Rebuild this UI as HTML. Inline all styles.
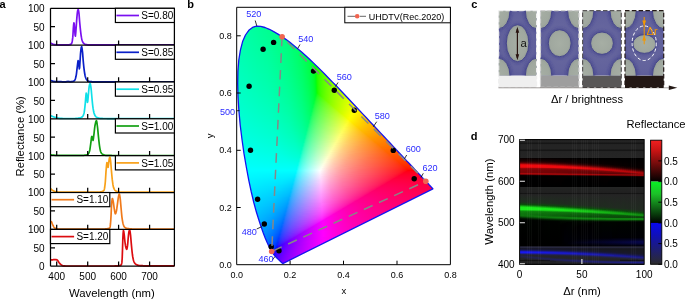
<!DOCTYPE html>
<html><head><meta charset="utf-8"><title>figure</title>
<style>
html,body{margin:0;padding:0;background:#fff}
body{width:685px;height:300px;overflow:hidden;position:relative;font-family:"Liberation Sans",Arial,sans-serif}
#cie{position:absolute;left:236px;top:0;width:210px;height:270px;clip-path:polygon(47.2px 263.3px,47.2px 263.3px,47.2px 263.3px,47.2px 263.3px,47.1px 263.3px,47.1px 263.3px,47.1px 263.3px,47.1px 263.3px,47.0px 263.3px,47.0px 263.3px,47.0px 263.3px,47.0px 263.3px,46.9px 263.3px,46.9px 263.3px,46.8px 263.3px,46.8px 263.3px,46.7px 263.3px,46.7px 263.3px,46.6px 263.3px,46.6px 263.3px,46.5px 263.2px,46.4px 263.2px,46.3px 263.1px,46.1px 263.0px,46.0px 262.9px,45.8px 262.7px,45.6px 262.6px,45.4px 262.4px,45.2px 262.1px,44.9px 261.9px,44.6px 261.6px,44.3px 261.3px,43.9px 260.9px,43.5px 260.6px,43.1px 260.1px,42.5px 259.6px,42.0px 259.1px,41.4px 258.5px,40.7px 257.8px,39.9px 257.1px,39.2px 256.2px,38.3px 255.2px,37.4px 254.0px,36.4px 252.5px,35.2px 250.6px,33.9px 248.2px,32.4px 245.3px,30.8px 241.8px,29.1px 237.7px,27.2px 232.7px,25.1px 226.7px,22.8px 219.8px,20.3px 211.8px,17.8px 202.5px,15.3px 192.0px,12.8px 180.3px,10.4px 167.5px,8.0px 153.7px,6.0px 139.5px,4.2px 125.0px,2.9px 110.7px,2.0px 96.7px,1.7px 83.6px,1.9px 71.3px,2.8px 60.0px,4.4px 50.1px,6.6px 41.6px,9.5px 35.0px,12.8px 30.3px,16.5px 27.4px,20.5px 26.1px,24.7px 26.3px,29.0px 27.5px,33.4px 29.3px,37.7px 31.6px,42.0px 34.1px,46.2px 36.8px,50.2px 39.6px,54.2px 42.6px,58.1px 45.7px,62.0px 48.9px,65.9px 52.2px,69.8px 55.7px,73.6px 59.3px,77.4px 62.9px,81.3px 66.6px,85.1px 70.4px,88.9px 74.3px,92.7px 78.2px,96.5px 82.1px,100.4px 86.0px,104.2px 90.0px,108.0px 94.0px,111.8px 98.0px,115.5px 102.0px,119.3px 106.0px,123.0px 110.0px,126.7px 113.9px,130.4px 117.8px,134.0px 121.7px,137.6px 125.5px,141.1px 129.2px,144.5px 132.9px,147.9px 136.5px,151.1px 139.9px,154.3px 143.3px,157.4px 146.6px,160.3px 149.8px,163.1px 152.7px,165.7px 155.5px,168.2px 158.1px,170.5px 160.7px,172.8px 163.0px,174.9px 165.2px,176.8px 167.3px,178.5px 169.1px,180.2px 170.9px,181.6px 172.5px,183.0px 173.9px,184.3px 175.3px,185.4px 176.5px,186.4px 177.6px,187.4px 178.6px,188.3px 179.5px,189.0px 180.4px,189.8px 181.2px,190.5px 181.9px,191.1px 182.6px,191.7px 183.2px,192.3px 183.8px,192.8px 184.3px,193.2px 184.8px,193.6px 185.3px,194.0px 185.7px,194.3px 186.0px,194.6px 186.3px,194.9px 186.6px,195.1px 186.8px,195.3px 187.1px,195.5px 187.3px,195.7px 187.4px,195.8px 187.6px,195.9px 187.7px,196.0px 187.8px,196.1px 187.9px,196.2px 188.0px,196.3px 188.1px,196.4px 188.2px,196.4px 188.3px,196.5px 188.4px,196.6px 188.4px,196.7px 188.5px,196.7px 188.6px,196.8px 188.6px,196.8px 188.7px,196.9px 188.7px,196.9px 188.7px,196.9px 188.8px,196.9px 188.8px,196.9px 188.8px,196.9px 188.8px)}
#cie i{position:absolute;left:0;width:210px;height:1px;display:block}
#heat{position:absolute;left:519px;top:139px;width:126px;height:126px;overflow:hidden}
#heat i{position:absolute;top:0;height:126px;display:block}
#heat b{position:absolute;top:0;height:126px;display:block;background:repeating-linear-gradient(90deg,rgba(255,255,255,.035) 0,rgba(255,255,255,.035) .7px,transparent .7px,transparent 2.2px)}
svg{position:absolute;left:0;top:0}
svg text{font-family:"Liberation Sans",Arial,sans-serif}
</style></head><body>
<div id="cie">
<i style="top:26px;background:linear-gradient(90deg,#00ffa0 16px,#00ff93 30px)"></i>
<i style="top:27px;background:linear-gradient(90deg,#00ffa2 14px,#00ff92 32px)"></i>
<i style="top:28px;background:linear-gradient(90deg,#00ffa4 12px,#00ff8f 35px)"></i>
<i style="top:29px;background:linear-gradient(90deg,#00ffa5 11px,#00ff8d 37px)"></i>
<i style="top:30px;background:linear-gradient(90deg,#00ffa6 10px,#00ff8b 39px)"></i>
<i style="top:31px;background:linear-gradient(90deg,#00ffa7 9px,#00ff8a 40px)"></i>
<i style="top:32px;background:linear-gradient(90deg,#00ffa8 9px,#00ff8d 38px,#00ff87 42px)"></i>
<i style="top:33px;background:linear-gradient(90deg,#00ffa9 8px,#00ff8b 40px,#00ff85 44px)"></i>
<i style="top:34px;background:linear-gradient(90deg,#00ffaa 7px,#00ff8f 37px,#00ff84 45px)"></i>
<i style="top:35px;background:linear-gradient(90deg,#00ffaa 7px,#00ff8f 37px,#00ff81 47px)"></i>
<i style="top:36px;background:linear-gradient(90deg,#00ffab 7px,#00ff8c 40px,#00ff80 48px)"></i>
<i style="top:37px;background:linear-gradient(90deg,#00ffac 6px,#00ff8e 39px,#00ff7d 50px)"></i>
<i style="top:38px;background:linear-gradient(90deg,#00ffac 6px,#00ff92 36px,#00ff7c 51px)"></i>
<i style="top:39px;background:linear-gradient(90deg,#00ffad 5px,#00ff91 37px,#00ff79 53px)"></i>
<i style="top:40px;background:linear-gradient(90deg,#00ffad 5px,#00ff94 35px,#00ff77 54px)"></i>
<i style="top:41px;background:linear-gradient(90deg,#00ffae 5px,#00ff91 38px,#00ff76 55px)"></i>
<i style="top:42px;background:linear-gradient(90deg,#00ffaf 4px,#00ff95 35px,#00ff76 55px,#00ff72 57px)"></i>
<i style="top:43px;background:linear-gradient(90deg,#00ffaf 4px,#00ff94 36px,#00ff75 56px,#00ff70 58px)"></i>
<i style="top:44px;background:linear-gradient(90deg,#00ffb0 4px,#00ff94 36px,#00ff77 55px,#00ff6e 59px)"></i>
<i style="top:45px;background:linear-gradient(90deg,#00ffb1 3px,#00ff94 37px,#00ff76 56px,#00ff6a 61px)"></i>
<i style="top:46px;background:linear-gradient(90deg,#00ffb1 3px,#00ff99 33px,#00ff78 55px,#00ff68 62px)"></i>
<i style="top:47px;background:linear-gradient(90deg,#00ffb1 3px,#00ff99 33px,#00ff7b 54px,#00ff66 63px)"></i>
<i style="top:48px;background:linear-gradient(90deg,#00ffb2 3px,#00ff97 35px,#00ff79 55px,#00ff63 64px)"></i>
<i style="top:49px;background:linear-gradient(90deg,#00ffb3 2px,#00ff97 36px,#00ff7a 55px,#00ff61 65px)"></i>
<i style="top:50px;background:linear-gradient(90deg,#00ffb3 2px,#00ff9b 32px,#00ff80 52px,#00ff61 65px,#00ff5e 66px)"></i>
<i style="top:51px;background:linear-gradient(90deg,#00ffb4 2px,#00ff99 35px,#00ff7b 55px,#00ff5b 67px,#00ff58 68px)"></i>
<i style="top:52px;background:linear-gradient(90deg,#00ffb4 2px,#00ff9c 32px,#00ff81 52px,#00ff62 65px,#00ff54 69px)"></i>
<i style="top:53px;background:linear-gradient(90deg,#00ffb5 2px,#00ff9a 35px,#00ff7c 55px,#00ff5c 67px,#00ff51 70px)"></i>
<i style="top:54px;background:linear-gradient(90deg,#00ffb5 2px,#00ff9b 34px,#00ff7e 54px,#00ff5d 67px,#00ff4d 71px)"></i>
<i style="top:55px;background:linear-gradient(90deg,#00ffb6 1px,#00ff9b 35px,#00ff7d 55px,#00ff5d 67px,#00ff49 72px)"></i>
<i style="top:56px;background:linear-gradient(90deg,#00ffb6 1px,#00ff9e 32px,#00ff83 52px,#00ff64 65px,#00ff44 73px)"></i>
<i style="top:57px;background:linear-gradient(90deg,#00ffb7 1px,#00ff9c 35px,#00ff7c 56px,#00ff5b 68px,#00ff3f 74px)"></i>
<i style="top:58px;background:linear-gradient(90deg,#00ffb7 1px,#00ff9e 33px,#00ff82 53px,#00ff65 65px,#00ff4b 72px,#00ff3a 75px)"></i>
<i style="top:59px;background:linear-gradient(90deg,#00ffb8 1px,#00ff9e 34px,#00ff7d 56px,#00ff5c 68px,#00ff40 74px,#00ff33 76px)"></i>
<i style="top:60px;background:linear-gradient(90deg,#00ffb8 1px,#00ff9f 33px,#00ff83 53px,#00ff66 65px,#00ff47 73px,#00ff2b 77px)"></i>
<i style="top:61px;background:linear-gradient(90deg,#00ffb8 1px,#00ff9f 34px,#00ff7e 56px,#00ff5d 68px,#00ff42 74px,#00ff22 78px)"></i>
<i style="top:62px;background:linear-gradient(90deg,#00ffb9 1px,#00ffa0 33px,#00ff84 53px,#00ff67 65px,#00ff48 73px,#00ff2d 77px,#00ff13 79px,#14ff00 80px)"></i>
<i style="top:63px;background:linear-gradient(90deg,#00ffba 0px,#00ff9f 35px,#00ff7f 56px,#00ff5e 68px,#00ff43 74px,#00ff23 78px,#00ff14 79px,#13ff00 80px,#23ff00 81px)"></i>
<i style="top:64px;background:linear-gradient(90deg,#00ffba 0px,#00ffa2 32px,#00ff87 52px,#00ff69 65px,#00ff49 73px,#00ff2e 77px,#00ff15 79px,#12ff00 80px,#2dff00 82px)"></i>
<i style="top:65px;background:linear-gradient(90deg,#00ffbb 0px,#00ffa0 35px,#00ff80 56px,#00ff5f 68px,#00ff3e 75px,#00ff24 78px,#00ff16 79px,#11ff00 80px,#22ff00 81px,#36ff00 83px)"></i>
<i style="top:66px;background:linear-gradient(90deg,#00ffbb 0px,#00ffa3 32px,#00ff88 52px,#00ff67 66px,#00ff4a 73px,#00ff2f 77px,#00ff17 79px,#10ff00 80px,#2dff00 82px,#3eff00 84px)"></i>
<i style="top:67px;background:linear-gradient(90deg,#00ffbc 0px,#00ffa1 35px,#00ff83 55px,#00ff64 67px,#00ff45 74px,#00ff26 78px,#00ff18 79px,#0fff00 80px,#21ff00 81px,#3eff00 84px,#45ff00 85px)"></i>
<i style="top:68px;background:linear-gradient(90deg,#00ffbc 0px,#00ffa4 32px,#00ff8b 51px,#00ff6e 64px,#00ff50 72px,#00ff38 76px,#00ff26 78px,#00ff19 79px,#0eff00 80px,#21ff00 81px,#3eff00 84px,#4cff00 86px)"></i>
<i style="top:69px;background:linear-gradient(90deg,#00ffbd 0px,#00ffa2 35px,#00ff84 55px,#00ff65 67px,#00ff46 74px,#00ff27 78px,#00ff1a 79px,#0dff00 80px,#20ff00 81px,#3eff00 84px,#52ff00 87px)"></i>
<i style="top:70px;background:linear-gradient(90deg,#00ffbd 0px,#00ffa5 32px,#00ff8c 51px,#00ff6f 64px,#00ff51 72px,#00ff3a 76px,#00ff28 78px,#00ff1b 79px,#0bff00 80px,#20ff00 81px,#3eff00 84px,#58ff00 88px)"></i>
<i style="top:71px;background:linear-gradient(90deg,#00ffbd 0px,#00ffa6 32px,#00ff8b 52px,#00ff6d 65px,#00ff4d 73px,#00ff32 77px,#00ff1b 79px,#09ff00 80px,#1fff00 81px,#36ff00 83px,#59ff00 88px,#5eff00 89px)"></i>
<i style="top:72px;background:linear-gradient(90deg,#00ffbe 0px,#00ffa6 32px,#00ff8c 52px,#00ff6d 65px,#00ff4d 73px,#00ff33 77px,#00ff1c 79px,#07ff00 80px,#1fff00 81px,#46ff00 85px,#64ff00 90px)"></i>
<i style="top:73px;background:linear-gradient(90deg,#00ffbe 0px,#00ffa7 32px,#00ff8c 52px,#00ff6b 66px,#00ff4e 73px,#00ff33 77px,#00ff1d 79px,#04ff00 80px,#1eff00 81px,#3eff00 84px,#64ff00 90px,#69ff00 91px)"></i>
<i style="top:74px;background:linear-gradient(90deg,#00ffbf 0px,#00ffa8 32px,#00ff89 54px,#00ff6b 66px,#00ff4f 73px,#00ff34 77px,#00ff1e 79px,#00ff04 80px,#1eff00 81px,#3eff00 84px,#6aff00 91px,#6fff00 92px)"></i>
<i style="top:75px;background:linear-gradient(90deg,#00ffbf 0px,#00ffa8 32px,#00ff8f 51px,#00ff72 64px,#00ff54 72px,#00ff3d 76px,#00ff1f 79px,#00ff07 80px,#1dff00 81px,#35ff00 83px,#5aff00 88px,#74ff00 93px)"></i>
<i style="top:76px;background:linear-gradient(90deg,#00ffc0 0px,#00ffa6 35px,#00ff88 55px,#00ff6d 66px,#00ff50 73px,#00ff35 77px,#00ff20 79px,#00ff09 80px,#1dff00 81px,#3eff00 84px,#65ff00 90px,#79ff00 94px)"></i>
<i style="top:77px;background:linear-gradient(90deg,#00ffc0 0px,#00ffa9 32px,#00ff8d 53px,#00ff6a 67px,#00ff4b 74px,#00ff2d 78px,#00ff20 79px,#00ff0b 80px,#1cff00 81px,#35ff00 83px,#5aff00 88px,#7eff00 95px)"></i>
<i style="top:78px;background:linear-gradient(90deg,#00ffc1 0px,#00ffa6 36px,#00ff88 56px,#00ff67 68px,#00ff46 75px,#00ff2d 78px,#00ff21 79px,#00ff0d 80px,#1bff00 81px,#35ff00 83px,#5aff00 88px,#83ff00 96px)"></i>
<i style="top:79px;background:linear-gradient(90deg,#00ffc1 0px,#00ffaa 32px,#00ff90 52px,#00ff72 65px,#00ff52 73px,#00ff37 77px,#00ff22 79px,#00ff0e 80px,#1bff00 81px,#35ff00 83px,#61ff00 89px,#88ff00 97px)"></i>
<i style="top:80px;background:linear-gradient(90deg,#00ffc2 0px,#00ffa7 36px,#00ff89 56px,#00ff68 68px,#00ff47 75px,#00ff2f 78px,#00ff23 79px,#00ff10 80px,#1aff00 81px,#34ff00 83px,#54ff00 87px,#80ff00 95px,#88ff00 97px)"></i>
<i style="top:81px;background:linear-gradient(90deg,#00ffc2 0px,#00ffac 31px,#00ff93 51px,#00ff76 64px,#00ff58 72px,#00ff39 77px,#00ff24 79px,#00ff11 80px,#19ff00 81px,#34ff00 83px,#55ff00 87px,#85ff00 96px,#8dff00 98px)"></i>
<i style="top:82px;background:linear-gradient(90deg,#00ffc3 0px,#00ffaa 34px,#00ff8e 54px,#00ff70 66px,#00ff54 73px,#00ff39 77px,#00ff24 79px,#00ff12 80px,#19ff00 81px,#34ff00 83px,#55ff00 87px,#81ff00 95px,#92ff00 99px)"></i>
<i style="top:83px;background:linear-gradient(90deg,#00ffc3 0px,#00ffab 34px,#00ff8f 54px,#00ff6e 67px,#00ff49 75px,#00ff31 78px,#00ff14 80px,#18ff00 81px,#34ff00 83px,#5cff00 88px,#8fff00 98px,#97ff00 100px)"></i>
<i style="top:84px;background:linear-gradient(90deg,#00ffc4 0px,#00ffab 34px,#00ff91 53px,#00ff75 65px,#00ff55 73px,#00ff3b 77px,#00ff26 79px,#00ff15 80px,#17ff00 81px,#34ff00 83px,#5cff00 88px,#8bff00 97px,#9cff00 101px)"></i>
<i style="top:85px;background:linear-gradient(90deg,#00ffc4 0px,#00ffac 34px,#00ff90 54px,#00ff72 66px,#00ff56 73px,#00ff3c 77px,#00ff27 79px,#00ff16 80px,#16ff00 81px,#28ff00 82px,#46ff00 85px,#6eff00 91px,#9dff00 101px,#a0ff00 102px)"></i>
<i style="top:86px;background:linear-gradient(90deg,#00ffc5 0px,#00ffae 32px,#00ff96 51px,#00ff7c 63px,#00ff5c 72px,#00ff3c 77px,#00ff28 79px,#00ff17 80px,#15ff00 81px,#34ff00 83px,#56ff00 87px,#88ff00 96px,#a5ff00 103px)"></i>
<i style="top:87px;background:linear-gradient(90deg,#00ffc5 0px,#00ffaf 32px,#00ff95 52px,#00ff77 65px,#00ff57 73px,#00ff3d 77px,#00ff29 79px,#00ff18 80px,#14ff00 81px,#27ff00 82px,#47ff00 85px,#6fff00 91px,#a2ff00 102px,#aaff00 104px)"></i>
<i style="top:88px;background:linear-gradient(90deg,#00ffc6 0px,#00ffac 36px,#00ff8e 56px,#00ff71 67px,#00ff58 73px,#00ff3e 77px,#00ff29 79px,#00ff19 80px,#13ff00 81px,#26ff00 82px,#47ff00 85px,#6fff00 91px,#9fff00 101px,#afff00 105px)"></i>
<i style="top:89px;background:linear-gradient(90deg,#00ffc6 0px,#00ffb0 32px,#00ff98 51px,#00ff7e 63px,#00ff5e 72px,#00ff3f 77px,#00ff2a 79px,#00ff1a 80px,#12ff00 81px,#26ff00 82px,#47ff00 85px,#70ff00 91px,#a4ff00 102px,#b3ff00 106px)"></i>
<i style="top:90px;background:linear-gradient(90deg,#00ffc7 0px,#00ffaf 34px,#00ff94 54px,#00ff73 67px,#00ff4e 75px,#00ff2b 79px,#00ff1b 80px,#11ff00 81px,#26ff00 82px,#47ff00 85px,#70ff00 91px,#a1ff00 101px,#b8ff00 107px)"></i>
<i style="top:91px;background:linear-gradient(90deg,#00ffc7 0px,#00ffaf 35px,#00ff92 55px,#00ff77 66px,#00ff55 74px,#00ff37 78px,#00ff1d 80px,#10ff00 81px,#25ff00 82px,#3eff00 84px,#6bff00 90px,#a2ff00 101px,#bdff00 108px)"></i>
<i style="top:92px;background:linear-gradient(90deg,#00ffc8 0px,#00ffb1 33px,#00ff97 53px,#00ff78 66px,#00ff5b 73px,#00ff41 77px,#00ff2d 79px,#00ff1e 80px,#0eff00 81px,#25ff00 82px,#47ff00 85px,#71ff00 91px,#9eff00 100px,#c2ff00 109px)"></i>
<i style="top:93px;background:linear-gradient(90deg,#00ffc8 0px,#00ffb2 33px,#00ff96 54px,#00ff78 66px,#00ff5c 73px,#00ff39 78px,#00ff1f 80px,#0fff09 81px,#24ff00 82px,#47ff00 85px,#72ff00 91px,#a8ff00 102px,#c6ff00 110px)"></i>
<i style="top:94px;background:linear-gradient(90deg,#00ffc9 0px,#00ffb3 32px,#00ff9a 52px,#00ff7c 65px,#00ff5c 73px,#00ff42 77px,#00ff2e 79px,#00ff20 80px,#16ff13 81px,#32ff00 83px,#58ff00 87px,#88ff00 95px,#bdff00 107px,#cbff00 111px)"></i>
<i style="top:95px;background:linear-gradient(90deg,#00ffc9 0px,#00ffb3 33px,#00ff99 53px,#00ff7d 65px,#00ff5d 73px,#00ff43 77px,#00ff2f 79px,#00ff21 80px,#1bff19 81px,#34ff0d 83px,#3dff00 84px,#5fff00 88px,#8eff00 96px,#c2ff00 108px,#d0ff00 112px)"></i>
<i style="top:96px;background:linear-gradient(90deg,#00ffca 0px,#00ffb2 35px,#00ff96 55px,#00ff7b 66px,#00ff5e 73px,#00ff44 77px,#00ff30 79px,#07ff23 80px,#1fff1f 81px,#3fff0e 84px,#47ff00 85px,#6dff00 90px,#99ff00 98px,#d5ff00 113px)"></i>
<i style="top:97px;background:linear-gradient(90deg,#00ffca 0px,#00ffb5 32px,#00ff9c 52px,#00ff7f 65px,#00ff5f 73px,#00ff3c 78px,#00ff31 79px,#11ff27 80px,#23ff23 81px,#42ff16 84px,#49ff10 85px,#51ff04 86px,#60ff00 88px,#90ff00 96px,#c8ff00 109px,#daff00 114px)"></i>
<i style="top:98px;background:linear-gradient(90deg,#00ffcb 0px,#00ffb5 33px,#00ff9d 52px,#00ff82 64px,#00ff65 72px,#00ff46 77px,#00ff32 79px,#17ff2b 80px,#32ff24 82px,#53ff11 86px,#60ff00 88px,#86ff00 94px,#bdff00 106px,#dfff00 115px)"></i>
<i style="top:99px;background:linear-gradient(90deg,#00ffcb 0px,#00ffb6 33px,#00ff9c 53px,#00ff80 65px,#00ff60 73px,#00ff46 77px,#00ff33 79px,#1cff2f 80px,#35ff29 82px,#5bff13 87px,#68ff00 89px,#96ff00 97px,#ceff00 110px,#e4ff00 116px)"></i>
<i style="top:100px;background:linear-gradient(90deg,#00ffcc 0px,#00ffb7 32px,#00ff9f 52px,#00ff81 65px,#00ff61 73px,#00ff47 77px,#00ff3e 78px,#09ff35 79px,#20ff32 80px,#38ff2c 82px,#5dff1a 87px,#69ff0c 89px,#6fff00 90px,#9cff00 98px,#d0ff00 110px,#e9ff00 117px)"></i>
<i style="top:101px;background:linear-gradient(90deg,#00ffcd 0px,#00ffb5 35px,#00ff9c 54px,#00ff7f 66px,#00ff5d 74px,#00ff3f 78px,#24ff35 80px,#4bff2a 84px,#6bff15 89px,#71ff0e 90px,#76ff00 91px,#a7ff00 100px,#e7ff00 116px,#eeff00 118px)"></i>
<i style="top:102px;background:linear-gradient(90deg,#00ffcd 0px,#00ffb7 34px,#00ff9d 54px,#00ff80 66px,#00ff63 73px,#00ff49 77px,#00ff40 78px,#18ff3b 79px,#33ff36 81px,#5bff28 86px,#73ff16 90px,#78ff0f 91px,#7dff00 92px,#b6ff00 103px,#efff00 118px)"></i>
<i style="top:103px;background:linear-gradient(90deg,#00ffce 0px,#00ffb6 36px,#00ff9a 56px,#00ff7a 68px,#00ff5e 74px,#00ff41 78px,#1dff3e 79px,#36ff39 81px,#5dff2c 86px,#7aff18 91px,#84ff05 93px,#90ff00 95px,#ccff00 108px,#f5ff00 119px)"></i>
<i style="top:104px;background:linear-gradient(90deg,#00ffce 0px,#00ffba 32px,#00ffa2 52px,#00ff85 65px,#00ff65 73px,#00ff4b 77px,#0bff43 78px,#21ff41 79px,#42ff3a 82px,#71ff26 89px,#86ff12 93px,#90ff00 95px,#c5ff00 106px,#faff00 120px)"></i>
<i style="top:105px;background:linear-gradient(90deg,#00ffcf 0px,#00ffb9 34px,#00ffa1 53px,#00ff85 65px,#00ff66 73px,#00ff4c 77px,#25ff44 79px,#4cff3b 83px,#7eff23 91px,#8dff14 94px,#97ff00 96px,#d3ff00 109px,#ffff00 121px)"></i>
<i style="top:106px;background:linear-gradient(90deg,#00ffcf 1px,#00ffb9 35px,#00ffa0 54px,#00ff83 66px,#00ff67 73px,#00ff4d 77px,#19ff48 78px,#34ff45 80px,#56ff3c 84px,#85ff24 92px,#98ff0d 96px,#9dff00 97px,#d4ff00 109px,#feff00 120px,#fffa00 122px)"></i>
<i style="top:107px;background:linear-gradient(90deg,#00ffcf 1px,#00ffbc 32px,#00ffa3 53px,#00ff84 66px,#00ff68 73px,#00ff4d 77px,#1eff4b 78px,#41ff46 81px,#6bff38 87px,#95ff1c 95px,#9fff0f 97px,#a4ff00 98px,#e2ff00 112px,#fffe00 120px,#fff500 123px)"></i>
<i style="top:108px;background:linear-gradient(90deg,#00ffd0 1px,#00ffbb 34px,#00ffa5 52px,#00ff8b 64px,#00ff6e 72px,#00ff56 76px,#0dff50 77px,#22ff4e 78px,#43ff48 81px,#6dff3b 87px,#97ff22 95px,#a5ff11 98px,#aaff01 99px,#e8ff00 113px,#feff00 119px,#fff000 124px)"></i>
<i style="top:109px;background:linear-gradient(90deg,#00ffd1 1px,#00ffbb 35px,#00ffa1 55px,#00ff83 67px,#00ff5e 75px,#00ff57 76px,#26ff50 78px,#46ff4b 81px,#75ff3c 88px,#a3ff1f 97px,#acff12 99px,#b5ff00 101px,#f9ff00 117px,#fffa00 120px,#ffeb00 125px)"></i>
<i style="top:110px;background:linear-gradient(90deg,#00ffd1 1px,#00ffbc 35px,#00ffa2 55px,#00ff84 67px,#00ff5f 75px,#00ff58 76px,#1aff55 77px,#35ff51 79px,#57ff4a 83px,#87ff38 91px,#a9ff20 98px,#b2ff14 100px,#bcff00 102px,#feff00 118px,#ffe600 126px)"></i>
<i style="top:111px;background:linear-gradient(90deg,#00ffd2 1px,#00ffbb 37px,#00ff9f 57px,#00ff81 68px,#00ff60 75px,#00ff59 76px,#1fff57 77px,#42ff52 80px,#73ff45 87px,#a6ff29 97px,#b9ff15 101px,#c2ff00 103px,#fdff00 117px,#ffe200 127px)"></i>
<i style="top:112px;background:linear-gradient(90deg,#00ffd2 1px,#00ffbf 33px,#00ffa7 53px,#00ff8c 65px,#00ff6c 73px,#00ff61 75px,#0eff5b 76px,#23ff5a 77px,#3bff57 79px,#62ff4e 84px,#95ff3a 93px,#bbff1d 101px,#c4ff0e 103px,#c8ff00 104px,#ffff00 117px,#ffdd00 128px)"></i>
<i style="top:113px;background:linear-gradient(90deg,#00ffd3 1px,#00ffbe 35px,#00ffa6 54px,#00ff8a 66px,#00ff68 74px,#00ff62 75px,#27ff5c 77px,#47ff58 80px,#71ff4d 86px,#afff2f 98px,#c6ff18 103px,#caff10 104px,#ceff00 105px,#fdff00 116px,#ffd900 129px)"></i>
<i style="top:114px;background:linear-gradient(90deg,#00ffd4 1px,#00ffbe 36px,#00ffa7 54px,#00ff8b 66px,#00ff69 74px,#00ff63 75px,#1bff60 76px,#37ff5d 78px,#59ff57 82px,#8fff46 91px,#bfff29 101px,#d1ff12 105px,#d5ff04 106px,#deff00 108px,#ffff00 116px,#ffd900 128px,#ffd400 130px)"></i>
<i style="top:115px;background:linear-gradient(90deg,#00ffd4 1px,#00ffc0 35px,#00ffa8 54px,#00ff8c 66px,#00ff70 73px,#00ff64 75px,#20ff63 76px,#3aff60 78px,#69ff56 84px,#aaff3d 96px,#ceff21 104px,#d7ff14 106px,#e0ff00 108px,#feff00 115px,#ffd500 129px,#ffd000 131px)"></i>
<i style="top:116px;background:linear-gradient(90deg,#00ffd5 1px,#00ffc2 33px,#00ffab 53px,#00ff8d 66px,#00ff71 73px,#00ff6b 74px,#24ff65 76px,#3dff62 78px,#6bff59 84px,#acff41 96px,#d0ff26 104px,#deff15 107px,#e6ff00 109px,#fffe00 115px,#ffd500 128px,#ffcc00 132px)"></i>
<i style="top:117px;background:linear-gradient(90deg,#00ffd5 1px,#00ffc3 33px,#00ffac 53px,#00ff8e 66px,#00ff72 73px,#00ff6c 74px,#17ff69 75px,#35ff66 77px,#58ff60 81px,#8aff53 89px,#c5ff36 101px,#e0ff1e 107px,#e9ff0e 109px,#edff00 110px,#feff00 114px,#ffd800 126px,#ffc800 133px)"></i>
<i style="top:118px;background:linear-gradient(90deg,#00ffd6 2px,#00ffc1 36px,#00ffab 54px,#00ff8f 66px,#00ff73 73px,#00ff6d 74px,#1cff6b 75px,#38ff68 77px,#62ff61 82px,#9cff50 92px,#d5ff31 104px,#ebff18 109px,#efff10 110px,#f4ff00 111px,#fffd00 114px,#ffd600 126px,#ffc400 134px)"></i>
<i style="top:119px;background:linear-gradient(90deg,#00ffd6 2px,#00ffc3 35px,#00ffac 54px,#00ff90 66px,#00ff74 73px,#05ff6f 74px,#21ff6d 75px,#3bff6b 77px,#5dff65 81px,#99ff55 91px,#d2ff39 103px,#edff20 109px,#f6ff12 111px,#faff00 112px,#fffb00 114px,#ffd400 126px,#ffc200 134px)"></i>
<i style="top:120px;background:linear-gradient(90deg,#00ffd7 2px,#00ffc3 36px,#00ffad 54px,#00ff94 65px,#00ff7a 72px,#00ff75 73px,#26ff70 75px,#47ff6c 78px,#73ff64 84px,#b4ff4e 96px,#e2ff33 106px,#f8ff1b 111px,#fdff14 112px,#fffd06 113px,#fff900 114px,#ffd700 124px,#ffbe00 135px)"></i>
<i style="top:121px;background:linear-gradient(90deg,#00ffd8 2px,#00ffc3 37px,#00ffac 55px,#00ff93 66px,#00ff76 73px,#18ff73 74px,#2aff72 75px,#4aff6e 78px,#75ff66 84px,#b6ff51 96px,#e5ff38 106px,#ffff1d 112px,#fff200 115px,#ffcb00 128px,#ffbb00 136px)"></i>
<i style="top:122px;background:linear-gradient(90deg,#00ffd8 2px,#00ffc5 36px,#00ffac 56px,#00ff91 67px,#00ff78 73px,#1eff76 74px,#44ff72 77px,#71ff6a 83px,#b3ff57 95px,#ebff39 107px,#fffc24 112px,#fff00c 115px,#ffec00 116px,#ffc900 128px,#ffb700 137px)"></i>
<i style="top:123px;background:linear-gradient(90deg,#00ffd9 2px,#00ffc7 34px,#00ffb2 53px,#00ff98 65px,#00ff7e 72px,#08ff79 73px,#22ff78 74px,#3cff76 76px,#66ff70 81px,#a1ff61 91px,#e5ff43 105px,#fffe2f 111px,#ffed17 115px,#ffe600 117px,#ffc500 129px,#ffb300 138px)"></i>
<i style="top:124px;background:linear-gradient(90deg,#00ffda 2px,#00ffc7 35px,#00ffb3 53px,#00ff99 65px,#00ff7f 72px,#27ff7a 74px,#52ff76 78px,#88ff6b 86px,#d0ff53 100px,#feff38 110px,#ffe718 116px,#ffe410 117px,#ffe000 118px,#ffb800 134px,#ffb000 139px)"></i>
<i style="top:125px;background:linear-gradient(90deg,#00ffda 2px,#00ffc8 35px,#00ffb4 53px,#00ff9a 65px,#00ff80 72px,#19ff7e 73px,#38ff7c 75px,#64ff76 80px,#a0ff68 90px,#eeff48 106px,#fffe3c 110px,#ffe119 117px,#ffde11 118px,#ffdb00 119px,#ffb800 133px,#ffac00 140px)"></i>
<i style="top:126px;background:linear-gradient(90deg,#00ffdb 2px,#00ffc8 36px,#00ffb2 55px,#00ff99 66px,#00ff82 72px,#1fff80 73px,#3bff7e 75px,#66ff78 80px,#a8ff69 91px,#f1ff4c 106px,#feff44 109px,#ffdc1a 118px,#ffd506 120px,#ffd200 121px,#ffb300 135px,#ffa900 141px)"></i>
<i style="top:127px;background:linear-gradient(90deg,#00ffdc 2px,#00ffc9 36px,#00ffb3 55px,#00ff97 67px,#00ff88 71px,#0aff83 72px,#24ff82 73px,#48ff7f 76px,#76ff78 82px,#b9ff68 94px,#fcff4b 108px,#ffe833 114px,#ffd313 120px,#ffcd00 122px,#ffab00 138px,#ffa500 142px)"></i>
<i style="top:128px;background:linear-gradient(90deg,#00ffdc 3px,#00ffc9 37px,#00ffb4 55px,#00ff9b 66px,#00ff89 71px,#28ff85 73px,#4bff82 76px,#78ff7b 82px,#c1ff69 95px,#ffff4f 108px,#ffd420 119px,#ffcb0b 122px,#ffc800 123px,#ffa600 140px,#ffa200 143px)"></i>
<i style="top:129px;background:linear-gradient(90deg,#00ffdd 3px,#00ffca 37px,#00ffb5 55px,#00ff9d 66px,#00ff8a 71px,#1bff88 72px,#39ff86 74px,#66ff81 79px,#9eff76 88px,#f8ff57 106px,#fffc52 108px,#ffcf21 120px,#ffc60d 123px,#ffc300 124px,#ffa100 142px,#ff9e00 144px)"></i>
<i style="top:130px;background:linear-gradient(90deg,#00ffdd 3px,#00ffcc 36px,#00ffb8 54px,#00ff9e 66px,#00ff8c 71px,#20ff8b 72px,#3cff89 74px,#61ff85 78px,#9bff7a 87px,#fbff5b 106px,#fffa54 108px,#ffd02a 119px,#ffc10f 124px,#ffbe00 125px,#ff9f00 142px,#ff9b00 145px)"></i>
<i style="top:131px;background:linear-gradient(90deg,#00ffde 3px,#00ffcc 37px,#00ffb8 55px,#00ff9c 67px,#00ff91 70px,#0cff8e 71px,#25ff8d 72px,#3fff8b 74px,#63ff87 78px,#9dff7d 87px,#feff5e 106px,#ffd132 118px,#ffbf17 124px,#ffbc10 125px,#ffb903 126px,#ffad00 132px,#ff9800 146px)"></i>
<i style="top:132px;background:linear-gradient(90deg,#00ffdf 3px,#00ffcb 40px,#00ffb2 59px,#00ff97 69px,#00ff93 70px,#29ff8f 72px,#43ff8d 74px,#74ff87 80px,#b5ff7a 91px,#fffe61 106px,#ffd239 117px,#ffba18 125px,#ffb300 128px,#ff9600 146px,#ff9500 147px)"></i>
<i style="top:133px;background:linear-gradient(90deg,#00ffdf 3px,#00ffce 37px,#00ffba 55px,#00ffa2 66px,#00ff94 70px,#1cff93 71px,#3bff91 73px,#68ff8c 78px,#a7ff81 88px,#feff67 105px,#ffd340 116px,#ffb618 126px,#ffae00 129px,#ff9100 148px)"></i>
<i style="top:134px;background:linear-gradient(90deg,#00ffe0 3px,#00ffcf 37px,#00ffba 56px,#00ffa1 67px,#00ff96 70px,#22ff95 71px,#3eff93 73px,#63ff90 77px,#a4ff85 87px,#fcff6d 104px,#ffe758 110px,#ffbe2e 122px,#ffaf13 128px,#ffaa00 130px,#ff8e00 149px)"></i>
<i style="top:135px;background:linear-gradient(90deg,#00ffe1 3px,#00ffce 40px,#00ffb8 58px,#00ff9f 68px,#00ff9b 69px,#0eff98 70px,#26ff97 71px,#41ff96 73px,#6dff91 78px,#b7ff84 90px,#ffff70 104px,#ffd54d 114px,#ffad1a 128px,#ffa80d 130px,#ffa600 131px,#ff8c00 149px)"></i>
<i style="top:136px;background:linear-gradient(90deg,#00ffe1 4px,#00ffd0 39px,#00ffbb 57px,#00ffa4 67px,#00ff9d 69px,#2bff9a 71px,#4eff97 74px,#7dff92 80px,#c4ff85 92px,#fdff75 103px,#ffc945 117px,#ffab1f 128px,#ffa40e 131px,#ffa100 132px,#ff8900 150px)"></i>
<i style="top:137px;background:linear-gradient(90deg,#00ffe2 4px,#00ffd0 40px,#00ffba 58px,#00ffa2 68px,#00ff9f 69px,#1dff9d 70px,#3cff9b 72px,#62ff98 76px,#99ff90 84px,#f0ff7d 100px,#ffff78 103px,#ffd455 113px,#ffa61f 129px,#ffa00f 132px,#ff9d04 133px,#ff9a00 135px,#ff8600 151px)"></i>
<i style="top:138px;background:linear-gradient(90deg,#00ffe3 4px,#00ffd1 40px,#00ffbc 58px,#00ffa4 68px,#00ffa0 69px,#23ff9f 70px,#40ff9e 72px,#6dff9a 77px,#adff90 87px,#fdff7d 102px,#ffcb51 115px,#ffa21f 130px,#ff9c10 133px,#ff9800 135px,#ff8300 152px)"></i>
<i style="top:139px;background:linear-gradient(90deg,#00ffe3 4px,#00ffd5 36px,#00ffc2 55px,#00ffae 65px,#00ffa5 68px,#10ffa3 69px,#28ffa2 70px,#43ffa0 72px,#6fff9c 77px,#b0ff93 87px,#fffe80 102px,#ffd35c 112px,#ffa52b 128px,#ff9811 134px,#ff9400 136px,#ff8000 153px)"></i>
<i style="top:140px;background:linear-gradient(90deg,#00ffe4 4px,#00ffd4 39px,#00ffbf 58px,#00ffa7 68px,#2cffa4 70px,#50ffa2 73px,#80ff9d 79px,#d4ff8f 93px,#feff85 101px,#ffcd5b 113px,#ff9c24 131px,#ff920b 136px,#ff9000 137px,#ff7c00 154px)"></i>
<i style="top:141px;background:linear-gradient(90deg,#00ffe5 4px,#00ffd5 39px,#00ffc0 58px,#00ffa9 68px,#1fffa8 69px,#3effa6 71px,#6dffa2 76px,#b5ff99 87px,#fffd88 101px,#ffd264 111px,#ffa83a 125px,#ff9218 135px,#ff8e0c 137px,#ff8c00 138px,#ff7900 155px)"></i>
<i style="top:142px;background:linear-gradient(90deg,#00ffe6 4px,#00ffd5 41px,#00ffc0 59px,#00ffab 68px,#24ffaa 69px,#41ffa9 71px,#67ffa6 75px,#9fff9f 83px,#ffff8d 100px,#ffd369 110px,#ffa63d 125px,#ff8e19 136px,#ff8a0d 138px,#ff8800 139px,#ff7600 156px)"></i>
<i style="top:143px;background:linear-gradient(90deg,#00ffe7 4px,#00ffd6 41px,#00ffc2 59px,#00ffb0 67px,#29ffad 69px,#45ffab 71px,#7affa7 77px,#c5ff9d 89px,#fcff92 99px,#ffe57c 105px,#ffba56 117px,#ff8e21 135px,#ff860f 139px,#ff8300 141px,#ff7300 157px)"></i>
<i style="top:144px;background:linear-gradient(90deg,#00ffe7 5px,#00ffd8 40px,#00ffc3 59px,#00ffb2 67px,#1affb0 68px,#2effaf 69px,#52ffad 72px,#7cffaa 77px,#bcffa1 87px,#ffff95 99px,#ffd270 109px,#ffa242 125px,#ff861a 138px,#ff8310 140px,#ff7f00 142px,#ff7000 158px)"></i>
<i style="top:145px;background:linear-gradient(90deg,#00ffe8 5px,#00ffd8 42px,#00ffc5 59px,#00ffb3 67px,#20ffb2 68px,#40ffb1 70px,#67ffae 74px,#a1ffa9 82px,#fdff9a 98px,#ffcc6e 110px,#ff9e41 126px,#ff831a 139px,#ff7d09 142px,#ff7c00 143px,#ff6d00 159px)"></i>
<i style="top:146px;background:linear-gradient(90deg,#00ffe9 5px,#00ffd9 42px,#00ffc5 60px,#00ffb8 66px,#06ffb6 67px,#26ffb5 68px,#43ffb4 70px,#72ffb0 75px,#b6ffa9 85px,#fffe9c 98px,#ffd176 108px,#ffa851 121px,#ff811e 139px,#ff7a0b 143px,#ff7800 144px,#ff6a00 160px)"></i>
<i style="top:147px;background:linear-gradient(90deg,#00ffea 5px,#00ffdb 41px,#00ffca 58px,#00ffba 66px,#2bffb8 68px,#51ffb6 71px,#84ffb2 77px,#d6ffa8 90px,#feffa1 97px,#ffce78 108px,#ffa14d 123px,#ff7d1f 140px,#ff760c 144px,#ff7400 145px,#ff6700 161px)"></i>
<i style="top:148px;background:linear-gradient(90deg,#00ffea 5px,#00ffdd 40px,#00ffca 59px,#00ffbc 66px,#1bffbb 67px,#3effba 69px,#67ffb7 73px,#a2ffb2 81px,#fbffa6 96px,#fff89f 98px,#ffcc7a 108px,#ff9f4f 123px,#ff7a1f 141px,#ff730d 145px,#ff7102 146px,#ff6400 162px)"></i>
<i style="top:149px;background:linear-gradient(90deg,#00ffeb 5px,#00ffdd 42px,#00ffcc 59px,#00ffbe 66px,#22ffbd 67px,#41ffbc 69px,#6affba 73px,#abffb4 82px,#feffa9 96px,#ffd182 106px,#ffa256 121px,#ff761f 142px,#ff6f0e 146px,#ff6c00 148px,#ff6100 163px)"></i>
<i style="top:150px;background:linear-gradient(90deg,#00ffec 5px,#00ffde 43px,#00ffc9 62px,#00ffc3 65px,#09ffc1 66px,#27ffc0 67px,#45ffbf 69px,#6dffbd 73px,#aeffb7 82px,#fcffad 95px,#ffed9d 99px,#ffc77d 108px,#ff9b53 123px,#ff721f 143px,#ff6c0f 147px,#ff6900 149px,#ff5e00 163px)"></i>
<i style="top:151px;background:linear-gradient(90deg,#00ffed 6px,#00ffde 45px,#00ffcb 62px,#00ffc5 65px,#2cffc3 67px,#48ffc2 69px,#70ffc0 73px,#b1ffba 82px,#ffffb1 95px,#ffd48c 104px,#ffab67 116px,#ff7b33 137px,#ff6a15 147px,#ff6500 150px,#ff5b00 164px)"></i>
<i style="top:152px;background:linear-gradient(90deg,#00ffee 6px,#00ffdf 45px,#00ffcf 61px,#00ffc7 65px,#1dffc6 66px,#40ffc5 68px,#6affc3 72px,#adffbe 81px,#fcffb5 94px,#ffe29c 100px,#ffb574 112px,#ff8c4b 128px,#ff6a1d 146px,#ff630a 150px,#ff6200 151px,#ff5800 165px)"></i>
<i style="top:153px;background:linear-gradient(90deg,#00ffee 6px,#00ffe2 43px,#00ffcf 62px,#00ffc9 65px,#23ffc9 66px,#43ffc8 68px,#6dffc6 72px,#b0ffc1 81px,#fffeb8 94px,#ffce8e 104px,#ff9c60 120px,#ff702e 141px,#ff6316 149px,#ff5f0c 151px,#ff5e00 152px,#ff5500 166px)"></i>
<i style="top:154px;background:linear-gradient(90deg,#00ffef 6px,#00ffe3 44px,#00ffd0 63px,#00ffce 64px,#0cffcc 65px,#29ffcc 66px,#47ffcb 68px,#70ffc9 72px,#acffc5 80px,#fdffbd 93px,#ffd093 103px,#ffa76e 115px,#ff793e 135px,#ff611a 149px,#ff5c0d 152px,#ff5a03 153px,#ff5600 159px,#ff5200 167px)"></i>
<i style="top:155px;background:linear-gradient(90deg,#00fff0 6px,#00ffe4 45px,#00ffd2 63px,#00ffd0 64px,#2effce 66px,#4bffce 68px,#7bffcb 73px,#bcffc7 82px,#fffdbf 93px,#ffcd94 103px,#ffa26d 116px,#ff723a 138px,#ff5c17 151px,#ff5600 155px,#ff4f00 168px)"></i>
<i style="top:156px;background:linear-gradient(90deg,#00fff1 6px,#00ffe5 46px,#00ffd3 64px,#1fffd2 65px,#42ffd1 67px,#6dffcf 71px,#b2ffcb 80px,#feffc5 92px,#ffce99 102px,#ffa06f 116px,#ff723e 137px,#ff5a1b 151px,#ff5308 155px,#ff5200 156px,#ff4b00 169px)"></i>
<i style="top:157px;background:linear-gradient(90deg,#00fff2 7px,#00ffe6 47px,#00ffd5 64px,#25ffd5 65px,#45ffd4 67px,#70ffd2 71px,#aeffcf 79px,#fbffc9 91px,#fff7c1 93px,#ffd09e 101px,#ffa678 113px,#ff7749 133px,#ff5418 153px,#ff5009 156px,#ff4f00 157px,#ff4800 170px)"></i>
<i style="top:158px;background:linear-gradient(90deg,#00fff3 7px,#00ffe7 48px,#00ffd9 63px,#0effd8 64px,#2bffd7 65px,#49ffd7 67px,#73ffd5 71px,#b1ffd2 79px,#ffffcd 91px,#ffd5a7 99px,#ffa479 113px,#ff7348 134px,#ff541e 152px,#ff4c0a 157px,#ff4b00 158px,#ff4500 171px)"></i>
<i style="top:159px;background:linear-gradient(90deg,#00fff4 7px,#00ffe8 49px,#00ffdc 63px,#30ffda 65px,#4dffda 67px,#76ffd9 71px,#c1ffd5 81px,#fcffd1 90px,#ffe0b5 96px,#ffb48c 107px,#ff8660 124px,#ff501f 153px,#ff480b 158px,#ff4700 159px,#ff4100 172px)"></i>
<i style="top:160px;background:linear-gradient(90deg,#00fff5 7px,#00ffea 49px,#00ffde 63px,#20ffde 64px,#35ffdd 65px,#5cffdd 68px,#92ffdb 74px,#f3ffd5 88px,#fffed4 90px,#ffd4ad 98px,#ffa884 110px,#ff7754 130px,#ff4d1f 154px,#ff450c 159px,#ff4200 161px,#ff3d00 173px)"></i>
<i style="top:161px;background:linear-gradient(90deg,#00fff6 7px,#00ffeb 51px,#00ffe1 63px,#27ffe1 64px,#48ffe0 66px,#7cffdf 71px,#c8ffdc 81px,#fdffd9 89px,#ffcdaa 99px,#ffa383 111px,#ff7758 129px,#ff491f 155px,#ff410d 160px,#ff3e00 162px,#ff3a00 174px)"></i>
<i style="top:162px;background:linear-gradient(90deg,#00fff7 7px,#00ffec 53px,#00ffe5 62px,#11ffe4 63px,#2cffe4 64px,#4cffe3 66px,#7fffe2 71px,#c4ffe0 80px,#fffedb 89px,#ffd3b3 97px,#ffa68a 109px,#ff7559 129px,#ff431d 157px,#ff3d0e 161px,#ff3a00 163px,#ff3600 175px)"></i>
<i style="top:163px;background:linear-gradient(90deg,#00fff7 8px,#00ffef 51px,#00ffe8 62px,#32ffe7 64px,#5bffe6 67px,#93ffe5 73px,#feffe1 88px,#ffcbb0 98px,#ff9e85 111px,#ff7158 130px,#ff3f1d 158px,#ff3709 163px,#ff3600 164px,#ff3200 176px)"></i>
<i style="top:164px;background:linear-gradient(90deg,#00fff8 8px,#00fff1 51px,#00ffeb 62px,#22ffea 63px,#37ffea 64px,#5fffea 67px,#9effe8 74px,#fbffe5 87px,#fff6dd 89px,#ffc8b1 98px,#ff9e89 110px,#ff6f5a 130px,#ff3b1d 159px,#ff330a 164px,#ff3100 165px,#ff2d00 177px)"></i>
<i style="top:165px;background:linear-gradient(90deg,#00fff9 8px,#00fff2 55px,#00ffee 62px,#29ffee 63px,#4affed 65px,#76ffed 69px,#b8ffeb 77px,#feffe9 87px,#ffd3bf 95px,#ffa896 106px,#ff7968 124px,#ff351b 161px,#ff2e0b 165px,#ff2c01 166px,#ff2900 178px)"></i>
<i style="top:166px;background:linear-gradient(90deg,#00fffa 8px,#00fff4 56px,#00fff1 61px,#13fff1 62px,#2efff1 63px,#4efff1 65px,#7afff0 69px,#caffef 79px,#fbffee 86px,#fff5e4 88px,#ffcbbb 96px,#ff9c8e 109px,#ff6d5f 129px,#ff331e 161px,#ff290c 166px,#ff2700 168px,#ff2400 179px)"></i>
<i style="top:167px;background:linear-gradient(90deg,#00fffc 8px,#00fff5 61px,#34fff4 63px,#5efff4 66px,#97fff3 72px,#f1fff2 84px,#fffff1 86px,#ffd6ca 93px,#ffada2 103px,#ff8076 119px,#ff4e43 144px,#ff2c1b 163px,#ff240d 167px,#ff2100 169px,#ff1f00 179px)"></i>
<i style="top:168px;background:linear-gradient(90deg,#00fffd 8px,#00fff8 61px,#24fff8 62px,#39fff8 63px,#62fff7 66px,#a3fff7 73px,#fcfff6 85px,#ffddd5 91px,#ffb5ad 100px,#ff8a83 114px,#ff5c56 135px,#ff291e 163px,#ff1e0e 168px,#ff1a00 170px,#ff1800 180px)"></i>
<i style="top:169px;background:linear-gradient(90deg,#00fffe 9px,#00fffb 61px,#2bfffb 62px,#4dfffb 64px,#84fffb 69px,#dcfffb 80px,#fffef9 85px,#ffcfcb 93px,#ffa19d 105px,#ff726f 123px,#ff211c 165px,#ff1309 170px,#ff1100 171px,#ff0f00 181px)"></i>
<i style="top:170px;background:linear-gradient(90deg,#00ffff 9px,#00ffff 60px,#15ffff 61px,#30ffff 62px,#51ffff 64px,#87ffff 69px,#d1ffff 78px,#fdffff 84px,#ffcccc 93px,#ff9e9e 105px,#ff6c6c 125px,#ff1d1f 165px,#ff0c0f 170px,#ff0008 172px,#ff0008 182px)"></i>
<i style="top:171px;background:linear-gradient(90deg,#00feff 9px,#00fcff 60px,#1efcff 61px,#35fcff 62px,#54fcff 64px,#92fcff 70px,#effbff 82px,#fdfbff 84px,#ffc9cd 93px,#ff9c9f 105px,#ff7074 122px,#ff1c23 164px,#ff0817 169px,#ff0015 170px,#ff0014 183px)"></i>
<i style="top:172px;background:linear-gradient(90deg,#00fdff 9px,#00f9ff 60px,#25f9ff 61px,#3af8ff 62px,#6df8ff 66px,#acf8ff 73px,#fdf7ff 84px,#ffc6ce 93px,#ffa0a7 103px,#ff7980 117px,#ff444c 143px,#ff1a28 163px,#ff0a1f 167px,#ff001d 168px,#ff001b 184px)"></i>
<i style="top:173px;background:linear-gradient(90deg,#00fcff 9px,#00f6ff 59px,#07f5ff 60px,#2bf5ff 61px,#4cf5ff 63px,#79f5ff 67px,#cbf3ff 77px,#fdf2ff 84px,#ffbeca 94px,#ff949e 106px,#ff6974 123px,#ff1e30 160px,#ff0c26 165px,#ff0023 167px,#ff0020 185px)"></i>
<i style="top:174px;background:linear-gradient(90deg,#00fbff 10px,#00f3ff 58px,#00f2ff 59px,#30f2ff 61px,#4ff1ff 63px,#7bf1ff 67px,#cbefff 77px,#fceeff 84px,#ffcede 90px,#ffa8b6 99px,#ff7b89 114px,#ff3d4d 144px,#ff1931 160px,#ff082a 164px,#ff0029 165px,#ff0025 186px)"></i>
<i style="top:175px;background:linear-gradient(90deg,#00faff 10px,#00f1ff 56px,#00efff 59px,#1eefff 60px,#35eeff 61px,#5eeeff 64px,#96edff 70px,#f5eaff 83px,#ffe6fb 85px,#ffbcd0 93px,#ff91a3 105px,#ff6476 123px,#ff1d38 157px,#ff0a30 162px,#ff002e 163px,#ff0029 187px)"></i>
<i style="top:176px;background:linear-gradient(90deg,#00f9ff 10px,#00f0ff 52px,#00ecff 59px,#25ebff 60px,#48ebff 62px,#74eaff 66px,#b6e8ff 74px,#fce6ff 84px,#ffc7df 90px,#ff9eb4 100px,#ff7489 115px,#ff3b53 142px,#ff183a 157px,#ff0c35 160px,#ff0033 162px,#ff002c 188px)"></i>
<i style="top:177px;background:linear-gradient(90deg,#00f8ff 10px,#00eeff 51px,#00e9ff 58px,#0ae8ff 59px,#2be8ff 60px,#4be8ff 62px,#7fe6ff 67px,#cce4ff 77px,#fbe2ff 84px,#ffd9f6 86px,#ffb6d1 93px,#ff8fa8 104px,#ff647c 121px,#ff1f42 153px,#ff0e3a 158px,#ff0037 160px,#ff002f 189px)"></i>
<i style="top:178px;background:linear-gradient(90deg,#00f6ff 10px,#00edff 48px,#00e6ff 58px,#2fe5ff 60px,#4ee4ff 62px,#81e3ff 67px,#cce0ff 77px,#fbddff 84px,#ffd5f6 86px,#ffabc9 95px,#ff83a0 107px,#ff5673 126px,#ff2047 151px,#ff0f3f 156px,#ff003c 158px,#ff0032 190px)"></i>
<i style="top:179px;background:linear-gradient(90deg,#00f5ff 11px,#00eaff 49px,#00e2ff 58px,#1fe2ff 59px,#34e1ff 60px,#5ce1ff 63px,#92dfff 69px,#e1dbff 80px,#ffd7fd 85px,#ffb0d2 93px,#ff86a7 105px,#ff5a7a 123px,#ff1c48 151px,#ff0c42 155px,#ff0240 156px,#ff0035 191px)"></i>
<i style="top:180px;background:linear-gradient(90deg,#00f4ff 11px,#00e9ff 47px,#00dfff 58px,#25dfff 59px,#46deff 61px,#72ddff 65px,#b1daff 73px,#ffd3fd 85px,#ffacd3 93px,#ff84a7 105px,#ff5579 124px,#ff1d4d 149px,#ff0e46 153px,#ff0044 155px,#ff0037 192px)"></i>
<i style="top:181px;background:linear-gradient(90deg,#00f3ff 11px,#00e7ff 46px,#00ddff 57px,#0ddcff 58px,#2adbff 59px,#49dbff 61px,#73d9ff 65px,#b2d6ff 73px,#ffcffd 85px,#ffa9d3 93px,#ff7ba2 107px,#ff4a72 128px,#ff1e51 147px,#ff0f4b 151px,#ff0048 153px,#ff003a 193px)"></i>
<i style="top:182px;background:linear-gradient(90deg,#00f2ff 11px,#00e5ff 46px,#00daff 57px,#2fd8ff 59px,#58d7ff 62px,#8ed5ff 68px,#eeceff 82px,#ffccfd 85px,#ffa2d0 94px,#ff78a3 107px,#ff4773 128px,#ff1c54 146px,#ff0c4e 150px,#ff004c 151px,#ff003c 194px)"></i>
<i style="top:183px;background:linear-gradient(90deg,#00f1ff 11px,#00e3ff 46px,#00d6ff 57px,#1fd5ff 58px,#42d5ff 60px,#6ed3ff 64px,#acd0ff 72px,#ffc8fe 85px,#ffa3d5 93px,#ff7baa 105px,#ff4f7e 123px,#ff205a 143px,#ff0d52 148px,#ff0050 150px,#ff003e 194px)"></i>
<i style="top:184px;background:linear-gradient(90deg,#00efff 12px,#00e2ff 44px,#00d3ff 57px,#25d2ff 58px,#45d2ff 60px,#6fd0ff 64px,#b4ccff 73px,#ffc4fe 85px,#ff9cd1 94px,#ff76a8 106px,#ff4a7d 124px,#ff1f5d 142px,#ff0955 147px,#ff0054 148px,#ff0041 193px,#ff0040 195px)"></i>
<i style="top:185px;background:linear-gradient(90deg,#00eeff 12px,#00e1ff 42px,#00d1ff 56px,#0ed0ff 57px,#2acfff 58px,#48ceff 60px,#71cdff 64px,#b4c8ff 73px,#ffc0fe 85px,#ff9cd6 93px,#ff76ab 105px,#ff457c 125px,#ff1d5f 141px,#ff0b59 145px,#ff0058 146px,#ff0044 190px,#ff0042 196px)"></i>
<i style="top:186px;background:linear-gradient(90deg,#00edff 12px,#00ddff 44px,#00ceff 56px,#2fccff 58px,#56cbff 61px,#8bc8ff 67px,#e1c0ff 80px,#ffbcff 85px,#ff96d2 94px,#ff6da6 107px,#ff3875 129px,#ff1760 141px,#ff005b 145px,#ff0047 188px,#ff0044 197px)"></i>
<i style="top:187px;background:linear-gradient(90deg,#00ecff 12px,#00dcff 43px,#00cbff 56px,#1fcaff 57px,#33c9ff 58px,#62c7ff 62px,#9ac3ff 69px,#f3baff 83px,#ffb9ff 85px,#ff96d7 93px,#ff70ad 105px,#ff4382 123px,#ff1c66 138px,#ff0860 142px,#ff005f 143px,#ff004a 185px,#ff0046 198px)"></i>
<i style="top:188px;background:linear-gradient(90deg,#00eaff 12px,#00dbff 42px,#00c7ff 56px,#25c7ff 57px,#44c6ff 59px,#6dc4ff 63px,#a9bfff 71px,#ffb5ff 85px,#ff8ccf 95px,#ff5fa0 110px,#ff206c 135px,#ff1166 139px,#ff0063 141px,#ff004d 182px,#ff0047 199px)"></i>
<i style="top:189px;background:linear-gradient(90deg,#00e9ff 13px,#00d9ff 42px,#00c6ff 55px,#10c4ff 56px,#2ac4ff 57px,#47c2ff 59px,#77c0ff 64px,#bdbaff 74px,#ffb1ff 85px,#ff88d0 95px,#ff5fa3 109px,#ff2874 131px,#ff0d68 138px,#ff0066 140px,#ff0050 179px,#ff0049 199px)"></i>
<i style="top:190px;background:linear-gradient(90deg,#00e8ff 13px,#00d7ff 42px,#00c3ff 55px,#2ec1ff 57px,#4abfff 59px,#78bdff 64px,#b7b7ff 73px,#feadff 85px,#ff85d0 95px,#ff5ca4 109px,#ff2375 131px,#ff0f6d 136px,#ff006a 138px,#ff0053 176px,#ff004c 197px)"></i>
<i style="top:191px;background:linear-gradient(90deg,#00e6ff 13px,#00d8ff 38px,#00c4ff 53px,#00bfff 55px,#1fbeff 56px,#40bdff 58px,#69bbff 62px,#a4b5ff 70px,#fea9ff 85px,#ff7ecd 96px,#ff519d 112px,#ff1e76 131px,#ff0b6f 135px,#ff006e 136px,#ff0057 172px,#ff004e 195px)"></i>
<i style="top:192px;background:linear-gradient(90deg,#00e5ff 13px,#00d6ff 38px,#00c3ff 52px,#00bcff 55px,#25bbff 56px,#43baff 58px,#6bb8ff 62px,#a5b2ff 70px,#fea5ff 85px,#ff78ca 97px,#ff4e9e 112px,#ff1f7b 129px,#ff0d74 133px,#ff0172 134px,#ff005b 167px,#ff0051 192px)"></i>
<i style="top:193px;background:linear-gradient(90deg,#00e4ff 14px,#00d2ff 40px,#00c0ff 52px,#00bbff 54px,#11b9ff 55px,#2ab8ff 56px,#51b6ff 59px,#84b2ff 65px,#d6a8ff 78px,#fea1ff 85px,#ff78ce 96px,#ff4da1 111px,#ff1d7d 128px,#ff0f78 131px,#ff0075 133px,#ff005e 165px,#ff0053 190px)"></i>
<i style="top:194px;background:linear-gradient(90deg,#00e2ff 14px,#00d2ff 38px,#00bdff 52px,#00b8ff 54px,#2eb5ff 56px,#5db3ff 60px,#93aeff 67px,#eda1ff 82px,#fd9dff 85px,#ff71cb 97px,#ff449d 113px,#ff1a80 127px,#ff0a7b 130px,#ff0079 131px,#ff005f 166px,#ff0056 188px)"></i>
<i style="top:195px;background:linear-gradient(90deg,#00e1ff 14px,#00d0ff 38px,#00bcff 51px,#00b4ff 54px,#20b3ff 55px,#3fb2ff 57px,#67afff 61px,#a1a9ff 69px,#fd9aff 85px,#ff6ecc 97px,#ff43a0 112px,#ff1c85 125px,#ff0d7f 128px,#ff007d 129px,#ff0063 162px,#ff0058 186px)"></i>
<i style="top:196px;background:linear-gradient(90deg,#00e0ff 14px,#00cdff 39px,#00b9ff 51px,#01b1ff 54px,#25b0ff 55px,#42afff 57px,#71abff 62px,#b4a3ff 72px,#fd96ff 85px,#ff6acc 97px,#ff3fa1 112px,#ff1987 124px,#ff0f84 126px,#ff0080 128px,#ff0066 160px,#ff005a 184px)"></i>
<i style="top:197px;background:linear-gradient(90deg,#00dfff 14px,#00caff 40px,#00b0ff 53px,#29adff 55px,#45acff 57px,#7aa7ff 63px,#c69dff 75px,#fd92ff 85px,#ff67cd 97px,#ff399f 113px,#ff168a 123px,#ff0a86 125px,#ff0085 126px,#ff006c 153px,#ff005d 182px)"></i>
<i style="top:198px;background:linear-gradient(90deg,#00ddff 15px,#00c9ff 39px,#00b2ff 51px,#00adff 53px,#1aabff 54px,#2eaaff 55px,#52a8ff 58px,#82a3ff 64px,#cc98ff 76px,#fd8eff 85px,#ff60ca 98px,#ff319e 114px,#ff188f 121px,#ff0d8b 123px,#ff0089 124px,#ff006d 154px,#ff005f 180px)"></i>
<i style="top:199px;background:linear-gradient(90deg,#00dbff 15px,#00cbff 36px,#00b2ff 50px,#00a9ff 53px,#20a8ff 54px,#3fa7ff 56px,#65a3ff 60px,#a49cff 69px,#fc8aff 85px,#ff74e5 91px,#ff4bb8 104px,#ff1a94 119px,#ff0f90 121px,#ff008c 123px,#ff0070 152px,#ff0062 178px)"></i>
<i style="top:200px;background:linear-gradient(90deg,#00daff 15px,#00c7ff 37px,#00afff 50px,#00a9ff 52px,#06a6ff 53px,#25a5ff 54px,#41a4ff 56px,#67a0ff 60px,#a498ff 69px,#fc86ff 85px,#ff70e5 91px,#ff44b6 105px,#ff1c99 117px,#ff0992 120px,#ff0091 121px,#ff0076 146px,#ff0064 176px)"></i>
<i style="top:201px;background:linear-gradient(90deg,#00d9ff 15px,#00c4ff 38px,#00acff 50px,#00a6ff 52px,#29a2ff 54px,#44a1ff 56px,#709dff 61px,#b193ff 71px,#fc82ff 85px,#ff6ce6 91px,#ff42b9 104px,#ff199c 116px,#ff0c97 118px,#ff0095 119px,#ff0077 147px,#ff0067 174px)"></i>
<i style="top:202px;background:linear-gradient(90deg,#00d7ff 16px,#00c2ff 38px,#00a9ff 50px,#00a2ff 52px,#1aa0ff 53px,#3b9fff 55px,#629bff 59px,#a093ff 68px,#fc7dff 85px,#ff68e6 91px,#ff3bb7 105px,#ff1aa1 114px,#ff0f9c 116px,#ff039a 117px,#ff0091 123px,#ff0077 149px,#ff0069 172px)"></i>
<i style="top:203px;background:linear-gradient(90deg,#00d6ff 16px,#00c0ff 38px,#00a8ff 49px,#009fff 52px,#209dff 53px,#3e9cff 55px,#6b97ff 60px,#ac8dff 70px,#ff77fd 86px,#ff4ac9 99px,#ff1ca6 112px,#ff099f 115px,#ff009d 116px,#ff007e 142px,#ff006b 170px)"></i>
<i style="top:204px;background:linear-gradient(90deg,#00d4ff 16px,#00bfff 37px,#00a5ff 49px,#009fff 51px,#099bff 52px,#259aff 53px,#4b98ff 56px,#7b92ff 62px,#bd86ff 73px,#ff73fe 86px,#ff4fd4 96px,#ff1eab 110px,#ff0ca4 113px,#ff00a2 114px,#ff0087 135px,#ff006e 168px)"></i>
<i style="top:205px;background:linear-gradient(90deg,#00d3ff 16px,#00c0ff 35px,#00a8ff 47px,#009bff 51px,#2998ff 53px,#4d95ff 56px,#7c8fff 62px,#b884ff 72px,#ff6ffe 86px,#ff4bd4 96px,#ff20b1 108px,#ff0faa 111px,#ff00a7 112px,#ff0089 134px,#ff0070 166px)"></i>
<i style="top:206px;background:linear-gradient(90deg,#00d1ff 17px,#00bbff 37px,#009fff 49px,#0098ff 51px,#1b96ff 52px,#3a94ff 54px,#6090ff 58px,#9788ff 66px,#fb6dff 85px,#ff66f9 87px,#ff3ccb 99px,#ff18b2 108px,#ff00ab 111px,#ff008f 130px,#ff0075 160px,#ff0073 164px)"></i>
<i style="top:207px;background:linear-gradient(90deg,#00cfff 17px,#00b9ff 37px,#009cff 49px,#0094ff 51px,#2093ff 52px,#3d91ff 54px,#6a8cff 59px,#b47eff 71px,#ff66fe 86px,#ff3ed2 97px,#ff1ab7 106px,#ff0cb2 108px,#ff00b0 109px,#ff008f 131px,#ff0075 162px)"></i>
<i style="top:208px;background:linear-gradient(90deg,#00ceff 17px,#00b8ff 36px,#009fff 47px,#0094ff 50px,#0b91ff 51px,#2590ff 52px,#408eff 54px,#6b89ff 59px,#af7cff 70px,#ff61fe 86px,#ff35cf 98px,#ff16bb 105px,#ff0fb8 106px,#ff00b5 107px,#ff0095 127px,#ff0079 158px,#ff0078 160px)"></i>
<i style="top:209px;background:linear-gradient(90deg,#00ccff 18px,#00b6ff 36px,#009cff 47px,#0091ff 50px,#298dff 52px,#4c8aff 55px,#8182ff 62px,#ce70ff 76px,#ff5dff 86px,#ff33d3 97px,#ff18c1 103px,#ff00b9 106px,#ff009a 124px,#ff007b 157px,#ff007b 158px)"></i>
<i style="top:210px;background:linear-gradient(90deg,#00caff 18px,#00b4ff 36px,#0099ff 47px,#008dff 50px,#1b8bff 51px,#3a89ff 53px,#6784ff 58px,#a578ff 68px,#ff58ff 86px,#ff2dd3 97px,#ff14c4 102px,#ff00bf 104px,#ff00a1 120px,#ff0082 149px,#ff007d 156px)"></i>
<i style="top:211px;background:linear-gradient(90deg,#00c9ff 18px,#00b2ff 36px,#0099ff 46px,#0089ff 50px,#2088ff 51px,#3c86ff 53px,#6082ff 57px,#9578ff 65px,#f15aff 83px,#ff53ff 86px,#ff27d4 97px,#ff0fc7 101px,#ff00c5 102px,#ff00a5 118px,#ff0088 144px,#ff0080 154px)"></i>
<i style="top:212px;background:linear-gradient(90deg,#00c7ff 18px,#00b3ff 34px,#0096ff 46px,#008aff 49px,#0d86ff 50px,#2585ff 51px,#4982ff 54px,#777bff 60px,#bb6aff 72px,#ff4eff 86px,#ff1fd4 97px,#ff12ce 99px,#ff05cb 100px,#ff00c6 102px,#ff00a8 117px,#ff008a 143px,#ff0083 152px)"></i>
<i style="top:213px;background:linear-gradient(90deg,#00c5ff 19px,#00afff 35px,#0093ff 46px,#0086ff 49px,#2982ff 51px,#547eff 55px,#8b74ff 63px,#e755ff 81px,#fe49ff 86px,#ff1bd8 96px,#ff00cf 99px,#ff00b0 113px,#ff0093 135px,#ff0085 150px)"></i>
<i style="top:214px;background:linear-gradient(90deg,#00c3ff 19px,#00adff 35px,#0093ff 45px,#0083ff 49px,#1b80ff 50px,#397eff 52px,#5d7aff 56px,#916fff 64px,#de55ff 79px,#fe43ff 86px,#ff1ddf 94px,#ff0ed8 96px,#ff00d5 97px,#ff00b1 113px,#ff0092 137px,#ff0088 148px)"></i>
<i style="top:215px;background:linear-gradient(90deg,#00c2ff 19px,#00a7ff 37px,#008cff 46px,#007fff 49px,#207eff 50px,#3c7bff 52px,#6675ff 57px,#a866ff 68px,#f046ff 83px,#fe3dff 86px,#ff20e7 92px,#ff12e0 94px,#ff03dc 95px,#ff00cb 101px,#ff00aa 118px,#ff008d 143px,#ff008b 146px)"></i>
<i style="top:216px;background:linear-gradient(90deg,#00bfff 20px,#00a9ff 35px,#008dff 45px,#0080ff 48px,#0e7cff 49px,#257bff 50px,#4877ff 53px,#756fff 59px,#b75cff 71px,#f040ff 83px,#fe36ff 86px,#ff15e7 92px,#ff00e0 94px,#ff00bc 108px,#ff009d 129px,#ff008e 144px)"></i>
<i style="top:217px;background:linear-gradient(90deg,#00beff 20px,#00a6ff 35px,#008dff 44px,#007cff 48px,#2978ff 50px,#4a74ff 53px,#766cff 59px,#b858ff 71px,#f03aff 83px,#fe2fff 86px,#ff17ef 90px,#ff00e8 92px,#ff00c6 104px,#ff00a5 123px,#ff0091 142px)"></i>
<i style="top:218px;background:linear-gradient(90deg,#00bcff 20px,#00a4ff 35px,#0086ff 45px,#0078ff 48px,#1c76ff 49px,#3873ff 51px,#5c6eff 55px,#9a5fff 65px,#de41ff 79px,#fe27ff 86px,#ff12f4 89px,#ff00f0 90px,#ff00d0 100px,#ff00ad 118px,#ff0093 140px)"></i>
<i style="top:219px;background:linear-gradient(90deg,#00b9ff 21px,#00a2ff 35px,#0087ff 44px,#0074ff 48px,#2073ff 49px,#3b70ff 51px,#656aff 56px,#a558ff 67px,#e238ff 80px,#fd1dff 86px,#ff00f4 89px,#ff00d1 100px,#ff00ae 118px,#ff0096 138px)"></i>
<i style="top:220px;background:linear-gradient(90deg,#00b8ff 21px,#009dff 36px,#0084ff 44px,#0076ff 47px,#0f71ff 48px,#2570ff 49px,#506bff 53px,#855fff 61px,#cc41ff 75px,#f024ff 83px,#f918ff 85px,#ff00fc 87px,#ff00d7 98px,#ff00b7 113px,#ff0099 136px)"></i>
<i style="top:221px;background:linear-gradient(90deg,#00b6ff 21px,#009dff 35px,#0080ff 44px,#0072ff 47px,#286dff 49px,#4969ff 52px,#7460ff 58px,#b04bff 69px,#de2eff 79px,#f01aff 83px,#f411ff 84px,#f900ff 85px,#ff00f9 88px,#ff00d5 99px,#ff00b3 116px,#ff009d 134px)"></i>
<i style="top:222px;background:linear-gradient(90deg,#00b4ff 21px,#009bff 35px,#007dff 44px,#006dff 47px,#1c6bff 48px,#3868ff 50px,#6261ff 55px,#9c4fff 65px,#d133ff 76px,#e71bff 81px,#eb14ff 82px,#f007ff 83px,#f400ff 84px,#ff00fd 87px,#ff00db 97px,#ff00b9 113px,#ff00a0 132px)"></i>
<i style="top:223px;background:linear-gradient(90deg,#00b1ff 22px,#009bff 34px,#007eff 43px,#0169ff 47px,#2168ff 48px,#4464ff 51px,#705aff 57px,#b142ff 69px,#d527ff 77px,#e316ff 80px,#eb00ff 82px,#ff00fd 87px,#ff00d4 100px,#ff00b2 118px,#ff00a3 130px)"></i>
<i style="top:224px;background:linear-gradient(90deg,#00b0ff 22px,#0096ff 35px,#0076ff 44px,#006bff 46px,#2565ff 48px,#4660ff 51px,#7157ff 57px,#a742ff 67px,#cd28ff 75px,#da18ff 78px,#de10ff 79px,#e300ff 80px,#ff00fd 87px,#ff00d7 99px,#ff00b3 118px,#ff00a6 128px)"></i>
<i style="top:225px;background:linear-gradient(90deg,#00aeff 22px,#0096ff 34px,#0077ff 43px,#0067ff 46px,#1763ff 47px,#3560ff 49px,#5f58ff 54px,#9447ff 63px,#c429ff 73px,#d613ff 77px,#da05ff 78px,#e300ff 80px,#ff00fe 87px,#ff00d8 99px,#ff00b4 118px,#ff00aa 126px)"></i>
<i style="top:226px;background:linear-gradient(90deg,#00abff 23px,#008eff 36px,#006eff 44px,#0062ff 46px,#1c60ff 47px,#375dff 49px,#6155ff 54px,#9f3dff 65px,#c421ff 73px,#cd15ff 75px,#d600ff 77px,#ff00fe 87px,#ff00db 98px,#ff00bb 114px,#ff00ad 124px)"></i>
<i style="top:227px;background:linear-gradient(90deg,#00a9ff 23px,#008eff 35px,#0070ff 43px,#0064ff 45px,#065eff 46px,#215dff 47px,#3a59ff 49px,#6251ff 54px,#953eff 63px,#bb22ff 71px,#c90fff 74px,#cd00ff 75px,#ff00fe 87px,#ff00d7 100px,#ff00b6 118px,#ff00b0 122px)"></i>
<i style="top:228px;background:linear-gradient(90deg,#00a5ff 24px,#0089ff 36px,#006cff 43px,#0060ff 45px,#2559ff 47px,#4554ff 50px,#7049ff 56px,#a92cff 67px,#bc19ff 71px,#c011ff 72px,#c502ff 73px,#ff00fe 87px,#ff00da 99px,#ff00b8 117px,#ff00b4 120px)"></i>
<i style="top:229px;background:linear-gradient(90deg,#00a4ff 24px,#0086ff 36px,#0068ff 43px,#005bff 45px,#1757ff 46px,#3454ff 48px,#5e4bff 53px,#9c30ff 64px,#b31bff 69px,#c100ff 72px,#ff00fe 87px,#ff00d6 101px,#ff00b8 118px)"></i>
<i style="top:230px;background:linear-gradient(90deg,#00a2ff 24px,#0087ff 35px,#0064ff 43px,#0057ff 45px,#1c54ff 46px,#3751ff 48px,#6645ff 54px,#9c2aff 64px,#af16ff 68px,#b800ff 70px,#fc00ff 86px,#ff00ee 92px,#ff00ca 107px,#ff00bb 116px)"></i>
<i style="top:231px;background:linear-gradient(90deg,#009eff 25px,#0081ff 36px,#0060ff 43px,#0059ff 44px,#0852ff 45px,#2151ff 46px,#394dff 48px,#6143ff 53px,#9827ff 63px,#ab10ff 67px,#af00ff 68px,#ed00ff 82px,#ff00ff 87px,#ff00dc 99px,#ff00bf 114px)"></i>
<i style="top:232px;background:linear-gradient(90deg,#009cff 25px,#007eff 36px,#0062ff 42px,#0054ff 44px,#254dff 46px,#4547ff 49px,#7a34ff 57px,#991fff 63px,#a213ff 65px,#ac00ff 67px,#f100ff 83px,#ff00ff 87px,#ff00da 100px,#ff00c3 112px)"></i>
<i style="top:233px;background:linear-gradient(90deg,#009aff 25px,#007bff 36px,#005eff 42px,#0050ff 44px,#184bff 45px,#3447ff 47px,#563fff 51px,#8a24ff 60px,#9915ff 63px,#a300ff 65px,#e200ff 79px,#ff00ff 87px,#ff00dd 99px,#ff00c7 110px)"></i>
<i style="top:234px;background:linear-gradient(90deg,#0096ff 26px,#0078ff 36px,#0059ff 42px,#004aff 44px,#1d47ff 45px,#4041ff 48px,#6b33ff 54px,#9017ff 61px,#950fff 62px,#9a00ff 63px,#d600ff 76px,#ff00ff 87px,#ff00d9 101px,#ff00cb 108px)"></i>
<i style="top:235px;background:linear-gradient(90deg,#0094ff 26px,#0071ff 37px,#0055ff 42px,#004dff 43px,#0a46ff 44px,#2144ff 45px,#423dff 48px,#6c2dff 54px,#8718ff 59px,#8c12ff 60px,#9106ff 61px,#9600ff 62px,#ca00ff 73px,#ff00ff 87px,#ff00da 101px,#ff00d0 106px)"></i>
<i style="top:236px;background:linear-gradient(90deg,#0091ff 26px,#0076ff 35px,#0057ff 41px,#0048ff 43px,#2540ff 45px,#4c36ff 49px,#781fff 56px,#880bff 59px,#8d00ff 60px,#c700ff 72px,#ff00ff 87px,#ff00d8 102px,#ff00d4 104px)"></i>
<i style="top:237px;background:linear-gradient(90deg,#008dff 27px,#006fff 36px,#004bff 42px,#0043ff 43px,#183eff 44px,#3439ff 46px,#5c2bff 51px,#7916ff 56px,#7e0eff 57px,#8400ff 58px,#bb00ff 69px,#fb00ff 86px,#ff00f3 91px,#ff00d9 102px)"></i>
<i style="top:238px;background:linear-gradient(90deg,#008bff 27px,#006bff 36px,#004eff 41px,#003cff 43px,#1d39ff 44px,#3634ff 46px,#5d25ff 51px,#7410ff 55px,#7a04ff 56px,#8600ff 58px,#c000ff 70px,#fb00ff 86px,#ff00f4 91px,#ff00dd 100px)"></i>
<i style="top:239px;background:linear-gradient(90deg,#0086ff 28px,#0068ff 36px,#0049ff 41px,#0040ff 42px,#0b37ff 43px,#2135ff 44px,#412cff 47px,#6419ff 52px,#7600ff 55px,#a700ff 64px,#e700ff 80px,#ff00fd 88px,#ff00e2 98px)"></i>
<i style="top:240px;background:linear-gradient(90deg,#0083ff 28px,#0065ff 36px,#0044ff 41px,#003aff 42px,#2530ff 44px,#4327ff 47px,#5f15ff 51px,#6c00ff 53px,#9f00ff 62px,#d900ff 76px,#ff00fd 88px,#ff00e7 96px)"></i>
<i style="top:241px;background:linear-gradient(90deg,#0081ff 28px,#0061ff 36px,#0047ff 40px,#0034ff 42px,#192eff 43px,#3327ff 45px,#5416ff 49px,#5a0fff 50px,#6100ff 51px,#9100ff 59px,#c700ff 71px,#fe00ff 87px,#ff00ec 94px)"></i>
<i style="top:242px;background:linear-gradient(90deg,#007bff 29px,#005dff 36px,#0042ff 40px,#002cff 42px,#1d28ff 43px,#3621ff 45px,#4e12ff 48px,#5d00ff 50px,#8900ff 57px,#c000ff 69px,#fe00ff 87px,#ff00f2 92px)"></i>
<i style="top:243px;background:linear-gradient(90deg,#0079ff 29px,#0054ff 37px,#0031ff 41px,#0d26ff 42px,#2122ff 43px,#4114ff 46px,#5100ff 48px,#8000ff 55px,#b400ff 66px,#ee00ff 82px,#ff00fd 88px,#ff00f8 90px)"></i>
<i style="top:244px;background:linear-gradient(90deg,#0072ff 30px,#0056ff 36px,#0036ff 40px,#002aff 41px,#141fff 42px,#251bff 43px,#3a0eff 45px,#4300ff 46px,#6a00ff 51px,#9700ff 59px,#d700ff 75px,#ff00fd 88px)"></i>
<i style="top:245px;background:linear-gradient(90deg,#006fff 30px,#0052ff 36px,#002fff 40px,#0020ff 41px,#1917ff 42px,#3307ff 44px,#3e00ff 45px,#6700ff 50px,#9800ff 59px,#d400ff 74px,#fb00ff 86px)"></i>
<i style="top:246px;background:linear-gradient(90deg,#0068ff 31px,#004dff 36px,#0034ff 39px,#0027ff 40px,#0013ff 41px,#1d0bff 42px,#2c00ff 43px,#4c00ff 46px,#7600ff 52px,#ab00ff 63px,#e500ff 79px,#f400ff 84px)"></i>
<i style="top:247px;background:linear-gradient(90deg,#0065ff 31px,#0049ff 36px,#002dff 39px,#001dff 40px,#0f00ff 41px,#2500ff 42px,#4800ff 45px,#7300ff 51px,#a800ff 62px,#e200ff 78px,#ee00ff 82px)"></i>
<i style="top:248px;background:linear-gradient(90deg,#005dff 32px,#0044ff 36px,#0032ff 38px,#0025ff 39px,#000fff 40px,#1d00ff 41px,#3900ff 43px,#6300ff 48px,#9400ff 57px,#d200ff 73px,#e900ff 80px)"></i>
<i style="top:249px;background:linear-gradient(90deg,#005aff 32px,#003fff 36px,#002bff 38px,#001aff 39px,#1300ff 40px,#2700ff 41px,#4800ff 44px,#7200ff 50px,#a200ff 60px,#d900ff 75px,#e300ff 78px)"></i>
<i style="top:250px;background:linear-gradient(90deg,#0050ff 33px,#0030ff 37px,#0022ff 38px,#0009ff 39px,#1f00ff 40px,#3a00ff 42px,#6200ff 47px,#8e00ff 55px,#c200ff 68px,#dd00ff 76px)"></i>
<i style="top:251px;background:linear-gradient(90deg,#004cff 33px,#0034ff 36px,#0017ff 38px,#1600ff 39px,#3500ff 41px,#5f00ff 46px,#8b00ff 54px,#c300ff 68px,#d700ff 74px)"></i>
<i style="top:252px;background:linear-gradient(90deg,#0041ff 34px,#002eff 36px,#0020ff 37px,#0600ff 38px,#2100ff 39px,#3b00ff 41px,#6800ff 47px,#9a00ff 57px,#d100ff 72px)"></i>
<i style="top:253px;background:linear-gradient(90deg,#0032ff 35px,#0026ff 36px,#0014ff 37px,#1900ff 38px,#3600ff 40px,#5e00ff 45px,#8a00ff 53px,#c400ff 68px,#cb00ff 70px)"></i>
<i style="top:254px;background:linear-gradient(90deg,#002bff 35px,#001dff 36px,#0d00ff 37px,#2300ff 38px,#4400ff 41px,#6d00ff 47px,#9c00ff 57px,#c500ff 68px)"></i>
<i style="top:255px;background:linear-gradient(90deg,#0010ff 36px,#1b00ff 37px,#3600ff 39px,#5700ff 43px,#8400ff 51px,#b800ff 64px,#bf00ff 66px)"></i>
<i style="top:256px;background:linear-gradient(90deg,#2400ff 37px,#4500ff 40px,#6d00ff 46px,#a300ff 58px,#b900ff 64px)"></i>
<i style="top:257px;background:linear-gradient(90deg,#3700ff 38px,#5e00ff 43px,#9000ff 53px,#b300ff 62px)"></i>
<i style="top:258px;background:linear-gradient(90deg,#4500ff 39px,#7100ff 46px,#9e00ff 56px,#ac00ff 60px)"></i>
<i style="top:259px;background:linear-gradient(90deg,#5000ff 40px,#7d00ff 48px,#a600ff 58px)"></i>
<i style="top:260px;background:linear-gradient(90deg,#5a00ff 41px,#8400ff 49px,#a000ff 56px)"></i>
<i style="top:261px;background:linear-gradient(90deg,#6300ff 42px,#9600ff 53px,#9a00ff 54px)"></i>
<i style="top:262px;background:linear-gradient(90deg,#6b00ff 43px,#9300ff 52px)"></i>
<i style="top:263px;background:linear-gradient(90deg,#7200ff 44px,#8d00ff 50px)"></i>
</div>
<div id="heat">
<i style="left:0.6px;width:2.3px;background:linear-gradient(180deg,#252525 0.6px,#242424 3.1px,#111111 4.1px,#242424 5.6px,#242424 10.1px,#111111 11.1px,#242424 12.6px,#252525 18.6px,#070000 19.1px,#230102 22.1px,#3d0203 23.1px,#6e0406 24.1px,#e0090d 25.6px,#f00a0e 26.1px,#f00a0e 28.1px,#d6080c 28.6px,#a20609 29.1px,#870507 30.1px,#7c0507 33.1px,#7f0507 33.6px,#9e0609 34.1px,#af070a 34.6px,#a20609 35.1px,#200101 36.1px,#060000 36.6px,#000000 40.1px,#000000 47.6px,#242524 48.1px,#202020 53.6px,#131313 54.1px,#151515 54.6px,#242524 55.6px,#1d301d 63.1px,#0d470d 65.1px,#0a570a 65.6px,#1cec1c 68.1px,#1cec1c 70.6px,#108910 72.1px,#0e770e 74.6px,#0d740d 76.6px,#0a570a 77.6px,#031d03 79.1px,#000400 80.6px,#000000 106.6px,#181820 107.1px,#1d1d2b 107.6px,#282842 108.1px,#26263f 108.6px,#1b1b2c 109.1px,#181829 109.6px,#181841 110.6px,#18185c 111.1px,#1818df 112.6px,#1818f2 113.1px,#1818f2 113.6px,#1a1acf 114.1px,#202068 115.1px,#222245 115.6px,#242434 116.1px,#222249 117.1px,#23233e 118.1px,#242426 119.6px,#232323 120.6px,#111111 121.6px,#242424 122.6px,#252525 125.1px)"></i>
<i style="left:2.6px;width:2.3px;background:linear-gradient(180deg,#252525 0.6px,#242424 3.1px,#111111 4.1px,#242424 5.6px,#242424 10.1px,#111111 11.1px,#242424 12.6px,#252525 18.6px,#070000 19.1px,#220101 22.1px,#3c0203 23.1px,#6c0406 24.1px,#dd090c 25.6px,#f00a0e 26.1px,#f00a0e 28.1px,#d6080c 28.6px,#a20609 29.1px,#860507 30.1px,#7b0507 32.6px,#7d0507 33.6px,#9c0609 34.1px,#ae070a 34.6px,#a40609 35.1px,#220102 36.1px,#070000 36.6px,#000000 39.1px,#000000 47.6px,#242524 48.1px,#202020 53.6px,#131313 54.1px,#151515 54.6px,#242524 55.6px,#1d2f1d 63.1px,#0e460e 65.1px,#095309 65.6px,#14ac14 67.1px,#1bea1b 68.1px,#1cec1c 70.6px,#108810 72.1px,#0e760e 74.6px,#0e760e 76.6px,#0b5d0b 77.6px,#021402 79.6px,#000200 81.1px,#000000 106.6px,#181820 107.1px,#1d1d2b 107.6px,#282842 108.1px,#26263f 108.6px,#1b1b2c 109.1px,#181829 109.6px,#181840 110.6px,#18185a 111.1px,#1818dc 112.6px,#1818f2 113.1px,#1818f2 113.6px,#1a1ad0 114.1px,#202069 115.1px,#222246 115.6px,#242432 116.1px,#22224b 117.6px,#242427 119.6px,#232323 120.6px,#111111 121.6px,#242424 122.6px,#242425 125.1px)"></i>
<i style="left:4.6px;width:2.3px;background:linear-gradient(180deg,#252525 0.6px,#242424 3.1px,#111111 4.1px,#242424 5.6px,#242424 10.1px,#111111 11.1px,#242424 12.6px,#252525 18.6px,#060000 19.1px,#210101 22.1px,#3a0203 23.1px,#690406 24.1px,#d9090c 25.6px,#f00a0e 26.1px,#f00a0e 28.1px,#d6080c 28.6px,#a20609 29.1px,#860507 30.1px,#7a0507 32.6px,#7a0507 33.6px,#9a0609 34.1px,#ae070a 34.6px,#a60609 35.1px,#240102 36.1px,#070000 36.6px,#000000 38.6px,#000000 47.6px,#242524 48.1px,#202020 53.6px,#131313 54.1px,#151515 54.6px,#242424 55.6px,#1e2f1e 63.1px,#104410 65.1px,#094f09 65.6px,#13a513 67.1px,#1be51b 68.1px,#1cec1c 69.6px,#1cec1c 70.6px,#14ae14 71.6px,#108a10 72.1px,#0e760e 74.1px,#0d710d 77.1px,#021702 79.6px,#000300 81.1px,#000000 106.6px,#181820 107.1px,#1d1d2b 107.6px,#282842 108.1px,#26263f 108.6px,#1b1b2c 109.1px,#181829 109.6px,#18183f 110.6px,#181858 111.1px,#1818d8 112.6px,#1818f2 113.1px,#1818f2 113.6px,#1a1ad0 114.1px,#20206a 115.1px,#222247 115.6px,#242433 116.1px,#22224b 117.6px,#23233e 118.6px,#242426 120.1px,#181818 121.1px,#111111 121.6px,#242424 122.6px,#242425 125.1px)"></i>
<i style="left:6.6px;width:2.3px;background:linear-gradient(180deg,#252525 0.6px,#242424 3.1px,#111111 4.1px,#242424 5.6px,#242424 10.1px,#111111 11.1px,#242424 12.6px,#252525 18.6px,#060000 19.1px,#200101 22.1px,#4d0304 23.6px,#880507 24.6px,#d6080c 25.6px,#f00a0e 26.1px,#f00a0e 28.1px,#d6080c 28.6px,#a20609 29.1px,#8f0508 29.6px,#7c0507 31.1px,#7a0507 33.6px,#990608 34.1px,#ad070a 34.6px,#a70609 35.1px,#260102 36.1px,#080000 36.6px,#000000 38.1px,#000000 47.6px,#242524 48.1px,#202020 53.6px,#131313 54.1px,#151515 54.6px,#242424 55.6px,#1e2e1e 63.1px,#114211 65.1px,#0a4c0a 65.6px,#0f7f0f 66.6px,#1adf1a 68.1px,#1cec1c 68.6px,#1cec1c 70.6px,#14b014 71.6px,#108d10 72.1px,#0e780e 73.6px,#0d720d 76.1px,#0d740d 77.1px,#0a540a 78.1px,#031a03 79.6px,#000300 81.1px,#000000 106.6px,#181820 107.1px,#1d1d2b 107.6px,#282841 108.1px,#26263f 108.6px,#1b1b2c 109.1px,#181830 110.1px,#18183e 110.6px,#181857 111.1px,#1818a9 112.1px,#1818d5 112.6px,#1818f1 113.1px,#1818f1 113.6px,#1a1ad0 114.1px,#20206c 115.1px,#222248 115.6px,#242433 116.1px,#242431 116.6px,#22224a 117.6px,#22224d 118.1px,#242427 120.1px,#181818 121.1px,#111111 121.6px,#242424 122.6px,#242425 125.1px)"></i>
<i style="left:8.6px;width:2.3px;background:linear-gradient(180deg,#252525 0.6px,#242424 3.1px,#111111 4.1px,#242424 5.6px,#242424 10.1px,#111111 11.1px,#242424 12.6px,#252525 18.6px,#060000 19.1px,#1f0101 22.1px,#4a0304 23.6px,#840507 24.6px,#d2080c 25.6px,#f00a0e 26.1px,#f00a0e 28.1px,#d6080c 28.6px,#a30609 29.1px,#8e0508 29.6px,#7c0507 31.1px,#790507 33.6px,#ac070a 34.6px,#a90709 35.1px,#280102 36.1px,#090000 36.6px,#000000 38.1px,#000000 47.6px,#242524 48.1px,#202020 53.6px,#131313 54.1px,#151515 54.6px,#242424 55.6px,#1d301d 63.6px,#0b4a0b 65.6px,#0e790e 66.6px,#19d919 68.1px,#1cec1c 68.6px,#1cec1c 70.6px,#19d519 71.1px,#118f11 72.1px,#0e7b0e 73.1px,#0d710d 76.1px,#0e760e 77.1px,#0a5a0a 78.1px,#031e03 79.6px,#000400 81.1px,#000000 106.6px,#181820 107.1px,#1d1d2b 107.6px,#282841 108.1px,#26263f 108.6px,#1b1b2c 109.1px,#18182f 110.1px,#18183d 110.6px,#181855 111.1px,#1818a5 112.1px,#1818d1 112.6px,#1818ee 113.1px,#1818f0 113.6px,#1a1ad1 114.1px,#20206d 115.1px,#222249 115.6px,#242434 116.1px,#24242e 116.6px,#22224e 118.1px,#23233d 119.1px,#232324 120.6px,#111111 121.6px,#242424 122.6px,#242425 125.1px)"></i>
<i style="left:10.6px;width:2.3px;background:linear-gradient(180deg,#252525 0.6px,#242424 3.1px,#111111 4.1px,#242424 5.6px,#242424 10.1px,#111111 11.1px,#242424 12.6px,#252525 18.6px,#050000 19.1px,#1e0101 22.1px,#480304 23.6px,#810507 24.6px,#f00a0e 26.1px,#f00a0e 28.1px,#d7080c 28.6px,#a40609 29.1px,#8e0508 29.6px,#7b0507 31.1px,#780507 33.6px,#ab070a 34.6px,#aa0709 35.1px,#2a0102 36.1px,#090000 36.6px,#000000 37.6px,#000000 47.6px,#242524 48.1px,#202020 53.6px,#131313 54.1px,#151515 54.6px,#242424 55.6px,#1d301d 63.6px,#0d480d 65.6px,#0a590a 66.1px,#1cec1c 68.6px,#1cec1c 70.6px,#19d719 71.1px,#119211 72.1px,#0f810f 72.6px,#0d700d 75.6px,#0e780e 77.1px,#0b5f0b 78.1px,#042204 79.6px,#000500 81.1px,#000000 106.6px,#181820 107.1px,#1d1d2b 107.6px,#282841 108.1px,#26263f 108.6px,#1b1b2b 109.1px,#18182e 110.1px,#181853 111.1px,#1818a2 112.1px,#1818cd 112.6px,#1818eb 113.1px,#1818ef 113.6px,#1a1ad2 114.1px,#20206f 115.1px,#22224a 115.6px,#232334 116.1px,#24242b 116.6px,#22224d 118.1px,#22224e 118.6px,#232325 120.6px,#111111 121.6px,#242424 122.6px,#242425 125.1px)"></i>
<i style="left:12.6px;width:2.3px;background:linear-gradient(180deg,#252525 0.6px,#242424 3.1px,#111111 4.1px,#242424 5.6px,#242424 10.1px,#111111 11.1px,#242424 12.6px,#252525 18.6px,#050000 19.1px,#1d0101 22.1px,#460204 23.6px,#7d0507 24.6px,#ee090d 26.1px,#f00a0e 28.1px,#d8090c 28.6px,#a60609 29.1px,#8e0508 29.6px,#7a0507 31.1px,#770406 33.6px,#aa0709 34.6px,#ab0709 35.1px,#710406 35.6px,#2d0102 36.1px,#0a0000 36.6px,#000000 37.6px,#000000 47.6px,#242524 48.1px,#202020 53.6px,#131313 54.1px,#151515 54.6px,#242424 55.6px,#1e2f1e 63.6px,#0e460e 65.6px,#0a540a 66.1px,#1be71b 68.6px,#1cec1c 70.6px,#19d919 71.1px,#119511 72.1px,#0f800f 72.6px,#0d6f0d 75.6px,#0e790e 77.1px,#0b640b 78.1px,#021602 80.1px,#000200 81.6px,#000000 106.6px,#181820 107.1px,#1d1d2b 107.6px,#282841 108.1px,#26263f 108.6px,#1b1b2b 109.1px,#18182e 110.1px,#181850 111.1px,#18189e 112.1px,#1818c9 112.6px,#1818e8 113.1px,#1818ed 113.6px,#1919d2 114.1px,#202071 115.1px,#22224b 115.6px,#232335 116.1px,#24242a 116.6px,#23233d 117.6px,#222250 118.6px,#232326 120.6px,#111111 121.6px,#242424 122.6px,#242425 125.1px)"></i>
<i style="left:14.6px;width:2.3px;background:linear-gradient(180deg,#252525 0.6px,#242424 3.1px,#111111 4.1px,#242424 5.6px,#242424 10.1px,#111111 11.1px,#242424 12.6px,#252525 18.6px,#050000 19.1px,#1c0101 22.1px,#430203 23.6px,#790507 24.6px,#ea090d 26.1px,#f00a0e 28.1px,#da090c 28.6px,#a70609 29.1px,#8e0508 29.6px,#7a0507 31.1px,#770406 33.6px,#a90709 34.6px,#ac070a 35.1px,#740406 35.6px,#2f0102 36.1px,#0b0000 36.6px,#000000 37.6px,#000000 47.6px,#242524 48.1px,#202020 53.6px,#131313 54.1px,#151515 54.6px,#242424 55.6px,#1e2e1e 63.6px,#0f440f 65.6px,#095009 66.1px,#1ae21a 68.6px,#1cec1c 69.6px,#1cec1c 70.6px,#1adb1a 71.1px,#129812 72.1px,#0f800f 72.6px,#0d6e0d 75.6px,#0e760e 77.6px,#0a550a 78.6px,#031a03 80.1px,#000300 81.6px,#000000 106.6px,#181820 107.1px,#1d1d2b 107.6px,#282841 108.1px,#26263f 108.6px,#1b1b2b 109.1px,#18182d 110.1px,#18184e 111.1px,#18189a 112.1px,#1818c5 112.6px,#1818e5 113.1px,#1818ec 113.6px,#1919d3 114.1px,#202073 115.1px,#22224d 115.6px,#232336 116.1px,#24242b 116.6px,#232338 117.6px,#222250 118.6px,#22224e 119.1px,#232329 120.6px,#111111 121.6px,#242424 122.6px,#242425 125.1px)"></i>
<i style="left:16.6px;width:2.3px;background:linear-gradient(180deg,#252525 0.6px,#242424 3.1px,#111111 4.1px,#242424 5.6px,#242424 10.1px,#111111 11.1px,#242424 12.6px,#252525 18.6px,#040000 19.1px,#1a0101 22.1px,#410203 23.6px,#750406 24.6px,#e5090d 26.1px,#f00a0e 26.6px,#f00a0e 28.1px,#db090c 28.6px,#a90709 29.1px,#8e0508 29.6px,#790507 31.1px,#760406 33.6px,#a80709 34.6px,#ac070a 35.1px,#770406 35.6px,#310202 36.1px,#0c0000 36.6px,#000000 37.6px,#000000 47.6px,#242524 48.1px,#202020 53.6px,#131313 54.1px,#151515 54.6px,#242424 55.6px,#1e2e1e 63.6px,#114211 65.6px,#0a4d0a 66.1px,#129f12 67.6px,#1adc1a 68.6px,#1cec1c 69.1px,#1cec1c 70.6px,#1add1a 71.1px,#0f800f 72.6px,#0c6d0c 75.6px,#0e780e 77.6px,#0a5b0a 78.6px,#031d03 80.1px,#000300 81.6px,#000000 106.6px,#181820 107.1px,#1d1d2b 107.6px,#282841 108.1px,#26263f 108.6px,#1b1b2b 109.1px,#18182d 110.1px,#18184c 111.1px,#181895 112.1px,#1818c1 112.6px,#1818e1 113.1px,#1818ea 113.6px,#1919d4 114.1px,#1f1f75 115.1px,#22224e 115.6px,#232337 116.1px,#24242b 116.6px,#24242a 117.1px,#22224f 118.6px,#222252 119.1px,#22222c 120.6px,#111111 121.6px,#242424 122.6px,#242425 125.1px)"></i>
<i style="left:18.6px;width:2.3px;background:linear-gradient(180deg,#252525 0.6px,#242424 3.1px,#111111 4.1px,#242424 5.6px,#242424 10.1px,#111111 11.1px,#242424 12.6px,#252525 18.6px,#040000 19.1px,#190101 22.1px,#3e0203 23.6px,#710406 24.6px,#e0090d 26.1px,#f00a0e 26.6px,#f00a0e 28.1px,#dd090c 28.6px,#ac070a 29.1px,#8e0508 29.6px,#790507 31.1px,#750406 33.6px,#a70609 34.6px,#ad070a 35.1px,#7a0507 35.6px,#340203 36.1px,#0d0000 36.6px,#000000 37.6px,#000000 47.6px,#242524 48.1px,#202020 53.6px,#131313 54.1px,#151515 54.6px,#242424 55.6px,#1f2d1f 63.6px,#124112 65.6px,#0b5e0b 66.6px,#19d519 68.6px,#1cec1c 69.1px,#1cec1c 70.6px,#1adf1a 71.1px,#0f800f 72.6px,#0c6c0c 75.6px,#0c6c0c 76.6px,#0e7a0e 77.6px,#0b600b 78.6px,#032003 80.1px,#000400 81.6px,#000000 106.6px,#181820 107.1px,#1d1d2a 107.6px,#282841 108.1px,#26263e 108.6px,#1b1b2b 109.1px,#18182c 110.1px,#18184a 111.1px,#181869 111.6px,#1818bc 112.6px,#1818de 113.1px,#1818e9 113.6px,#1919d5 114.1px,#222250 115.6px,#232338 116.1px,#242428 117.1px,#222253 119.1px,#23233f 120.1px,#242431 120.6px,#111112 121.6px,#242424 122.6px,#242425 125.1px)"></i>
<i style="left:20.6px;width:2.3px;background:linear-gradient(180deg,#252525 0.6px,#242424 3.1px,#111111 4.1px,#242424 5.6px,#242424 10.1px,#111111 11.1px,#242424 12.6px,#252525 18.6px,#040000 19.1px,#180101 22.1px,#3b0203 23.6px,#6d0406 24.6px,#db090c 26.1px,#f00a0e 26.6px,#f00a0e 28.1px,#df090d 28.6px,#af070a 29.1px,#8e0508 29.6px,#780507 31.1px,#740406 33.6px,#a50609 34.6px,#ad070a 35.1px,#7e0507 35.6px,#360203 36.1px,#0e0000 36.6px,#020000 37.1px,#000000 47.6px,#242524 48.1px,#202020 53.6px,#131313 54.1px,#151515 54.6px,#242424 55.6px,#1d2f1d 64.1px,#0d480d 66.1px,#0a590a 66.6px,#1be81b 69.1px,#1cec1c 70.6px,#1ae11a 71.1px,#0f7f0f 72.6px,#0c6c0c 75.1px,#0c6a0c 76.6px,#0e7a0e 77.6px,#0d750d 78.1px,#021502 80.6px,#000200 82.1px,#000000 106.6px,#181820 107.1px,#1d1d2a 107.6px,#282841 108.1px,#26263e 108.6px,#1b1b2b 109.1px,#18182b 110.1px,#181848 111.1px,#181865 111.6px,#1818da 113.1px,#1818e7 113.6px,#1919d6 114.1px,#222252 115.6px,#232339 116.1px,#242427 117.1px,#232337 118.1px,#222253 119.1px,#222252 119.6px,#232336 120.6px,#18181f 121.1px,#111113 121.6px,#242424 122.6px,#242425 125.1px)"></i>
<i style="left:22.6px;width:2.3px;background:linear-gradient(180deg,#252525 0.6px,#242424 3.1px,#111111 4.1px,#242424 5.6px,#242424 10.1px,#111111 11.1px,#242424 12.6px,#252525 18.6px,#040000 19.1px,#170001 22.1px,#390203 23.6px,#680406 24.6px,#d5080c 26.1px,#f00a0e 26.6px,#f00a0e 28.1px,#e2090d 28.6px,#b2070a 29.1px,#8e0508 29.6px,#780507 31.1px,#730406 33.6px,#a40609 34.6px,#ad070a 35.1px,#810507 35.6px,#390203 36.1px,#0f0000 36.6px,#020000 37.1px,#000000 47.6px,#242524 48.1px,#202020 53.6px,#131313 54.1px,#151515 54.6px,#242424 55.6px,#1e2f1e 64.1px,#0e460e 66.1px,#095409 66.6px,#1ae21a 69.1px,#1cec1c 70.1px,#1ae31a 71.1px,#0f820f 72.6px,#0c6c0c 74.6px,#0c690c 76.6px,#0e7b0e 77.6px,#0e770e 78.1px,#0a540a 79.1px,#021702 80.6px,#000200 82.1px,#000000 106.6px,#181820 107.1px,#1d1d2a 107.6px,#282841 108.1px,#26263e 108.6px,#1b1b2a 109.1px,#18182b 110.1px,#181846 111.1px,#181862 111.6px,#1818d6 113.1px,#1818e5 113.6px,#1919d6 114.1px,#212154 115.6px,#23233a 116.1px,#242427 117.1px,#242433 118.1px,#222251 119.1px,#212155 119.6px,#23233c 120.6px,#171723 121.1px,#111114 121.6px,#242424 122.6px,#242425 125.1px)"></i>
<i style="left:24.6px;width:2.3px;background:linear-gradient(180deg,#252525 0.6px,#242424 3.1px,#111111 4.1px,#242424 5.6px,#242424 10.1px,#111111 11.1px,#242424 12.6px,#252525 18.6px,#030000 19.1px,#160001 22.1px,#360203 23.6px,#640405 24.6px,#f00a0e 26.6px,#f00a0e 28.1px,#e4090d 28.6px,#8f0508 29.6px,#770406 31.1px,#730406 33.6px,#850507 34.1px,#a30609 34.6px,#ad070a 35.1px,#830507 35.6px,#3c0203 36.1px,#100000 36.6px,#020000 37.1px,#000000 47.6px,#242524 48.1px,#202020 53.6px,#131313 54.1px,#151515 54.6px,#242424 55.6px,#1e2e1e 64.1px,#104410 66.1px,#094f09 66.6px,#1adc1a 69.1px,#1cec1c 69.6px,#1be41b 71.1px,#14a914 72.1px,#0f850f 72.6px,#0d730d 73.6px,#0c680c 76.6px,#0e7a0e 77.6px,#0e790e 78.1px,#0a590a 79.1px,#031a03 80.6px,#000300 82.1px,#000000 106.6px,#181820 107.1px,#1d1d2a 107.6px,#282841 108.1px,#26263e 108.6px,#1b1b2a 109.1px,#18182a 110.1px,#181843 111.1px,#18185e 111.6px,#1818d2 113.1px,#1818e2 113.6px,#1919d7 114.1px,#212157 115.6px,#23233c 116.1px,#242427 117.1px,#24242f 118.1px,#212156 119.6px,#222252 120.1px,#242433 121.1px,#101016 121.6px,#242424 122.6px,#242425 125.1px)"></i>
<i style="left:26.6px;width:2.3px;background:linear-gradient(180deg,#252525 0.6px,#242424 3.1px,#111111 4.1px,#242424 5.6px,#242424 10.1px,#111111 11.1px,#242424 12.6px,#252525 18.6px,#030000 19.1px,#150001 22.1px,#330203 23.6px,#5f0305 24.6px,#eb090d 26.6px,#f00a0e 28.1px,#e7090d 28.6px,#8f0508 29.6px,#770406 31.1px,#720406 33.6px,#830507 34.1px,#a10609 34.6px,#ad070a 35.1px,#860507 35.6px,#3e0203 36.1px,#110001 36.6px,#020000 37.1px,#000000 47.6px,#242524 48.1px,#202020 53.6px,#131313 54.1px,#151515 54.6px,#242424 55.6px,#1f2d1f 64.1px,#114211 66.1px,#0a4c0a 66.6px,#0e7e0e 67.6px,#19d619 69.1px,#1bea1b 69.6px,#1be61b 71.1px,#14ac14 72.1px,#108910 72.6px,#0e780e 73.1px,#0c670c 76.1px,#0d6f0d 77.1px,#0e7b0e 78.1px,#0b5e0b 79.1px,#031d03 80.6px,#000300 82.1px,#000000 106.6px,#181820 107.1px,#1d1d2a 107.6px,#282841 108.1px,#26263e 108.6px,#1b1b2a 109.1px,#181829 110.1px,#181841 111.1px,#18185b 111.6px,#1818cd 113.1px,#1818e0 113.6px,#1919d8 114.1px,#1b1bb3 114.6px,#21215a 115.6px,#23233d 116.1px,#242428 117.1px,#24242c 118.1px,#212156 119.6px,#212156 120.1px,#232338 121.1px,#101019 121.6px,#242425 122.6px,#242425 125.1px)"></i>
<i style="left:28.6px;width:2.3px;background:linear-gradient(180deg,#252525 0.6px,#242424 3.1px,#111111 4.1px,#242424 5.6px,#242424 10.1px,#111111 11.1px,#242424 12.6px,#252525 18.6px,#030000 19.1px,#140001 22.1px,#310202 23.6px,#5b0305 24.6px,#e6090d 26.6px,#f00a0e 27.6px,#e9090d 28.6px,#900608 29.6px,#770406 31.1px,#710406 33.6px,#800507 34.1px,#a00609 34.6px,#ad070a 35.1px,#890508 35.6px,#410203 36.1px,#120001 36.6px,#030000 37.1px,#000000 47.6px,#242524 48.1px,#202020 53.6px,#131313 54.1px,#151515 54.6px,#242424 55.6px,#1f2d1f 64.1px,#124012 66.1px,#0a5c0a 67.1px,#18d018 69.1px,#1be51b 69.6px,#1cec1c 70.6px,#1be71b 71.1px,#14b014 72.1px,#108d10 72.6px,#0e780e 73.1px,#0c660c 76.1px,#0c6b0c 77.1px,#0e7c0e 78.1px,#0d740d 78.6px,#032003 80.6px,#000400 82.1px,#000000 106.6px,#181820 107.1px,#1d1d2a 107.6px,#282841 108.1px,#26263e 108.6px,#1b1b2a 109.1px,#181829 110.1px,#18183f 111.1px,#181857 111.6px,#1818c9 113.1px,#1818dd 113.6px,#1919d8 114.1px,#1b1bb6 114.6px,#21215c 115.6px,#23233f 116.1px,#242428 117.1px,#24242a 118.1px,#222253 119.6px,#212158 120.1px,#23233e 121.1px,#10101c 121.6px,#242425 122.6px,#242425 125.1px)"></i>
<i style="left:30.6px;width:2.3px;background:linear-gradient(180deg,#252525 0.6px,#242424 3.1px,#111111 4.1px,#242424 5.6px,#242424 10.1px,#111111 11.1px,#242424 12.6px,#252525 18.6px,#030000 19.1px,#190101 22.6px,#3f0203 24.1px,#740406 25.1px,#e0090d 26.6px,#f00a0e 27.1px,#ec090d 28.6px,#910608 29.6px,#760406 31.1px,#700406 33.6px,#7e0507 34.1px,#9e0609 34.6px,#ac070a 35.1px,#8c0508 35.6px,#440204 36.1px,#140001 36.6px,#030000 37.1px,#000000 47.6px,#242524 48.1px,#202020 53.6px,#131313 54.1px,#151515 54.6px,#242424 55.6px,#1e2f1e 64.6px,#0e470e 66.6px,#0a560a 67.1px,#1ae01a 69.6px,#1cec1c 70.1px,#1be71b 71.1px,#15b315 72.1px,#119011 72.6px,#0e780e 73.1px,#0c650c 76.1px,#0c680c 77.1px,#0e7d0e 78.1px,#0e770e 78.6px,#021402 81.1px,#000200 82.6px,#000000 106.6px,#181820 107.1px,#1d1d2a 107.6px,#282841 108.1px,#26263e 108.6px,#1b1b2a 109.1px,#181828 110.1px,#18183d 111.1px,#181854 111.6px,#1818c4 113.1px,#1818da 113.6px,#1919d8 114.1px,#1b1bb9 114.6px,#21215f 115.6px,#232341 116.1px,#242429 117.1px,#242428 118.1px,#23233e 119.1px,#212159 120.1px,#212154 120.6px,#1e1e23 122.1px,#242425 124.1px,#242425 125.1px)"></i>
<i style="left:32.6px;width:2.3px;background:linear-gradient(180deg,#252525 0.6px,#242424 3.1px,#111111 4.1px,#242424 5.6px,#242424 10.1px,#111111 11.1px,#242424 12.6px,#252525 18.6px,#020000 19.1px,#170001 22.6px,#3b0203 24.1px,#6e0406 25.1px,#d9090c 26.6px,#f00a0e 27.1px,#ee090d 28.6px,#930608 29.6px,#760406 31.1px,#700406 33.6px,#7b0507 34.1px,#9c0609 34.6px,#ac070a 35.1px,#8e0508 35.6px,#470204 36.1px,#150001 36.6px,#030000 37.1px,#000000 47.6px,#242524 48.1px,#202020 53.6px,#131313 54.1px,#151515 54.6px,#242424 55.6px,#1e2e1e 64.6px,#0f450f 66.6px,#095109 67.1px,#19da19 69.6px,#1bea1b 70.1px,#1be81b 71.1px,#15b715 72.1px,#0e780e 73.1px,#0b640b 76.1px,#0b640b 77.1px,#0e7d0e 78.1px,#0e7a0e 78.6px,#0a540a 79.6px,#021602 81.1px,#000200 82.6px,#000000 106.6px,#181820 107.1px,#1d1d2a 107.6px,#282841 108.1px,#26263e 108.6px,#1b1b2a 109.1px,#181828 110.1px,#18183b 111.1px,#181851 111.6px,#1818be 113.1px,#1818d7 113.6px,#1919d8 114.1px,#1b1bbb 114.6px,#212163 115.6px,#232343 116.1px,#242429 117.1px,#24242d 118.6px,#212159 120.1px,#212159 120.6px,#1d1d26 122.1px,#242425 124.1px,#242425 125.1px)"></i>
<i style="left:34.6px;width:2.3px;background:linear-gradient(180deg,#252525 0.6px,#242424 3.1px,#111111 4.1px,#242424 5.6px,#242424 10.1px,#111111 11.1px,#242424 12.6px,#252525 18.6px,#020000 19.1px,#160001 22.6px,#380203 24.1px,#680406 25.1px,#d3080c 26.6px,#f00a0e 27.1px,#f00a0e 28.6px,#c9080b 29.1px,#980608 29.6px,#7c0507 30.6px,#6f0406 33.1px,#790507 34.1px,#9b0609 34.6px,#ab070a 35.1px,#910608 35.6px,#4a0304 36.1px,#160001 36.6px,#040000 37.1px,#000000 47.6px,#242524 48.1px,#202020 53.6px,#131313 54.1px,#151515 54.6px,#242424 55.6px,#1f2d1f 64.6px,#114211 66.6px,#0a4d0a 67.1px,#19d419 69.6px,#1be61b 70.1px,#1be81b 71.1px,#19d619 71.6px,#0e780e 73.1px,#0b630b 76.1px,#0b620b 77.1px,#0e7c0e 78.1px,#0e7c0e 78.6px,#0a590a 79.6px,#021802 81.1px,#000200 82.6px,#000000 106.6px,#181820 107.1px,#1d1d2a 107.6px,#282841 108.1px,#26263e 108.6px,#1b1b29 109.1px,#181827 110.1px,#181839 111.1px,#18184d 111.6px,#181893 112.6px,#1818b9 113.1px,#1818d3 113.6px,#1919d7 114.1px,#1b1bbe 114.6px,#202066 115.6px,#222246 116.1px,#242433 116.6px,#242426 118.1px,#232335 119.1px,#212157 120.1px,#21215b 120.6px,#23233f 121.6px,#1d1d29 122.1px,#242425 124.1px,#242425 125.1px)"></i>
<i style="left:36.6px;width:2.3px;background:linear-gradient(180deg,#252525 0.6px,#242424 3.1px,#111111 4.1px,#242424 5.6px,#242424 10.1px,#111111 11.1px,#242424 12.6px,#252525 18.6px,#020000 19.1px,#150001 22.6px,#350203 24.1px,#630405 25.1px,#eb090d 27.1px,#f00a0e 28.6px,#ce080c 29.1px,#9e0609 29.6px,#870507 30.1px,#720406 31.6px,#6e0406 33.6px,#760406 34.1px,#990608 34.6px,#ab0709 35.1px,#930608 35.6px,#4d0304 36.1px,#180101 36.6px,#040000 37.1px,#000000 47.6px,#242524 48.1px,#202020 53.6px,#131313 54.1px,#151515 54.6px,#242424 55.6px,#1f2d1f 64.6px,#124012 66.6px,#0b5e0b 67.6px,#18ce18 69.6px,#1bea1b 70.6px,#1be81b 71.1px,#19d819 71.6px,#0e7a0e 73.1px,#0b630b 75.6px,#0b610b 77.1px,#0e7c0e 78.1px,#0e7d0e 78.6px,#0b5d0b 79.6px,#031a03 81.1px,#000200 82.6px,#000000 106.6px,#181820 107.1px,#1d1d2a 107.6px,#282840 108.1px,#26263d 108.6px,#1b1b29 109.1px,#181827 110.1px,#181837 111.1px,#18184a 111.6px,#18188d 112.6px,#1818b3 113.1px,#1818cf 113.6px,#1919d6 114.1px,#1b1bc0 114.6px,#20206a 115.6px,#222248 116.1px,#242434 116.6px,#242426 118.1px,#242431 119.1px,#21215d 120.6px,#212156 121.1px,#242429 122.6px,#242425 125.1px)"></i>
<i style="left:38.6px;width:2.3px;background:linear-gradient(180deg,#252525 0.6px,#242424 3.1px,#111111 4.1px,#242424 5.6px,#242424 10.1px,#111111 11.1px,#242424 12.6px,#252525 18.6px,#020000 19.1px,#130001 22.6px,#310202 24.1px,#5d0305 25.1px,#e5090d 27.1px,#f00a0e 27.6px,#f00a0e 28.6px,#d2080c 29.1px,#a30609 29.6px,#870507 30.1px,#710406 31.6px,#6d0406 33.6px,#730406 34.1px,#970608 34.6px,#aa0709 35.1px,#960608 35.6px,#500304 36.1px,#190101 36.6px,#040000 37.1px,#000000 47.6px,#242524 48.1px,#202020 53.6px,#131313 54.1px,#151515 54.6px,#242424 55.6px,#1f2c1f 64.6px,#133e13 66.6px,#0a580a 67.6px,#17c717 69.6px,#1be71b 70.6px,#1be71b 71.1px,#19da19 71.6px,#13a113 72.6px,#0f7e0f 73.1px,#0c6c0c 74.1px,#0b600b 77.1px,#0e7b0e 78.1px,#0f7e0f 78.6px,#0d750d 79.1px,#031d03 81.1px,#000300 82.6px,#000000 106.6px,#181820 107.1px,#1d1d2a 107.6px,#282840 108.1px,#26263d 108.6px,#1b1b29 109.1px,#181826 110.1px,#181835 111.1px,#181863 112.1px,#1818ae 113.1px,#1818cb 113.6px,#1919d5 114.1px,#1a1ac2 114.6px,#22224b 116.1px,#232335 116.6px,#242426 117.6px,#24242e 119.1px,#21215d 120.6px,#21215b 121.1px,#24242c 122.6px,#242425 125.1px)"></i>
<i style="left:40.6px;width:2.3px;background:linear-gradient(180deg,#252525 0.6px,#242424 3.1px,#111111 4.1px,#242424 5.6px,#242424 10.1px,#111111 11.1px,#242424 12.6px,#252525 18.6px,#010000 19.1px,#120001 22.6px,#2e0102 24.1px,#570305 25.1px,#de090c 27.1px,#f00a0e 27.6px,#f00a0e 28.6px,#d7080c 29.1px,#a90709 29.6px,#880507 30.1px,#710406 31.6px,#700406 34.1px,#950608 34.6px,#a90709 35.1px,#980608 35.6px,#530304 36.1px,#1b0101 36.6px,#050000 37.1px,#000000 47.6px,#242524 48.1px,#202020 53.6px,#131313 54.1px,#151515 54.6px,#242424 55.6px,#1e2e1e 65.1px,#0f450f 67.1px,#095209 67.6px,#19d619 70.1px,#1be41b 70.6px,#1be61b 71.1px,#1adb1a 71.6px,#13a513 72.6px,#0f820f 73.1px,#0d710d 73.6px,#0b5f0b 76.6px,#0b5f0b 77.1px,#0e790e 78.1px,#0f7f0f 78.6px,#0e780e 79.1px,#031f03 81.1px,#010801 82.1px,#000000 86.1px,#000001 106.6px,#181820 107.1px,#1d1d2a 107.6px,#282840 108.1px,#26263d 108.6px,#1b1b29 109.1px,#181826 110.1px,#181834 111.1px,#18185e 112.1px,#1818c6 113.6px,#1818d2 114.1px,#1a1ac4 114.6px,#22224e 116.1px,#232337 116.6px,#242427 117.6px,#24242c 119.1px,#21215b 120.6px,#21215e 121.1px,#23232f 122.6px,#242425 124.6px,#242425 125.1px)"></i>
<i style="left:42.6px;width:2.3px;background:linear-gradient(180deg,#252525 0.6px,#242424 3.1px,#111111 4.1px,#242424 5.6px,#242424 10.1px,#111111 11.1px,#242424 12.6px,#252525 18.6px,#010000 19.1px,#110001 22.6px,#2b0102 24.1px,#520304 25.1px,#d7080c 27.1px,#f00a0e 27.6px,#f00a0e 28.6px,#db090c 29.1px,#8a0508 30.1px,#710406 31.6px,#6d0406 34.1px,#930608 34.6px,#a90709 35.1px,#9a0609 35.6px,#560305 36.1px,#1d0101 36.6px,#050000 37.1px,#000000 44.1px,#000000 47.6px,#242524 48.1px,#202020 53.6px,#131313 54.1px,#151515 54.6px,#242424 55.6px,#1f2d1f 65.1px,#104310 67.1px,#094d09 67.6px,#18d118 70.1px,#1ae01a 70.6px,#1be41b 71.1px,#1adc1a 71.6px,#14a914 72.6px,#108710 73.1px,#0d710d 73.6px,#0b5e0b 76.6px,#0c660c 77.6px,#0f7f0f 78.6px,#0e7a0e 79.1px,#095109 80.1px,#042204 81.1px,#010901 82.1px,#000000 85.1px,#000003 105.6px,#000001 106.6px,#181820 107.1px,#1d1d2a 107.6px,#282840 108.1px,#26263d 108.6px,#1b1b29 109.1px,#181825 110.1px,#181832 111.1px,#18185a 112.1px,#1818c1 113.6px,#1818d0 114.1px,#1a1ac6 114.6px,#222251 116.1px,#232339 116.6px,#242427 117.6px,#24242a 119.1px,#222245 120.1px,#212158 120.6px,#212160 121.1px,#232344 122.1px,#242429 123.1px,#242425 125.1px)"></i>
<i style="left:44.6px;width:2.3px;background:linear-gradient(180deg,#252525 0.6px,#242424 3.1px,#111111 4.1px,#242424 5.6px,#242424 10.1px,#111111 11.1px,#242424 12.6px,#252525 18.6px,#010000 19.1px,#0f0000 22.6px,#280102 24.1px,#4c0304 25.1px,#ad070a 26.6px,#eb090d 27.6px,#f00a0e 28.6px,#df090d 29.1px,#8b0508 30.1px,#710406 31.6px,#6b0406 34.1px,#910608 34.6px,#a80709 35.1px,#9c0609 35.6px,#1e0101 36.6px,#060000 37.1px,#000000 41.6px,#000000 47.6px,#242524 48.1px,#202020 53.6px,#131313 54.1px,#151515 54.6px,#242424 55.6px,#1f2c1f 65.1px,#124012 67.1px,#0b5e0b 68.1px,#18ca18 70.1px,#1ae21a 71.1px,#1add1a 71.6px,#14ad14 72.6px,#0d710d 73.6px,#0b5d0b 76.6px,#0b620b 77.6px,#0f7f0f 78.6px,#0e7c0e 79.1px,#0a550a 80.1px,#042404 81.1px,#010a01 82.1px,#000000 84.6px,#000006 101.6px,#000002 106.6px,#181820 107.1px,#1d1d2a 107.6px,#282840 108.1px,#26263d 108.6px,#1b1b29 109.1px,#181825 110.1px,#181831 111.1px,#181855 112.1px,#1818bc 113.6px,#1818cd 114.1px,#1a1ac7 114.6px,#1c1ca7 115.1px,#212155 116.1px,#23233b 116.6px,#242428 117.6px,#242428 119.1px,#232341 120.1px,#212161 121.1px,#21215c 121.6px,#24242b 123.1px,#242425 125.1px)"></i>
<i style="left:46.6px;width:2.3px;background:linear-gradient(180deg,#252525 0.6px,#242424 3.1px,#111111 4.1px,#242424 5.6px,#242424 10.1px,#111111 11.1px,#242424 12.6px,#252525 18.6px,#010000 19.1px,#130001 23.1px,#330203 24.6px,#610405 25.6px,#e5090d 27.6px,#f00a0e 28.1px,#f00a0e 28.6px,#e3090d 29.1px,#8c0508 30.1px,#710406 31.6px,#6a0406 34.1px,#8f0508 34.6px,#a70609 35.1px,#9d0609 35.6px,#200101 36.6px,#060000 37.1px,#000000 40.1px,#000000 47.6px,#242524 48.1px,#202020 53.6px,#131313 54.1px,#151515 54.6px,#242424 55.6px,#202c20 65.1px,#133e13 67.1px,#0a580a 68.1px,#17c417 70.1px,#1adf1a 71.1px,#1add1a 71.6px,#18cc18 72.1px,#0d710d 73.6px,#0a5c0a 76.6px,#0b5f0b 77.6px,#0f7f0f 78.6px,#0f7e0f 79.1px,#0a590a 80.1px,#021602 81.6px,#000100 83.1px,#000006 101.1px,#000005 105.6px,#000002 106.6px,#181820 107.1px,#1d1d2a 107.6px,#282840 108.1px,#26263d 108.6px,#1b1b28 109.1px,#181824 110.1px,#18183c 111.6px,#181870 112.6px,#1818b7 113.6px,#1818ca 114.1px,#1a1ac8 114.6px,#1c1caa 115.1px,#212159 116.1px,#23233e 116.6px,#242428 117.6px,#242427 119.1px,#23233c 120.1px,#212160 121.1px,#212160 121.6px,#24242e 123.1px,#242425 125.1px)"></i>
<i style="left:48.6px;width:2.3px;background:linear-gradient(180deg,#252525 0.6px,#242424 3.1px,#111111 4.1px,#242424 5.6px,#242424 10.1px,#111111 11.1px,#242424 12.6px,#252525 18.6px,#010000 19.1px,#120001 23.1px,#2f0102 24.6px,#5b0305 25.6px,#de090c 27.6px,#f00a0e 28.1px,#e7090d 29.1px,#c2080b 29.6px,#930608 30.1px,#780507 31.1px,#6a0406 33.1px,#690406 34.1px,#a60609 35.1px,#9f0609 35.6px,#220102 36.6px,#070000 37.1px,#000000 39.1px,#000000 47.6px,#242524 48.1px,#202020 53.6px,#131313 54.1px,#151515 54.6px,#242424 55.6px,#1e2e1e 65.6px,#0f450f 67.6px,#095209 68.1px,#16bd16 70.1px,#1adc1a 71.1px,#1adc1a 71.6px,#18cf18 72.1px,#119511 73.1px,#0d720d 73.6px,#0b5c0b 76.1px,#0a5b0a 77.6px,#0f7e0f 78.6px,#0f800f 79.1px,#0d730d 79.6px,#021702 81.6px,#000200 83.1px,#000005 100.6px,#000009 104.6px,#000002 106.6px,#181820 107.1px,#1d1d2a 107.6px,#282840 108.1px,#26263d 108.6px,#1b1b28 109.1px,#181824 110.1px,#181839 111.6px,#18186a 112.6px,#1818b1 113.6px,#1818c7 114.1px,#1a1ac8 114.6px,#1c1cae 115.1px,#21215d 116.1px,#232340 116.6px,#242429 117.6px,#242426 119.1px,#232338 120.1px,#21215e 121.1px,#212163 121.6px,#242431 123.1px,#242425 124.6px,#242425 125.1px)"></i>
<i style="left:50.6px;width:2.3px;background:linear-gradient(180deg,#252525 0.6px,#242424 3.1px,#111111 4.1px,#242424 5.6px,#242424 10.1px,#111111 11.1px,#242424 12.6px,#252525 18.6px,#000000 19.1px,#100000 23.1px,#2c0102 24.6px,#540304 25.6px,#d7080c 27.6px,#ed090d 28.1px,#ea090d 29.1px,#c8080b 29.6px,#9a0609 30.1px,#830507 30.6px,#6d0406 32.1px,#690406 34.1px,#a50609 35.1px,#a10609 35.6px,#240102 36.6px,#080000 37.1px,#000000 39.1px,#000000 47.6px,#242524 48.1px,#202020 53.6px,#131313 54.1px,#151515 54.6px,#242424 55.6px,#1f2d1f 65.6px,#114211 67.6px,#0a4d0a 68.1px,#18cc18 70.6px,#19d919 71.1px,#1adb1a 71.6px,#18d018 72.1px,#129a12 73.1px,#0e770e 73.6px,#0b610b 75.1px,#0a590a 77.6px,#0e7d0e 78.6px,#0f810f 79.1px,#0e760e 79.6px,#031903 81.6px,#000200 83.1px,#000006 100.6px,#01010b 104.6px,#000003 106.6px,#181820 107.1px,#1d1d2a 107.6px,#282840 108.1px,#26263d 108.6px,#1b1b28 109.1px,#181824 110.1px,#181837 111.6px,#181865 112.6px,#1818ab 113.6px,#1818c3 114.1px,#1a1ac8 114.6px,#1c1cb2 115.1px,#212162 116.1px,#232343 116.6px,#242429 117.6px,#24242a 119.6px,#222247 120.6px,#21215b 121.1px,#202064 121.6px,#21215b 122.1px,#242434 123.1px,#242426 124.1px,#242425 125.1px)"></i>
<i style="left:52.6px;width:2.3px;background:linear-gradient(180deg,#252525 0.6px,#242424 3.1px,#111111 4.1px,#242424 5.6px,#242424 10.1px,#111111 11.1px,#242424 12.6px,#252525 18.6px,#000000 19.1px,#0f0000 23.1px,#280102 24.6px,#4e0304 25.6px,#cf080c 27.6px,#e8090d 28.1px,#f00a0e 28.6px,#ec090d 29.1px,#ce080c 29.6px,#a20609 30.1px,#840507 30.6px,#6d0406 32.1px,#680406 34.1px,#a40609 35.1px,#a20609 35.6px,#260102 36.6px,#080000 37.1px,#000000 38.6px,#000000 47.6px,#242524 48.1px,#202020 53.6px,#131313 54.1px,#151515 54.6px,#242424 55.6px,#1f2c1f 65.6px,#124012 67.6px,#0b5d0b 68.6px,#17c517 70.6px,#19d919 71.6px,#18d118 72.1px,#129e12 73.1px,#0e7c0e 73.6px,#0c6b0c 74.1px,#0a580a 77.1px,#0a580a 77.6px,#0e7c0e 78.6px,#0f820f 79.1px,#0e780e 79.6px,#031b03 81.6px,#000600 82.6px,#000000 91.6px,#000006 100.6px,#01010e 104.1px,#000003 106.6px,#181820 107.1px,#1d1d2a 107.6px,#282840 108.1px,#26263d 108.6px,#1b1b28 109.1px,#181823 110.1px,#181835 111.6px,#18185f 112.6px,#1818a4 113.6px,#1818be 114.1px,#1a1ac7 114.6px,#1b1bb5 115.1px,#222247 116.6px,#24242a 117.6px,#242429 119.6px,#232343 120.6px,#202065 121.6px,#21215f 122.1px,#24242c 123.6px,#242425 125.1px)"></i>
<i style="left:54.6px;width:2.3px;background:linear-gradient(180deg,#252525 0.6px,#242424 3.1px,#111111 4.1px,#242424 5.6px,#242424 10.1px,#111111 11.1px,#242424 12.6px,#252525 18.6px,#000000 19.1px,#0e0000 23.1px,#250102 24.6px,#480304 25.6px,#a50609 27.1px,#e1090d 28.1px,#f00a0e 28.6px,#ed090d 29.1px,#d4080c 29.6px,#850507 30.6px,#6d0406 32.1px,#670406 34.1px,#a30609 35.1px,#a30609 35.6px,#280102 36.6px,#090000 37.1px,#000000 38.6px,#000000 47.6px,#242524 48.1px,#202020 53.6px,#131313 54.1px,#151515 54.6px,#242424 55.6px,#202c20 65.6px,#143e14 67.6px,#0a560a 68.6px,#16bf16 70.6px,#19d719 71.6px,#18d218 72.1px,#16c016 72.6px,#0f810f 73.6px,#0c6b0c 74.1px,#0a570a 77.1px,#0a570a 77.6px,#0e7b0e 78.6px,#0f820f 79.1px,#0e7b0e 79.6px,#031d03 81.6px,#000600 82.6px,#000000 89.1px,#000005 100.1px,#010110 104.1px,#000004 106.6px,#181820 107.1px,#1d1d2a 107.6px,#282840 108.1px,#26263d 108.6px,#1b1b28 109.1px,#181823 110.1px,#181833 111.6px,#18185a 112.6px,#1818b9 114.1px,#1a1ac5 114.6px,#1b1bb7 115.1px,#22224a 116.6px,#232335 117.1px,#242427 118.1px,#242428 119.6px,#23233f 120.6px,#202064 121.6px,#212163 122.1px,#24242e 123.6px,#242425 125.1px)"></i>
<i style="left:56.6px;width:2.3px;background:linear-gradient(180deg,#252525 0.6px,#242424 3.1px,#111111 4.1px,#242424 5.6px,#242424 10.1px,#111111 11.1px,#242424 12.6px,#252525 18.6px,#000000 19.1px,#0d0000 23.1px,#210101 24.6px,#420203 25.6px,#7a0507 26.6px,#db090c 28.1px,#ec090d 28.6px,#ee090d 29.1px,#d9090c 29.6px,#870507 30.6px,#6d0406 32.1px,#670406 34.1px,#a10609 35.1px,#a40609 35.6px,#2a0102 36.6px,#0a0000 37.1px,#000000 38.1px,#000000 47.6px,#242524 48.1px,#202020 53.6px,#131313 54.1px,#151515 54.6px,#242424 55.6px,#1f2d1f 66.1px,#0f440f 68.1px,#095009 68.6px,#15b815 70.6px,#19d419 71.6px,#19d219 72.1px,#17c217 72.6px,#0c6b0c 74.1px,#0a560a 77.1px,#0a560a 77.6px,#0e790e 78.6px,#0f820f 79.1px,#0e7d0e 79.6px,#094f09 80.6px,#031e03 81.6px,#000700 82.6px,#000000 88.1px,#000005 100.1px,#010113 103.6px,#000004 106.6px,#181820 107.1px,#1d1d2a 107.6px,#282840 108.1px,#26263c 108.6px,#1b1b28 109.1px,#181823 110.1px,#181831 111.6px,#181855 112.6px,#1818b4 114.1px,#1818c2 114.6px,#1b1bb9 115.1px,#22224e 116.6px,#232338 117.1px,#242427 118.1px,#24242d 120.1px,#212163 121.6px,#202066 122.1px,#242431 123.6px,#242425 125.1px)"></i>
<i style="left:58.6px;width:2.3px;background:linear-gradient(180deg,#252525 0.6px,#242424 3.1px,#111111 4.1px,#242424 5.6px,#242424 10.1px,#111111 11.1px,#242424 12.6px,#252525 18.6px,#000000 19.1px,#100000 23.6px,#2b0102 25.1px,#530304 26.1px,#d3080c 28.1px,#e7090d 28.6px,#ed090d 29.1px,#dd090c 29.6px,#b9070a 30.1px,#8b0508 30.6px,#6d0406 32.1px,#660405 34.1px,#a00609 35.1px,#a50609 35.6px,#6f0406 36.1px,#2d0102 36.6px,#0a0000 37.1px,#000000 38.1px,#000000 47.6px,#242524 48.1px,#202020 53.6px,#131313 54.1px,#151515 54.6px,#242424 55.6px,#1f2c1f 66.1px,#114211 68.1px,#0a4c0a 68.6px,#17c517 71.1px,#18d118 71.6px,#18d218 72.1px,#17c517 72.6px,#0c6c0c 74.1px,#0a550a 77.1px,#0a550a 77.6px,#0f820f 79.1px,#0f7f0f 79.6px,#095209 80.6px,#032003 81.6px,#000700 82.6px,#000000 87.1px,#000006 100.1px,#020214 103.6px,#000005 106.6px,#181820 107.1px,#1d1d2a 107.6px,#282840 108.1px,#26263c 108.6px,#1b1b28 109.1px,#181825 110.6px,#18183c 112.1px,#18186e 113.1px,#1818ae 114.1px,#1818bf 114.6px,#1b1bbb 115.1px,#1d1d9e 115.6px,#222252 116.6px,#23233a 117.1px,#242427 118.1px,#24242b 120.1px,#22224c 121.1px,#212161 121.6px,#202068 122.1px,#21215c 122.6px,#242434 123.6px,#242426 124.6px,#242425 125.1px)"></i>
<i style="left:60.6px;width:2.3px;background:linear-gradient(180deg,#252525 0.6px,#242424 3.1px,#111111 4.1px,#242424 5.6px,#242424 10.1px,#111111 11.1px,#242424 12.6px,#252525 18.6px,#000000 19.1px,#0e0000 23.6px,#270102 25.1px,#4c0304 26.1px,#cb080b 28.1px,#e2090d 28.6px,#eb090d 29.1px,#e1090d 29.6px,#c0080b 30.1px,#930608 30.6px,#7f0507 31.1px,#690406 32.6px,#650405 34.1px,#9f0609 35.1px,#a50609 35.6px,#720406 36.1px,#2f0102 36.6px,#0b0000 37.1px,#000000 38.1px,#000000 47.6px,#242524 48.1px,#202020 53.6px,#131313 54.1px,#151515 54.6px,#242424 55.6px,#202c20 66.1px,#133f13 68.1px,#0a5b0a 69.1px,#16bf16 71.1px,#18d018 72.1px,#17c717 72.6px,#119111 73.6px,#0d6f0d 74.1px,#0a560a 76.6px,#095409 77.6px,#0b5e0b 78.1px,#0e760e 78.6px,#0f820f 79.1px,#0f800f 79.6px,#0a550a 80.6px,#042204 81.6px,#000800 82.6px,#000000 86.1px,#000004 99.6px,#020216 103.6px,#000005 106.6px,#181820 107.1px,#1d1d2a 107.6px,#282840 108.1px,#26263c 108.6px,#1b1b27 109.1px,#181824 110.6px,#181839 112.1px,#181867 113.1px,#1818a8 114.1px,#1818bc 114.6px,#1b1bbc 115.1px,#1d1da2 115.6px,#212157 116.6px,#23233d 117.1px,#242428 118.1px,#24242a 120.1px,#222248 121.1px,#21215e 121.6px,#202069 122.1px,#212161 122.6px,#232337 123.6px,#242426 124.6px,#242425 125.1px)"></i>
<i style="left:62.6px;width:2.3px;background:linear-gradient(180deg,#252525 0.6px,#242424 3.1px,#111111 4.1px,#242424 5.6px,#242424 10.1px,#111111 11.1px,#242424 12.6px,#252525 18.6px,#000000 19.1px,#0d0000 23.6px,#230102 25.1px,#460204 26.1px,#db090c 28.6px,#e8090d 29.1px,#e3090d 29.6px,#c7080b 30.1px,#9c0609 30.6px,#800507 31.1px,#690406 32.6px,#640405 34.1px,#7a0507 34.6px,#9d0609 35.1px,#a60609 35.6px,#750406 36.1px,#310202 36.6px,#0c0000 37.1px,#000000 38.1px,#000000 47.6px,#242524 48.1px,#202020 53.6px,#131313 54.1px,#151515 54.6px,#242424 55.6px,#202b20 66.1px,#143d14 68.1px,#0a540a 69.1px,#15b915 71.1px,#18ce18 72.1px,#17c817 72.6px,#119611 73.6px,#0d740d 74.1px,#0b600b 75.1px,#095309 77.6px,#0a5b0a 78.1px,#0f820f 79.1px,#0f820f 79.6px,#0d720d 80.1px,#042404 81.6px,#010801 82.6px,#000000 86.1px,#000004 99.6px,#020218 103.6px,#000005 106.6px,#181820 107.1px,#1d1d2a 107.6px,#282840 108.1px,#26263c 108.6px,#1b1b27 109.1px,#181824 110.6px,#181836 112.1px,#181861 113.1px,#1818a2 114.1px,#1818b8 114.6px,#1b1bbc 115.1px,#1c1ca6 115.6px,#21215c 116.6px,#232340 117.1px,#242429 118.1px,#242429 120.1px,#232344 121.1px,#20206a 122.1px,#202065 122.6px,#24242d 124.1px,#242425 125.1px)"></i>
<i style="left:64.6px;width:2.3px;background:linear-gradient(180deg,#252525 0.6px,#242424 3.1px,#111111 4.1px,#242424 5.6px,#242424 10.1px,#111111 11.1px,#242424 12.6px,#252525 18.6px,#000000 19.1px,#0b0000 23.6px,#200101 25.1px,#3f0203 26.1px,#760406 27.1px,#d4080c 28.6px,#e4090d 29.1px,#e4090d 29.6px,#ce080c 30.1px,#820507 31.1px,#690406 32.6px,#640405 34.1px,#770406 34.6px,#9b0609 35.1px,#a60609 35.6px,#780507 36.1px,#340203 36.6px,#0d0000 37.1px,#000000 38.1px,#000000 47.6px,#242524 48.1px,#202020 53.6px,#131313 54.1px,#151515 54.6px,#242424 55.6px,#1f2d1f 66.6px,#104310 68.6px,#094e09 69.1px,#15b215 71.1px,#18cc18 72.1px,#17c917 72.6px,#15b715 73.1px,#0e7a0e 74.1px,#0c660c 74.6px,#095209 77.6px,#0a580a 78.1px,#0f820f 79.1px,#0f830f 79.6px,#0d740d 80.1px,#042504 81.6px,#010901 82.6px,#000000 85.6px,#000005 99.6px,#02021a 103.6px,#000006 106.6px,#181820 107.1px,#1d1d29 107.6px,#282840 108.1px,#26263c 108.6px,#1b1b27 109.1px,#181823 110.6px,#181834 112.1px,#18185b 113.1px,#18189b 114.1px,#1818b3 114.6px,#1b1bbb 115.1px,#1c1caa 115.6px,#232344 117.1px,#24242a 118.1px,#242428 120.1px,#22222e 120.6px,#202069 122.1px,#202069 122.6px,#24242f 124.1px,#242425 125.1px)"></i>
<i style="left:66.6px;width:2.3px;background:linear-gradient(180deg,#252525 0.6px,#242424 3.1px,#111111 4.1px,#242424 5.6px,#242424 10.1px,#111111 11.1px,#242424 12.6px,#252525 18.6px,#000000 19.1px,#0a0000 23.6px,#1d0101 25.1px,#390203 26.1px,#6d0406 27.1px,#cc080b 28.6px,#df090d 29.1px,#e4090d 29.6px,#d3080c 30.1px,#840507 31.1px,#6a0406 32.6px,#630405 34.1px,#740406 34.6px,#9a0609 35.1px,#a60609 35.6px,#7b0507 36.1px,#360203 36.6px,#0e0000 37.1px,#020000 37.6px,#000000 47.6px,#242524 48.1px,#202020 53.6px,#131313 54.1px,#151515 54.6px,#242424 55.6px,#202c20 66.6px,#124012 68.6px,#0b5e0b 69.6px,#16be16 71.6px,#17c817 72.1px,#17c817 72.6px,#16ba16 73.1px,#0c660c 74.6px,#095109 77.6px,#0a540a 78.1px,#0f810f 79.1px,#0f840f 79.6px,#0e770e 80.1px,#042704 81.6px,#010901 82.6px,#000000 85.1px,#000005 99.6px,#02021b 103.6px,#000006 106.6px,#181820 107.1px,#1d1d29 107.6px,#282840 108.1px,#26263c 108.6px,#1b1b27 109.1px,#181823 110.6px,#181832 112.1px,#181856 113.1px,#1818ae 114.6px,#1818b8 115.1px,#1c1cad 115.6px,#222248 117.1px,#24242b 118.1px,#242427 120.1px,#22222c 120.6px,#202068 122.1px,#20206b 122.6px,#242431 124.1px,#242425 125.1px)"></i>
<i style="left:68.6px;width:2.3px;background:linear-gradient(180deg,#252525 0.6px,#242424 3.1px,#111111 4.1px,#242424 5.6px,#242424 10.1px,#111111 11.1px,#242424 12.6px,#252525 18.6px,#000000 19.1px,#0d0000 24.1px,#240102 25.6px,#490304 26.6px,#c4080b 28.6px,#da090c 29.1px,#e2090d 29.6px,#d7080c 30.1px,#b7070a 30.6px,#8a0508 31.1px,#6a0406 32.6px,#620405 34.1px,#710406 34.6px,#980608 35.1px,#a60609 35.6px,#7e0507 36.1px,#390203 36.6px,#0f0000 37.1px,#020000 37.6px,#000000 47.6px,#242524 48.1px,#202020 53.6px,#131313 54.1px,#151515 54.6px,#242424 55.6px,#202b20 66.6px,#143e14 68.6px,#0a570a 69.6px,#15b815 71.6px,#17c717 72.6px,#16bd16 73.1px,#0f850f 74.1px,#0c660c 74.6px,#095009 77.6px,#095109 78.1px,#0f800f 79.1px,#0f850f 79.6px,#0e790e 80.1px,#042804 81.6px,#010a01 82.6px,#000000 85.1px,#000005 99.6px,#03031e 103.1px,#000007 106.6px,#181820 107.1px,#1d1d29 107.6px,#28283f 108.1px,#26263c 108.6px,#1b1b27 109.1px,#181823 110.6px,#181830 112.1px,#181851 113.1px,#1818a8 114.6px,#1818b6 115.1px,#1c1caf 115.6px,#22224c 117.1px,#232337 117.6px,#242427 118.6px,#22222a 120.6px,#202066 122.1px,#20206d 122.6px,#212160 123.1px,#242434 124.1px,#242426 125.1px)"></i>
<i style="left:70.6px;width:2.3px;background:linear-gradient(180deg,#252525 0.6px,#242424 3.1px,#111111 4.1px,#242424 5.6px,#242424 10.1px,#111111 11.1px,#242424 12.6px,#252525 18.6px,#000000 19.1px,#0b0000 24.1px,#200101 25.6px,#410203 26.6px,#9b0609 28.1px,#d3080c 29.1px,#df090d 29.6px,#db090c 30.1px,#bf070b 30.6px,#940608 31.1px,#7d0507 31.6px,#660405 33.1px,#620405 34.1px,#6e0406 34.6px,#960608 35.1px,#a60609 35.6px,#800507 36.1px,#3b0203 36.6px,#100000 37.1px,#020000 37.6px,#000000 47.6px,#242524 48.1px,#202020 53.6px,#131313 54.1px,#151515 54.6px,#242424 55.6px,#202b20 66.6px,#0f440f 69.1px,#095009 69.6px,#15b115 71.6px,#17c617 72.6px,#16be16 73.1px,#108b10 74.1px,#0c690c 74.6px,#095009 77.1px,#094e09 78.1px,#0f7f0f 79.1px,#0f860f 79.6px,#0e7b0e 80.1px,#052a05 81.6px,#010a01 82.6px,#000000 85.1px,#000006 99.6px,#03031f 103.1px,#000007 106.6px,#181820 107.1px,#1d1d29 107.6px,#28283f 108.1px,#26263c 108.6px,#1b1b27 109.1px,#181822 110.6px,#18182e 112.1px,#18184c 113.1px,#1818a2 114.6px,#1818b2 115.1px,#1c1cb1 115.6px,#1d1d97 116.1px,#222251 117.1px,#23233a 117.6px,#242427 118.6px,#222229 120.6px,#22224d 121.6px,#202064 122.1px,#20206f 122.6px,#202064 123.1px,#232337 124.1px,#242426 125.1px)"></i>
<i style="left:72.6px;width:2.3px;background:linear-gradient(180deg,#252525 0.6px,#242424 3.1px,#111111 4.1px,#242424 5.6px,#242424 10.1px,#111111 11.1px,#242424 12.6px,#252525 18.6px,#000000 19.1px,#0a0000 24.1px,#1d0101 25.6px,#3b0203 26.6px,#6f0406 27.6px,#cb080b 29.1px,#db090c 29.6px,#dc090c 30.1px,#c6080b 30.6px,#7f0507 31.6px,#660405 33.1px,#610405 34.1px,#6b0406 34.6px,#940608 35.1px,#a60609 35.6px,#830507 36.1px,#3e0203 36.6px,#110001 37.1px,#030000 37.6px,#000000 47.6px,#242524 48.1px,#202020 53.6px,#131313 54.1px,#151515 54.6px,#242424 55.6px,#1f2c1f 67.1px,#114111 69.1px,#0b4c0b 69.6px,#14aa14 71.6px,#17c317 72.6px,#16bf16 73.1px,#14ad14 73.6px,#0d6f0d 74.6px,#0a5b0a 75.6px,#094e09 78.1px,#0f7e0f 79.1px,#0f860f 79.6px,#0e7d0e 80.1px,#052b05 81.6px,#010a01 82.6px,#000000 84.6px,#000004 99.1px,#030321 103.1px,#000007 106.6px,#181820 107.1px,#1d1d29 107.6px,#28283f 108.1px,#26263c 108.6px,#1b1b27 109.1px,#181822 110.6px,#18182c 112.1px,#181847 113.1px,#18189b 114.6px,#1818ae 115.1px,#1c1cb2 115.6px,#1d1d9c 116.1px,#212156 117.1px,#23233d 117.6px,#242428 118.6px,#232328 120.6px,#222249 121.6px,#212162 122.1px,#202070 122.6px,#202068 123.1px,#23233a 124.1px,#242427 125.1px)"></i>
<i style="left:74.6px;width:2.3px;background:linear-gradient(180deg,#252525 0.6px,#242424 3.1px,#111111 4.1px,#242424 5.6px,#242424 10.1px,#111111 11.1px,#242424 12.6px,#252525 18.6px,#000000 19.1px,#090000 24.1px,#250102 26.1px,#4a0304 27.1px,#c3080b 29.1px,#d6080c 29.6px,#dc090c 30.1px,#cc080b 30.6px,#810507 31.6px,#670406 33.1px,#610405 34.1px,#680406 34.6px,#920608 35.1px,#a50609 35.6px,#860507 36.1px,#410203 36.6px,#130001 37.1px,#030000 37.6px,#000000 47.6px,#242524 48.1px,#202020 53.6px,#131313 54.1px,#151515 54.6px,#242424 55.6px,#202b20 67.1px,#133f13 69.1px,#0a590a 70.1px,#15b615 72.1px,#16c016 72.6px,#16bf16 73.1px,#15b115 73.6px,#0d750d 74.6px,#0b610b 75.1px,#0a4d0a 78.1px,#0e7d0e 79.1px,#108710 79.6px,#0f7e0f 80.1px,#021802 82.1px,#000400 83.1px,#000004 99.1px,#030323 103.1px,#000008 106.6px,#181820 107.1px,#1d1d29 107.6px,#28283f 108.1px,#26263c 108.6px,#1b1b27 109.1px,#181822 110.6px,#181834 112.6px,#181859 113.6px,#181894 114.6px,#1818aa 115.1px,#1c1cb1 115.6px,#1d1da0 116.1px,#232341 117.6px,#242429 118.6px,#232327 120.6px,#222246 121.6px,#202070 122.6px,#20206c 123.1px,#24242e 124.6px,#242427 125.1px)"></i>
<i style="left:76.6px;width:2.3px;background:linear-gradient(180deg,#252525 0.6px,#242424 3.1px,#111111 4.1px,#242424 5.6px,#242424 10.1px,#111111 11.1px,#242424 12.6px,#252525 18.6px,#000000 19.1px,#0b0000 24.6px,#210101 26.1px,#420203 27.1px,#ba070a 29.1px,#d0080c 29.6px,#da090c 30.1px,#d1080c 30.6px,#b2070a 31.1px,#860507 31.6px,#670406 33.1px,#610405 34.1px,#650405 34.6px,#900608 35.1px,#a50609 35.6px,#880507 36.1px,#430203 36.6px,#140001 37.1px,#030000 37.6px,#000000 47.6px,#242524 48.1px,#202020 53.6px,#131313 54.1px,#151515 54.6px,#242424 55.6px,#202b20 67.1px,#153c15 69.1px,#095209 70.1px,#14b014 72.1px,#16bf16 73.1px,#15b315 73.6px,#0b610b 75.1px,#094d09 77.6px,#0a4d0a 78.1px,#0e7c0e 79.1px,#108710 79.6px,#0f800f 80.1px,#021902 82.1px,#000400 83.1px,#000004 99.1px,#030325 103.1px,#000008 106.6px,#181820 107.1px,#1d1d29 107.6px,#28283f 108.1px,#26263c 108.6px,#1b1b27 109.1px,#181821 110.6px,#181831 112.6px,#181853 113.6px,#1818a5 115.1px,#1c1cb0 115.6px,#1c1ca3 116.1px,#222245 117.6px,#24242a 118.6px,#232326 120.6px,#232343 121.6px,#20206f 122.6px,#20206f 123.1px,#242430 124.6px,#242428 125.1px)"></i>
<i style="left:78.6px;width:2.3px;background:linear-gradient(180deg,#252525 0.6px,#242424 3.1px,#111111 4.1px,#242424 5.6px,#242424 10.1px,#111111 11.1px,#242424 12.6px,#252525 18.6px,#000000 19.1px,#0a0000 24.6px,#1d0101 26.1px,#3b0203 27.1px,#900608 28.6px,#c9080b 29.6px,#d6080c 30.1px,#d4080c 30.6px,#ba070a 31.1px,#910608 31.6px,#7a0507 32.1px,#630405 33.6px,#620405 34.6px,#8e0508 35.1px,#a40609 35.6px,#8b0508 36.1px,#460204 36.6px,#150001 37.1px,#030000 37.6px,#000000 47.6px,#242524 48.1px,#202020 53.6px,#131313 54.1px,#151515 54.6px,#242424 55.6px,#1f2c1f 67.6px,#114211 69.6px,#0a4c0a 70.1px,#14a914 72.1px,#16bd16 73.1px,#15b615 73.6px,#0f810f 74.6px,#0b610b 75.1px,#0a4d0a 77.6px,#0a4c0a 78.1px,#0e7b0e 79.1px,#108710 79.6px,#0f810f 80.1px,#031903 82.1px,#000400 83.1px,#000004 99.1px,#030326 103.1px,#000009 106.6px,#181820 107.1px,#1d1d29 107.6px,#28283f 108.1px,#26263c 108.6px,#1b1b27 109.1px,#181821 110.6px,#18182f 112.6px,#18184e 113.6px,#18189f 115.1px,#1818ab 115.6px,#1c1ca6 116.1px,#222249 117.6px,#24242b 118.6px,#232326 120.6px,#171723 121.1px,#232340 121.6px,#20206f 122.6px,#202071 123.1px,#242432 124.6px,#242428 125.1px)"></i>
<i style="left:80.6px;width:2.3px;background:linear-gradient(180deg,#252525 0.6px,#242424 3.1px,#111111 4.1px,#242424 5.6px,#242424 10.1px,#111111 11.1px,#242424 12.6px,#252525 18.6px,#000000 19.1px,#080000 24.6px,#240102 26.6px,#4a0304 27.6px,#c0080b 29.6px,#d2080c 30.1px,#d5080c 30.6px,#c2080b 31.1px,#7c0507 32.1px,#630405 33.6px,#5f0305 34.6px,#8b0508 35.1px,#a40609 35.6px,#8d0508 36.1px,#490304 36.6px,#170001 37.1px,#040000 37.6px,#000000 47.6px,#242524 48.1px,#202020 53.6px,#131313 54.1px,#151515 54.6px,#242424 55.6px,#202b20 67.6px,#133f13 69.6px,#0a5a0a 70.6px,#13a213 72.1px,#16ba16 73.1px,#15b715 73.6px,#13a413 74.1px,#0c660c 75.1px,#094e09 77.1px,#0a4c0a 78.1px,#0e790e 79.1px,#108810 79.6px,#0f830f 80.1px,#094e09 81.1px,#031a03 82.1px,#000400 83.1px,#000004 99.1px,#040428 103.1px,#01010e 106.1px,#000009 106.6px,#181820 107.1px,#1d1d29 107.6px,#28283f 108.1px,#26263c 108.6px,#1b1b26 109.1px,#181821 110.6px,#18182d 112.6px,#181849 113.6px,#181899 115.1px,#1818a8 115.6px,#1c1ca8 116.1px,#1e1e90 116.6px,#22224e 117.6px,#24242d 118.6px,#232325 120.6px,#181821 121.1px,#23233e 121.6px,#20206e 122.6px,#202073 123.1px,#242434 124.6px,#242429 125.1px)"></i>
<i style="left:82.6px;width:2.3px;background:linear-gradient(180deg,#252525 0.6px,#242424 3.1px,#111111 4.1px,#242424 5.6px,#242424 10.1px,#111111 11.1px,#242424 12.6px,#252525 18.6px,#000000 19.1px,#0b0000 25.1px,#200101 26.6px,#420203 27.6px,#b7070a 29.6px,#cc080b 30.1px,#d4080c 30.6px,#c8080b 31.1px,#7f0507 32.1px,#600405 34.1px,#5e0305 34.6px,#890508 35.1px,#a30609 35.6px,#8f0508 36.1px,#4c0304 36.6px,#180101 37.1px,#040000 37.6px,#000000 47.6px,#242524 48.1px,#202020 53.6px,#131313 54.1px,#151515 54.6px,#242424 55.6px,#202b20 67.6px,#153d15 69.6px,#095309 70.6px,#14ad14 72.6px,#15b715 73.1px,#15b715 73.6px,#14a814 74.1px,#0c6d0c 75.1px,#0a5c0a 75.6px,#0b4b0b 78.1px,#0a5b0a 78.6px,#0e780e 79.1px,#108810 79.6px,#0f840f 80.1px,#095009 81.1px,#031a03 82.1px,#000500 83.1px,#000005 99.1px,#04042a 103.1px,#020214 105.6px,#01010a 106.6px,#181820 107.1px,#1d1d29 107.6px,#28283f 108.1px,#26263c 108.6px,#1b1b26 109.1px,#181821 110.6px,#18182c 112.6px,#181844 113.6px,#181892 115.1px,#1818a4 115.6px,#1c1ca8 116.1px,#1d1d95 116.6px,#222254 117.6px,#23233c 118.1px,#242428 119.1px,#232325 120.6px,#181820 121.1px,#23233b 121.6px,#20206d 122.6px,#1f1f75 123.1px,#202066 123.6px,#232336 124.6px,#24242a 125.1px)"></i>
<i style="left:84.6px;width:2.3px;background:linear-gradient(180deg,#252525 0.6px,#242424 3.1px,#111111 4.1px,#242424 5.6px,#242424 10.1px,#111111 11.1px,#242424 12.6px,#252525 18.6px,#000000 19.1px,#090000 25.1px,#1c0101 26.6px,#3a0203 27.6px,#8e0508 29.1px,#c4080b 30.1px,#d1080c 30.6px,#cc080b 31.1px,#b0070a 31.6px,#870507 32.1px,#6c0406 33.1px,#5e0305 34.6px,#860507 35.1px,#a20609 35.6px,#910608 36.1px,#4f0304 36.6px,#190101 37.1px,#050000 37.6px,#000000 47.6px,#242524 48.1px,#202020 53.6px,#131313 54.1px,#151515 54.6px,#242424 55.6px,#1f2c1f 68.1px,#114211 70.1px,#0a4d0a 70.6px,#13a613 72.6px,#15b615 73.6px,#14ab14 74.1px,#0a5c0a 75.6px,#0b4b0b 78.1px,#0a590a 78.6px,#0e770e 79.1px,#108810 79.6px,#0f850f 80.1px,#095109 81.1px,#031b03 82.1px,#000500 83.1px,#000005 99.1px,#04042c 103.1px,#020215 105.6px,#01010a 106.6px,#181820 107.1px,#1d1d29 107.6px,#28283f 108.1px,#26263c 108.6px,#1b1b26 109.1px,#181821 110.6px,#18182a 112.6px,#181840 113.6px,#18189f 115.6px,#1c1ca8 116.1px,#1d1d99 116.6px,#232340 118.1px,#242429 119.1px,#232325 120.6px,#18181f 121.1px,#232339 121.6px,#20206b 122.6px,#1f1f76 123.1px,#20206a 123.6px,#232338 124.6px,#24242b 125.1px)"></i>
<i style="left:86.6px;width:2.3px;background:linear-gradient(180deg,#252525 0.6px,#242424 3.1px,#111111 4.1px,#242424 5.6px,#242424 10.1px,#111111 11.1px,#242424 12.6px,#252525 18.6px,#000000 19.1px,#080000 25.1px,#230102 27.1px,#480304 28.1px,#bc070a 30.1px,#cc080b 30.6px,#ce080c 31.1px,#b9070a 31.6px,#930608 32.1px,#780507 32.6px,#5e0305 34.6px,#a20609 35.6px,#930608 36.1px,#520304 36.6px,#1b0101 37.1px,#050000 37.6px,#000000 47.6px,#242524 48.1px,#202020 53.6px,#131313 54.1px,#151515 54.6px,#242424 55.6px,#202b20 68.1px,#134013 70.1px,#0a5b0a 71.1px,#13a013 72.6px,#15b415 73.6px,#14ad14 74.1px,#0e7a0e 75.1px,#0a5c0a 75.6px,#0b4b0b 78.1px,#0a560a 78.6px,#0d750d 79.1px,#108810 79.6px,#0f860f 80.1px,#0d720d 80.6px,#031b03 82.1px,#000500 83.1px,#000005 99.1px,#04042d 103.1px,#02021d 105.1px,#01010a 106.6px,#181820 107.1px,#1d1d29 107.6px,#28283f 108.1px,#26263c 108.6px,#1b1b26 109.1px,#181820 110.6px,#181830 113.1px,#18184e 114.1px,#18189a 115.6px,#1818a4 116.1px,#1d1d9c 116.6px,#222244 118.1px,#24242a 119.1px,#232324 120.6px,#18181e 121.1px,#232338 121.6px,#20206a 122.6px,#1f1f77 123.1px,#20206d 123.6px,#23233b 124.6px,#24242c 125.1px)"></i>
<i style="left:88.6px;width:2.3px;background:linear-gradient(180deg,#252525 0.6px,#242424 3.1px,#111111 4.1px,#242424 5.6px,#242424 10.1px,#111111 11.1px,#242424 12.6px,#252525 18.6px,#000000 19.1px,#070000 25.1px,#1f0101 27.1px,#400203 28.1px,#b2070a 30.1px,#c6080b 30.6px,#cd080b 31.1px,#c0080b 31.6px,#7b0507 32.6px,#5e0305 34.6px,#a10609 35.6px,#950608 36.1px,#1d0101 37.1px,#060000 37.6px,#000000 43.6px,#000000 47.6px,#242524 48.1px,#202020 53.6px,#131313 54.1px,#151515 54.6px,#242424 55.6px,#212b21 68.1px,#143d14 70.1px,#095309 71.1px,#129812 72.6px,#15b115 73.6px,#14af14 74.1px,#129d12 74.6px,#0b5f0b 75.6px,#0b4c0b 77.6px,#0b4a0b 78.1px,#0a540a 78.6px,#0d740d 79.1px,#108810 79.6px,#108710 80.1px,#0d730d 80.6px,#031c03 82.1px,#000500 83.1px,#000005 99.1px,#04042f 103.1px,#03031e 105.1px,#01010b 106.6px,#181820 107.1px,#1d1d29 107.6px,#28283f 108.1px,#26263c 108.6px,#1b1b26 109.1px,#181820 110.6px,#18182e 113.1px,#181849 114.1px,#181894 115.6px,#1818a1 116.1px,#1d1d9f 116.6px,#222249 118.1px,#24242b 119.1px,#232324 120.6px,#18181e 121.1px,#232336 121.6px,#202068 122.6px,#1f1f78 123.1px,#202070 123.6px,#23233d 124.6px,#24242d 125.1px)"></i>
<i style="left:90.6px;width:2.3px;background:linear-gradient(180deg,#252525 0.6px,#242424 3.1px,#111111 4.1px,#242424 5.6px,#242424 10.1px,#111111 11.1px,#242424 12.6px,#252525 18.6px,#000000 19.1px,#080000 25.6px,#1a0101 27.1px,#380203 28.1px,#8a0508 29.6px,#bf070b 30.6px,#ca080b 31.1px,#c5080b 31.6px,#a90709 32.1px,#7f0507 32.6px,#620405 34.1px,#5e0305 34.6px,#a00609 35.6px,#970608 36.1px,#1e0101 37.1px,#060000 37.6px,#000000 41.6px,#000000 47.6px,#242524 48.1px,#202020 53.6px,#131313 54.1px,#151515 54.6px,#242424 55.6px,#1f2c1f 68.6px,#114311 70.6px,#0a4d0a 71.1px,#13a313 73.1px,#14af14 74.1px,#13a113 74.6px,#0c660c 75.6px,#095109 76.6px,#0c4a0c 78.1px,#095209 78.6px,#0d720d 79.1px,#108810 79.6px,#108810 80.1px,#0d740d 80.6px,#031c03 82.1px,#000500 83.1px,#000006 99.1px,#040431 103.1px,#03031f 105.1px,#01010b 106.6px,#181820 107.1px,#1d1d29 107.6px,#28283f 108.1px,#26263b 108.6px,#1b1b26 109.1px,#181820 110.6px,#17172c 113.1px,#181844 114.1px,#18188d 115.6px,#18189d 116.1px,#1d1da0 116.6px,#1e1e8c 117.1px,#22224f 118.1px,#24242d 119.1px,#232324 120.6px,#18181d 121.1px,#232335 121.6px,#1f1f78 123.1px,#202073 123.6px,#232340 124.6px,#24242f 125.1px)"></i>
<i style="left:92.6px;width:2.3px;background:linear-gradient(180deg,#252525 0.6px,#242424 3.1px,#111111 4.1px,#242424 5.6px,#242424 10.1px,#111111 11.1px,#242424 12.6px,#252525 18.6px,#000000 19.1px,#070000 25.6px,#210101 27.6px,#450204 28.6px,#b6070a 30.6px,#c6080b 31.1px,#c7080b 31.6px,#b2070a 32.1px,#8c0508 32.6px,#750406 33.1px,#5e0305 34.6px,#9f0609 35.6px,#990608 36.1px,#200101 37.1px,#070000 37.6px,#000000 40.6px,#000000 47.6px,#242524 48.1px,#202020 53.6px,#131313 54.1px,#151515 54.6px,#242424 55.6px,#202b20 68.6px,#134013 70.6px,#0a5b0a 71.6px,#129c12 73.1px,#14ad14 74.1px,#13a413 74.6px,#0a570a 76.1px,#0c4a0c 78.1px,#095009 78.6px,#0d710d 79.1px,#108810 79.6px,#108910 80.1px,#0d750d 80.6px,#031c03 82.1px,#000500 83.1px,#000003 98.6px,#02021d 101.1px,#050533 103.1px,#030320 105.1px,#01010c 106.6px,#181820 107.1px,#1d1d29 107.6px,#28283f 108.1px,#26263b 108.6px,#1b1b26 109.1px,#181820 110.6px,#18182a 113.1px,#18183f 114.1px,#181898 116.1px,#1d1d9f 116.6px,#1e1e90 117.1px,#23233d 118.6px,#242428 119.6px,#232324 120.6px,#18181d 121.1px,#242433 121.6px,#1f1f79 123.1px,#1f1f75 123.6px,#242430 125.1px)"></i>
<i style="left:94.6px;width:2.3px;background:linear-gradient(180deg,#252525 0.6px,#242424 3.1px,#111111 4.1px,#242424 5.6px,#242424 10.1px,#111111 11.1px,#242424 12.6px,#252525 18.6px,#000000 19.1px,#090000 26.1px,#1d0101 27.6px,#3c0203 28.6px,#ac070a 30.6px,#c0080b 31.1px,#c7080b 31.6px,#ba070a 32.1px,#780507 33.1px,#5f0305 34.6px,#9e0609 35.6px,#9a0609 36.1px,#220102 37.1px,#070000 37.6px,#000000 39.6px,#000000 47.6px,#242524 48.1px,#202020 53.6px,#131313 54.1px,#151515 54.6px,#242424 55.6px,#212a21 68.6px,#143d14 70.6px,#095309 71.6px,#119511 73.1px,#14ab14 74.1px,#13a613 74.6px,#0d740d 75.6px,#0a580a 76.1px,#0c490c 78.1px,#094e09 78.6px,#108810 79.6px,#108a10 80.1px,#0e770e 80.6px,#031c03 82.1px,#000500 83.1px,#000003 98.6px,#03031e 101.1px,#050535 103.1px,#030321 105.1px,#01010c 106.6px,#181820 107.1px,#1d1d29 107.6px,#28283f 108.1px,#26263b 108.6px,#1b1b26 109.1px,#181820 110.6px,#181829 113.1px,#18183b 114.1px,#181893 116.1px,#18189c 116.6px,#1d1d94 117.1px,#232341 118.6px,#242429 119.6px,#232324 120.6px,#18181c 121.1px,#242432 121.6px,#1f1f79 123.1px,#1f1f78 123.6px,#242431 125.1px)"></i>
<i style="left:96.6px;width:2.3px;background:linear-gradient(180deg,#252525 0.6px,#242424 3.1px,#111111 4.1px,#242424 5.6px,#242424 10.1px,#111111 11.1px,#242424 12.6px,#252525 18.6px,#000000 19.1px,#080000 26.1px,#180101 27.6px,#340203 28.6px,#840507 30.1px,#b8070a 31.1px,#c4080b 31.6px,#bf070b 32.1px,#a30609 32.6px,#7b0507 33.1px,#600405 34.6px,#780507 35.1px,#9d0609 35.6px,#9c0609 36.1px,#240102 37.1px,#080000 37.6px,#000000 39.1px,#000000 47.6px,#242524 48.1px,#202020 53.6px,#131313 54.1px,#151515 54.6px,#242424 55.6px,#202c20 69.1px,#114211 71.1px,#0a4d0a 71.6px,#129f12 73.6px,#13a813 74.1px,#13a713 74.6px,#119611 75.1px,#0a5a0a 76.1px,#0c490c 78.1px,#0a4d0a 78.6px,#108810 79.6px,#108b10 80.1px,#0e780e 80.6px,#031d03 82.1px,#000400 83.1px,#000003 98.6px,#03031f 101.1px,#050536 103.1px,#030322 105.1px,#01010c 106.6px,#181820 107.1px,#1d1d29 107.6px,#28283f 108.1px,#26263b 108.6px,#1b1b26 109.1px,#181820 110.6px,#18182e 113.6px,#181847 114.6px,#18188d 116.1px,#181899 116.6px,#1d1d97 117.1px,#222246 118.6px,#24242b 119.6px,#232324 120.6px,#18181c 121.1px,#242431 121.6px,#1f1f79 123.1px,#1f1f7a 123.6px,#242432 125.1px)"></i>
<i style="left:98.6px;width:2.3px;background:linear-gradient(180deg,#252525 0.6px,#242424 3.1px,#111111 4.1px,#242424 5.6px,#242424 10.1px,#111111 11.1px,#242424 12.6px,#252525 18.6px,#000000 19.1px,#060000 26.1px,#1f0101 28.1px,#410203 29.1px,#af070a 31.1px,#bf070b 31.6px,#c1080b 32.1px,#ad070a 32.6px,#870507 33.1px,#730406 33.6px,#610405 34.6px,#750406 35.1px,#9c0609 35.6px,#9d0609 36.1px,#260102 37.1px,#080000 37.6px,#000000 39.1px,#000000 47.6px,#242524 48.1px,#202020 53.6px,#131313 54.1px,#151515 54.6px,#242424 55.6px,#202b20 69.1px,#133f13 71.1px,#0a590a 72.1px,#129812 73.6px,#13a613 74.6px,#129a12 75.1px,#0b610b 76.1px,#094e09 77.1px,#0a4c0a 78.6px,#108810 79.6px,#108b10 80.1px,#0e790e 80.6px,#031d03 82.1px,#000400 83.1px,#000004 98.6px,#030320 101.1px,#050538 103.1px,#030324 105.1px,#01010d 106.6px,#181820 107.1px,#1d1d29 107.6px,#28283f 108.1px,#26263b 108.6px,#1b1b26 109.1px,#18181f 110.6px,#18182c 113.6px,#181842 114.6px,#181886 116.1px,#181895 116.6px,#1d1d98 117.1px,#1e1e85 117.6px,#22224c 118.6px,#24242c 119.6px,#232324 120.6px,#18181c 121.1px,#242430 121.6px,#1f1f79 123.1px,#1f1f7b 123.6px,#242434 125.1px)"></i>
<i style="left:100.6px;width:2.3px;background:linear-gradient(180deg,#252525 0.6px,#242424 3.1px,#111111 4.1px,#242424 5.6px,#242424 10.1px,#111111 11.1px,#242424 12.6px,#252525 18.6px,#000000 19.1px,#080000 26.6px,#1a0101 28.1px,#380203 29.1px,#a50609 31.1px,#b9070a 31.6px,#c0080b 32.1px,#b5070a 32.6px,#760406 33.6px,#630405 34.6px,#730406 35.1px,#9b0609 35.6px,#9f0609 36.1px,#280102 37.1px,#090000 37.6px,#000000 38.6px,#000000 47.6px,#242524 48.1px,#202020 53.6px,#131313 54.1px,#151515 54.6px,#242424 55.6px,#212a21 69.1px,#153c15 71.1px,#095209 72.1px,#119211 73.6px,#13a513 74.6px,#129d12 75.1px,#095309 76.6px,#0b4b0b 78.6px,#108810 79.6px,#108c10 80.1px,#0e7a0e 80.6px,#031c03 82.1px,#000400 83.1px,#000004 98.6px,#030321 101.1px,#05053a 103.1px,#04042d 104.6px,#01010d 106.6px,#181820 107.1px,#1d1d29 107.6px,#28283f 108.1px,#26263b 108.6px,#1b1b26 109.1px,#18181f 110.6px,#18182a 113.6px,#18183e 114.6px,#181891 116.6px,#1d1d98 117.1px,#1e1e8a 117.6px,#23233b 119.1px,#242428 120.1px,#18181b 121.1px,#10101c 121.6px,#232342 122.1px,#1f1f79 123.1px,#1f1f7d 123.6px,#232335 125.1px)"></i>
<i style="left:102.6px;width:2.3px;background:linear-gradient(180deg,#252525 0.6px,#242424 3.1px,#111111 4.1px,#242424 5.6px,#242424 10.1px,#111111 11.1px,#242424 12.6px,#252525 18.6px,#000000 19.1px,#060000 26.6px,#210101 28.6px,#450204 29.6px,#b1070a 31.6px,#bd070b 32.1px,#ba070a 32.6px,#a00609 33.1px,#790507 33.6px,#650405 34.6px,#720406 35.1px,#9a0609 35.6px,#a00609 36.1px,#6a0406 36.6px,#2a0102 37.1px,#0a0000 37.6px,#000000 38.6px,#000000 47.6px,#242524 48.1px,#202020 53.6px,#131313 54.1px,#151515 54.6px,#242424 55.6px,#202c20 69.6px,#114211 71.6px,#0b600b 72.6px,#129a12 74.1px,#13a213 74.6px,#129f12 75.1px,#108c10 75.6px,#095309 76.6px,#0b4a0b 78.6px,#108810 79.6px,#108d10 80.1px,#0e7a0e 80.6px,#031c03 82.1px,#000400 83.1px,#000004 98.6px,#030322 101.1px,#06063c 103.1px,#04042f 104.6px,#01010e 106.6px,#181820 107.1px,#1d1d29 107.6px,#28283f 108.1px,#26263b 108.6px,#1b1b26 109.1px,#18181f 110.6px,#181829 113.6px,#181839 114.6px,#18188b 116.6px,#181893 117.1px,#1e1e8d 117.6px,#232340 119.1px,#242429 120.1px,#18181b 121.1px,#10101b 121.6px,#232341 122.1px,#1f1f78 123.1px,#1f1f7f 123.6px,#20206c 124.1px,#232336 125.1px)"></i>
<i style="left:104.6px;width:2.3px;background:linear-gradient(180deg,#252525 0.6px,#242424 3.1px,#111111 4.1px,#242424 5.6px,#242424 10.1px,#111111 11.1px,#242424 12.6px,#252525 18.6px,#000000 19.1px,#080000 27.1px,#1b0101 28.6px,#3b0203 29.6px,#a70609 31.6px,#b8070a 32.1px,#bc070a 32.6px,#aa0709 33.1px,#860507 33.6px,#710406 34.1px,#670406 34.6px,#700406 35.1px,#990608 35.6px,#a10609 36.1px,#6e0406 36.6px,#2d0102 37.1px,#0b0000 37.6px,#000000 38.6px,#000000 47.6px,#242524 48.1px,#202020 53.6px,#131313 54.1px,#151515 54.6px,#242424 55.6px,#202b20 69.6px,#133f13 71.6px,#0a570a 72.6px,#119411 74.1px,#129f12 75.1px,#119111 75.6px,#0a560a 76.6px,#0c490c 78.1px,#0c4a0c 78.6px,#108810 79.6px,#108e10 80.1px,#0e7b0e 80.6px,#031c03 82.1px,#000400 83.1px,#000004 98.6px,#030323 101.1px,#06063d 103.1px,#040430 104.6px,#01010e 106.6px,#181820 107.1px,#1d1d29 107.6px,#28283f 108.1px,#26263b 108.6px,#1b1b26 109.1px,#18181f 110.6px,#18182d 114.1px,#181844 115.1px,#181885 116.6px,#181891 117.1px,#1e1e90 117.6px,#222245 119.1px,#24242a 120.1px,#18181b 121.1px,#10101b 121.6px,#232340 122.1px,#1f1f78 123.1px,#1f1f80 123.6px,#20206e 124.1px,#232337 125.1px)"></i>
<i style="left:106.6px;width:2.3px;background:linear-gradient(180deg,#252525 0.6px,#242424 3.1px,#111111 4.1px,#242424 5.6px,#242424 10.1px,#111111 11.1px,#242424 12.6px,#252525 18.6px,#000000 19.1px,#070000 27.1px,#170001 28.6px,#320202 29.6px,#b1070a 32.1px,#ba070a 32.6px,#b1070a 33.1px,#740406 34.1px,#6a0406 34.6px,#6f0406 35.1px,#990608 35.6px,#a30609 36.1px,#710406 36.6px,#2f0102 37.1px,#0c0000 37.6px,#000000 38.6px,#000000 47.6px,#242524 48.1px,#202020 53.6px,#131313 54.1px,#151515 54.6px,#242424 55.6px,#212a21 69.6px,#0f440f 72.1px,#095009 72.6px,#108d10 74.1px,#129e12 75.1px,#119511 75.6px,#0b5e0b 76.6px,#094e09 77.1px,#0c490c 78.6px,#108810 79.6px,#108f10 80.1px,#0e7c0e 80.6px,#031c03 82.1px,#000400 83.1px,#000004 98.6px,#030324 101.1px,#06063f 103.1px,#040431 104.6px,#01010f 106.6px,#181820 107.1px,#1d1d29 107.6px,#28283f 108.1px,#26263b 108.6px,#1b1b26 109.1px,#18181f 110.6px,#18182b 114.1px,#18183f 115.1px,#18188d 117.1px,#1e1e91 117.6px,#1f1f80 118.1px,#22224a 119.1px,#24242c 120.1px,#18181b 121.1px,#10101b 121.6px,#232340 122.1px,#1f1f78 123.1px,#1f1f81 123.6px,#202070 124.1px,#232338 125.1px)"></i>
<i style="left:108.6px;width:2.3px;background:linear-gradient(180deg,#252525 0.6px,#242424 3.1px,#111111 4.1px,#242424 5.6px,#242424 10.1px,#111111 11.1px,#242424 12.6px,#252525 18.6px,#000000 19.1px,#050000 27.1px,#1d0101 29.1px,#3e0203 30.1px,#a80709 32.1px,#b6070a 32.6px,#b5070a 33.1px,#9e0609 33.6px,#780507 34.1px,#6d0406 34.6px,#6e0406 35.1px,#990608 35.6px,#a40609 36.1px,#750406 36.6px,#320202 37.1px,#0d0000 37.6px,#000000 38.6px,#000000 47.6px,#252525 48.1px,#202020 53.6px,#131313 54.1px,#151515 54.6px,#242424 55.6px,#202b20 70.1px,#124112 72.1px,#0b5d0b 73.1px,#119511 74.6px,#129b12 75.1px,#129712 75.6px,#094f09 77.1px,#0d480d 78.6px,#108810 79.6px,#118f11 80.1px,#0e7d0e 80.6px,#063706 81.6px,#031c03 82.1px,#000400 83.1px,#000004 98.6px,#030325 101.1px,#060641 103.1px,#050533 104.6px,#01010f 106.6px,#181820 107.1px,#1d1d29 107.6px,#28283f 108.1px,#26263b 108.6px,#1b1b26 109.1px,#18181f 110.6px,#181829 114.1px,#18183b 115.1px,#181888 117.1px,#1e1e90 117.6px,#1e1e84 118.1px,#23233b 119.6px,#232326 120.6px,#18181b 121.1px,#10101a 121.6px,#23233f 122.1px,#1f1f78 123.1px,#1f1f83 123.6px,#202072 124.1px,#232339 125.1px)"></i>
<i style="left:110.6px;width:2.3px;background:linear-gradient(180deg,#252525 0.6px,#242424 3.1px,#111111 4.1px,#242424 5.6px,#242424 10.1px,#111111 11.1px,#242424 12.6px,#252525 18.6px,#000000 19.1px,#070000 27.6px,#180101 29.1px,#350203 30.1px,#9d0609 32.1px,#b0070a 32.6px,#b6070a 33.1px,#a80709 33.6px,#860507 34.1px,#700406 34.6px,#6d0406 35.1px,#990608 35.6px,#a60609 36.1px,#780507 36.6px,#350203 37.1px,#0e0000 37.6px,#000000 38.6px,#000000 47.6px,#252525 48.1px,#202020 53.6px,#131313 54.1px,#151515 54.6px,#242424 55.6px,#212a21 70.1px,#143e14 72.1px,#0a550a 73.1px,#108f10 74.6px,#129812 75.6px,#108810 76.1px,#094f09 77.1px,#0d480d 78.6px,#108910 79.6px,#119011 80.1px,#0e7d0e 80.6px,#063706 81.6px,#031b03 82.1px,#000400 83.1px,#000004 98.6px,#02021c 100.6px,#060640 102.6px,#06063c 104.1px,#01010f 106.6px,#181820 107.1px,#1d1d29 107.6px,#28283f 108.1px,#26263b 108.6px,#1b1b26 109.1px,#18181f 110.6px,#181828 114.1px,#181846 115.6px,#181882 117.1px,#18188b 117.6px,#1e1e87 118.1px,#232340 119.6px,#232328 120.6px,#18181b 121.1px,#10101a 121.6px,#23233e 122.1px,#1f1f79 123.1px,#1e1e84 123.6px,#1f1f74 124.1px,#23233a 125.1px)"></i>
<i style="left:112.6px;width:2.3px;background:linear-gradient(180deg,#252525 0.6px,#242424 3.1px,#111111 4.1px,#242424 5.6px,#242424 10.1px,#111111 11.1px,#242424 12.6px,#252525 18.6px,#000000 19.1px,#050000 27.6px,#1e0101 29.6px,#400203 30.6px,#a80709 32.6px,#b3070a 33.1px,#ae070a 33.6px,#730406 34.6px,#6d0406 35.1px,#990608 35.6px,#a80709 36.1px,#7c0507 36.6px,#380203 37.1px,#0f0000 37.6px,#020000 38.1px,#000000 47.6px,#252525 48.1px,#202020 53.6px,#131313 54.1px,#151515 54.6px,#242424 55.6px,#212a21 70.1px,#104310 72.6px,#094d09 73.1px,#108810 74.6px,#129712 75.6px,#108d10 76.1px,#0a540a 77.1px,#0d470d 78.6px,#108910 79.6px,#119111 80.1px,#0f7e0f 80.6px,#063606 81.6px,#031b03 82.1px,#000300 83.1px,#000004 98.6px,#02021d 100.6px,#060641 102.6px,#06063e 104.1px,#010110 106.6px,#181820 107.1px,#1d1d29 107.6px,#28283f 108.1px,#26263b 108.6px,#1b1b26 109.1px,#18181f 110.6px,#18182c 114.6px,#181840 115.6px,#18187c 117.1px,#181888 117.6px,#1e1e89 118.1px,#242434 120.1px,#18181b 121.1px,#10101a 121.6px,#23233e 122.1px,#1f1f79 123.1px,#1e1e85 123.6px,#1f1f75 124.1px,#23233b 125.1px)"></i>
<i style="left:114.6px;width:2.3px;background:linear-gradient(180deg,#252525 0.6px,#242424 3.1px,#111111 4.1px,#242424 5.6px,#242424 10.1px,#111111 11.1px,#242424 12.6px,#252525 18.6px,#000000 19.1px,#070000 28.1px,#190101 29.6px,#360203 30.6px,#9e0609 32.6px,#ae070a 33.1px,#b1070a 33.6px,#9e0609 34.1px,#7b0507 34.6px,#6d0406 35.1px,#990608 35.6px,#aa0709 36.1px,#800507 36.6px,#3b0203 37.1px,#100000 37.6px,#030000 38.1px,#000000 47.6px,#252525 48.1px,#202020 53.6px,#131313 54.1px,#151515 54.6px,#242424 55.6px,#202b20 70.6px,#124012 72.6px,#0a5a0a 73.6px,#118f11 75.1px,#119511 75.6px,#119011 76.1px,#0a5c0a 77.1px,#0a4c0a 77.6px,#0e470e 78.6px,#108a10 79.6px,#119211 80.1px,#0f7f0f 80.6px,#063606 81.6px,#031a03 82.1px,#000300 83.1px,#000005 98.6px,#03031e 100.6px,#060643 102.6px,#06063f 104.1px,#010110 106.6px,#181820 107.1px,#1d1d29 107.6px,#28283f 108.1px,#26263b 108.6px,#1b1b26 109.1px,#18181f 110.6px,#18182a 114.6px,#18184c 116.1px,#181884 117.6px,#1e1e8a 118.1px,#1f1f7c 118.6px,#232337 120.1px,#18181b 121.1px,#10101a 121.6px,#23233e 122.1px,#1f1f79 123.1px,#1e1e86 123.6px,#1f1f77 124.1px,#23233c 125.1px)"></i>
<i style="left:116.6px;width:2.3px;background:linear-gradient(180deg,#252525 0.6px,#242424 3.1px,#111111 4.1px,#242424 5.6px,#242424 10.1px,#111111 11.1px,#242424 12.6px,#252525 18.6px,#000000 19.1px,#050000 28.1px,#1f0101 30.1px,#420203 31.1px,#a60609 33.1px,#af070a 33.6px,#a70609 34.1px,#6f0406 35.1px,#9a0608 35.6px,#ad070a 36.1px,#840507 36.6px,#3e0203 37.1px,#120001 37.6px,#030000 38.1px,#000000 47.6px,#252525 48.1px,#202020 53.6px,#131313 54.1px,#151515 54.6px,#242424 55.6px,#212a21 70.6px,#0f460f 73.1px,#0c660c 74.1px,#108910 75.1px,#119111 76.1px,#0f800f 76.6px,#0a4c0a 77.6px,#0e470e 78.6px,#108a10 79.6px,#119311 80.1px,#0f7f0f 80.6px,#063606 81.6px,#031a03 82.1px,#000300 83.1px,#000005 98.6px,#03031f 100.6px,#060645 102.6px,#060641 104.1px,#010111 106.6px,#181820 107.1px,#1d1d29 107.6px,#28283f 108.1px,#26263b 108.6px,#1b1b26 109.1px,#18181f 110.6px,#181828 114.6px,#181846 116.1px,#18187e 117.6px,#181885 118.1px,#1f1f80 118.6px,#23233c 120.1px,#18181c 121.1px,#101019 121.6px,#23233e 122.1px,#1f1f7a 123.1px,#1e1e87 123.6px,#1f1f78 124.1px,#23233c 125.1px)"></i>
<i style="left:118.6px;width:2.3px;background:linear-gradient(180deg,#252525 0.6px,#242424 3.1px,#111111 4.1px,#242424 5.6px,#242424 10.1px,#111111 11.1px,#242424 12.6px,#252525 18.6px,#000000 19.1px,#070000 28.6px,#190101 30.1px,#380203 31.1px,#9d0609 33.1px,#ab070a 33.6px,#ab070a 34.1px,#950608 34.6px,#720406 35.1px,#9a0609 35.6px,#af070a 36.1px,#890508 36.6px,#420203 37.1px,#140001 37.6px,#040000 38.1px,#000000 47.6px,#252525 48.1px,#202020 53.6px,#131313 54.1px,#151515 54.6px,#242424 55.6px,#202b20 71.1px,#114211 73.1px,#0b5e0b 74.1px,#108e10 75.6px,#119111 76.1px,#0f850f 76.6px,#0a4d0a 77.6px,#0e470e 78.6px,#108b10 79.6px,#119411 80.1px,#0f800f 80.6px,#063506 81.6px,#031903 82.1px,#000300 83.1px,#000005 98.6px,#03031f 100.6px,#070746 102.6px,#060643 104.1px,#010111 106.6px,#181820 107.1px,#1d1d29 107.6px,#28283f 108.1px,#26263b 108.6px,#1b1b26 109.1px,#18181f 110.6px,#181827 114.6px,#171741 116.1px,#181879 117.6px,#181882 118.1px,#1f1f82 118.6px,#232340 120.1px,#242432 120.6px,#18181d 121.1px,#101019 121.6px,#23233e 122.1px,#1f1f7a 123.1px,#1e1e88 123.6px,#1f1f79 124.1px,#23233d 125.1px)"></i>
<i style="left:120.6px;width:2.3px;background:linear-gradient(180deg,#252525 0.6px,#242424 3.1px,#111111 4.1px,#242424 5.6px,#242424 10.1px,#111111 11.1px,#242424 12.6px,#252525 18.6px,#000000 19.1px,#050000 28.6px,#1f0101 30.6px,#430203 31.6px,#920608 33.1px,#a40609 33.6px,#ab070a 34.1px,#9f0609 34.6px,#7f0507 35.1px,#b2070a 36.1px,#8e0508 36.6px,#470204 37.1px,#160001 37.6px,#040000 38.1px,#000000 47.6px,#252525 48.1px,#202020 53.6px,#131313 54.1px,#151515 54.6px,#242424 55.6px,#212a21 71.1px,#0d480d 73.6px,#108910 75.6px,#108f10 76.1px,#108810 76.6px,#095409 77.6px,#0d470d 78.6px,#108c10 79.6px,#119511 80.1px,#0f800f 80.6px,#063506 81.6px,#031903 82.1px,#000300 83.1px,#000005 98.6px,#030320 100.6px,#070748 102.6px,#060644 104.1px,#010111 106.6px,#181820 107.1px,#1d1d29 107.6px,#28283f 108.1px,#26263b 108.6px,#1b1b26 109.1px,#18181f 110.6px,#18182a 115.1px,#18184c 116.6px,#18187f 118.1px,#1e1e83 118.6px,#21215d 119.6px,#232335 120.6px,#18181f 121.1px,#101019 121.6px,#23233e 122.1px,#1f1f7b 123.1px,#1e1e89 123.6px,#1f1f7b 124.1px,#23233d 125.1px)"></i>
<i style="left:122.6px;width:2.3px;background:linear-gradient(180deg,#252525 0.6px,#242424 3.1px,#111111 4.1px,#242424 5.6px,#242424 10.1px,#111111 11.1px,#242424 12.6px,#252525 18.6px,#000000 19.1px,#070000 29.1px,#190101 30.6px,#380203 31.6px,#9c0609 33.6px,#a80709 34.1px,#a50609 34.6px,#8c0508 35.1px,#9c0609 35.6px,#b5070a 36.1px,#940608 36.6px,#4b0304 37.1px,#180101 37.6px,#050000 38.1px,#000000 47.6px,#252525 48.1px,#202020 53.6px,#131313 54.1px,#151515 54.6px,#242424 55.6px,#212a21 71.1px,#104410 73.6px,#0b620b 74.6px,#0f830f 75.6px,#108a10 76.6px,#0e780e 77.1px,#0a5b0a 77.6px,#0c4a0c 78.1px,#0d470d 78.6px,#108d10 79.6px,#119711 80.1px,#0f810f 80.6px,#063406 81.6px,#021802 82.1px,#000300 83.1px,#000005 98.6px,#030321 100.6px,#07074a 102.6px,#070746 104.1px,#010112 106.6px,#181820 107.1px,#1d1d29 107.6px,#28283f 108.1px,#26263b 108.6px,#1b1b26 109.1px,#18181f 110.6px,#181829 115.1px,#181846 116.6px,#18187a 118.1px,#1f1f82 118.6px,#1f1f79 119.1px,#232339 120.6px,#181821 121.1px,#10101a 121.6px,#23233e 122.1px,#1f1f7c 123.1px,#1e1e8a 123.6px,#1f1f7c 124.1px,#23233e 125.1px)"></i>
<i style="left:124.6px;width:0.9px;background:linear-gradient(180deg,#252525 0.6px,#242424 3.1px,#111111 4.1px,#242424 5.6px,#242424 10.1px,#111111 11.1px,#242424 12.6px,#252525 18.6px,#000000 19.1px,#060000 29.1px,#160001 30.6px,#320202 31.6px,#950608 33.6px,#a40609 34.1px,#a70609 34.6px,#940608 35.1px,#9c0609 35.6px,#b7070a 36.1px,#970608 36.6px,#4f0304 37.1px,#1a0101 37.6px,#060000 38.1px,#000000 44.1px,#000000 47.6px,#252525 48.1px,#202020 53.6px,#131313 54.1px,#151515 54.6px,#242424 55.6px,#202b20 71.6px,#0b4b0b 74.1px,#0f7f0f 75.6px,#108a10 76.6px,#0e7c0e 77.1px,#0b4a0b 78.1px,#0d480d 78.6px,#108e10 79.6px,#129812 80.1px,#0f820f 80.6px,#063406 81.6px,#021802 82.1px,#000200 83.1px,#000005 98.6px,#030321 100.6px,#07074b 102.6px,#070747 104.1px,#010112 106.6px,#181820 107.1px,#1d1d29 107.6px,#28283f 108.1px,#26263b 108.6px,#1b1b26 109.1px,#18181f 110.6px,#181828 115.1px,#171742 116.6px,#181876 118.1px,#18187e 118.6px,#1f1f7b 119.1px,#23233c 120.6px,#171723 121.1px,#10101a 121.6px,#23233e 122.1px,#1f1f7c 123.1px,#1e1e8b 123.6px,#1f1f7c 124.1px,#23233e 125.1px)"></i>
<b style="left:8.3px;width:14.7px"></b>
<b style="left:53.3px;width:29.5px"></b>
<b style="left:112.0px;width:11.0px"></b>
</div>
<svg width="685" height="300" viewBox="0 0 685 300">
<defs><filter id="bl" x="-30%" y="-30%" width="160%" height="160%"><feGaussianBlur stdDeviation="1.6"/></filter><radialGradient id="gp" cx="0.5" cy="0.5" r="0.75"><stop offset="0" stop-color="#6a6aa0"/><stop offset="0.55" stop-color="#62629c"/><stop offset="1" stop-color="#505094"/></radialGradient><radialGradient id="ge" cx="0.5" cy="0.5" r="0.5"><stop offset="0" stop-color="#a6aea4"/><stop offset="0.8" stop-color="#a0a89f"/><stop offset="1" stop-color="#949c96"/></radialGradient><clipPath id="cp0"><rect x="498.7" y="10.7" width="37.9" height="65.1"/></clipPath><clipPath id="cp1"><rect x="540.5" y="10.7" width="38.4" height="65.1"/></clipPath><clipPath id="cp2"><rect x="582.6" y="10.7" width="38.7" height="65.1"/></clipPath><clipPath id="cp3"><rect x="625.0" y="10.7" width="38.7" height="65.1"/></clipPath><linearGradient id="cr" x1="0" y1="0" x2="0" y2="1"><stop offset="0" stop-color="#f02020"/><stop offset="0.25" stop-color="#c81414"/><stop offset="1" stop-color="#000"/></linearGradient><linearGradient id="cg" x1="0" y1="0" x2="0" y2="1"><stop offset="0" stop-color="#08f224"/><stop offset="0.3" stop-color="#1cc028"/><stop offset="1" stop-color="#000"/></linearGradient><linearGradient id="cb" x1="0" y1="0" x2="0" y2="1"><stop offset="0" stop-color="#0808f0"/><stop offset="0.3" stop-color="#1010b8"/><stop offset="1" stop-color="#2c2c2c"/></linearGradient></defs>
<g font-size="10" fill="#000">
<path d="M50.5,43.1 50.8,43.2 51.1,43.3 51.4,43.4 51.7,43.6 52.0,43.7 52.3,43.9 52.6,44.1 52.9,44.2 53.2,44.3 53.5,44.4 53.8,44.5 54.1,44.5 54.4,44.6 54.7,44.7 55.0,44.7 55.3,44.7 55.6,44.7 55.9,44.8 56.2,44.8 56.5,44.8 56.8,44.8 57.1,44.8 57.4,44.9 57.7,44.9 58.0,44.9 58.3,44.9 58.6,44.9 58.9,44.9 59.2,44.9 59.5,44.9 59.8,44.9 60.1,44.9 60.4,44.9 60.7,44.9 61.0,44.9 61.3,44.9 61.6,44.9 61.9,44.9 62.2,44.9 62.5,44.9 62.8,44.9 63.1,44.9 63.4,44.9 63.7,44.9 64.0,44.9 64.3,44.9 64.6,44.9 64.9,44.9 65.2,44.9 65.5,44.9 65.8,44.9 66.1,44.9 66.4,44.9 66.7,44.9 67.0,44.9 67.3,44.9 67.6,44.9 67.9,44.9 68.2,44.9 68.5,44.9 68.8,44.9 69.1,44.8 69.4,44.7 69.7,44.7 70.0,44.6 70.3,44.5 70.6,44.4 70.9,44.2 71.2,43.9 71.5,43.6 71.8,43.1 72.1,42.0 72.4,40.2 72.7,37.9 73.0,34.3 73.3,28.8 73.6,25.1 73.9,22.9 74.2,23.7 74.5,27.4 74.8,31.2 75.1,35.2 75.4,36.1 75.7,33.4 76.0,29.7 76.3,25.7 76.6,21.2 76.9,17.4 77.2,14.0 77.5,11.6 77.8,10.3 78.1,9.5 78.4,9.8 78.7,11.4 79.0,13.6 79.3,17.3 79.6,21.2 79.9,24.5 80.2,27.6 80.5,30.4 80.8,33.0 81.1,35.3 81.4,37.2 81.7,38.7 82.0,40.0 82.3,41.0 82.6,41.7 82.9,42.3 83.2,42.8 83.5,43.2 83.8,43.5 84.1,43.7 84.4,43.9 84.7,44.1 85.0,44.3 85.3,44.4 85.6,44.5 85.9,44.6 86.2,44.6 86.5,44.7 86.8,44.7 87.1,44.7 87.4,44.8 87.7,44.8 88.0,44.8 88.3,44.9 88.6,44.9 88.9,44.9 89.2,44.9 89.5,44.9 89.8,44.9 90.1,44.9 90.4,44.9 90.7,44.9 91.0,44.9 91.3,44.9 91.6,44.9 91.9,44.9 92.2,44.9 92.5,44.9 92.8,44.9 93.1,44.9 93.4,44.9 93.7,44.9 94.0,44.9 94.3,44.9 94.6,44.9 94.9,44.9 95.2,44.9 95.5,44.9 95.8,44.9 96.1,44.9 96.4,44.9 96.7,44.9 97.0,44.9 97.3,44.9 97.6,44.9 97.9,44.9 98.2,44.9 98.5,44.9 98.8,44.9 99.1,44.9 99.4,44.9 99.7,44.9 100.0,44.9 100.3,44.9 100.6,44.9 100.9,44.9 101.2,44.9 101.5,44.9 101.8,44.9 102.1,44.9 102.4,44.9 102.7,44.9 103.0,44.9 103.3,44.9 103.6,44.9 103.9,44.9 104.2,44.9 104.5,44.9 104.8,44.9 105.1,44.9 105.4,44.9 105.7,44.9 106.0,44.9 106.3,44.9 106.6,44.9 106.9,44.9 107.2,44.9 107.5,44.9 107.8,44.9 108.1,44.9 108.4,44.9 108.7,44.9 109.0,44.9 109.3,44.9 109.6,44.9 109.9,44.9 110.2,44.9 110.5,44.9 110.8,44.9 111.1,44.9 111.4,44.9 111.7,44.9 112.0,44.9 112.3,44.9 112.6,44.9 112.9,44.9 113.2,44.9 113.5,44.9 113.8,44.9 114.1,44.9 114.4,44.9 114.7,44.9 115.0,44.9 115.3,44.9 115.6,44.9 115.9,44.9 116.2,44.9 116.5,44.9 116.8,44.9 117.1,44.9 117.4,44.9 117.7,44.9 118.0,44.9 118.3,44.9 118.6,44.9 118.9,44.9 119.2,44.9 119.5,44.9 119.8,44.9 120.1,44.9 120.4,44.9 120.7,44.9 121.0,44.9 121.3,44.9 121.6,44.9 121.9,44.9 122.2,44.9 122.5,44.9 122.8,44.9 123.1,44.9 123.4,44.9 123.7,44.9 124.0,44.9 124.3,44.9 124.6,44.9 124.9,44.9 125.2,44.9 125.5,44.9 125.8,44.9 126.1,44.9 126.4,44.9 126.7,44.9 127.0,44.9 127.3,44.9 127.6,44.9 127.9,44.9 128.2,44.9 128.5,44.9 128.8,44.9 129.1,44.9 129.4,44.9 129.7,44.9 130.0,44.9 130.3,44.9 130.6,44.9 130.9,44.9 131.2,44.9 131.5,44.9 131.8,44.9 132.1,44.9 132.4,44.9 132.7,44.9 133.0,44.9 133.3,44.9 133.6,44.9 133.9,44.9 134.2,44.9 134.5,44.9 134.8,44.9 135.1,44.9 135.4,44.9 135.7,44.9 136.0,44.9 136.3,44.9 136.6,44.9 136.9,44.9 137.2,44.9 137.5,44.9 137.8,44.9 138.1,44.9 138.4,44.9 138.7,44.9 139.0,44.9 139.3,44.9 139.6,44.9 139.9,44.9 140.2,44.9 140.5,44.9 140.8,44.9 141.1,44.9 141.4,44.9 141.7,44.9 142.0,44.9 142.3,44.9 142.6,44.9 142.9,44.9 143.2,44.9 143.5,44.9 143.8,44.9 144.1,44.9 144.4,44.9 144.7,44.9 145.0,44.9 145.3,44.9 145.6,44.9 145.9,44.9 146.2,44.9 146.5,44.9 146.8,44.9 147.1,44.9 147.4,44.9 147.7,44.9 148.0,44.9 148.3,44.9 148.6,44.9 148.9,44.9 149.2,44.9 149.5,44.9 149.8,44.9 150.1,44.9 150.4,44.9 150.7,44.9 151.0,44.9 151.3,44.9 151.6,44.9 151.9,44.9 152.2,44.9 152.5,44.9 152.8,44.9 153.1,44.9 153.4,44.9 153.7,44.9 154.0,44.9 154.3,44.9 154.6,44.9 154.9,44.9 155.2,44.9 155.5,44.9 155.8,44.9 156.1,44.9 156.4,44.9 156.7,44.9 157.0,44.9 157.3,44.9 157.6,44.9 157.9,44.9 158.2,44.9 158.5,44.9 158.8,44.9 159.1,44.9 159.4,44.9 159.7,44.9 160.0,44.9 160.3,44.9 160.6,44.9 160.9,44.9 161.2,44.9 161.5,44.9 161.8,44.9 162.1,44.9 162.4,44.9 162.7,44.9 163.0,44.9 163.3,44.9 163.6,44.9 163.9,44.9 164.2,44.9 164.5,44.9 164.8,44.9 165.1,44.9 165.4,44.9 165.7,44.9 166.0,44.9 166.3,44.9 166.6,44.9 166.9,44.9 167.2,44.9 167.5,44.9 167.8,44.9 168.1,44.9 168.4,44.9 168.7,44.9 169.0,44.9 169.3,44.9 169.6,44.9 169.9,44.9 170.2,44.9 170.5,44.9 170.8,44.9 171.1,44.9 171.4,44.9 171.7,44.9 172.0,44.9 172.3,44.9 172.6,44.9 172.9,44.9 173.2,44.9 173.5,44.9 173.8,44.9 174.1,44.9 174.4,44.9" fill="none" stroke="#7a10f0" stroke-width="1.7" stroke-linejoin="round"/>
<path d="M50.5,80.3 50.8,80.5 51.1,80.6 51.4,80.7 51.7,80.8 52.0,80.9 52.3,81.0 52.6,81.1 52.9,81.2 53.2,81.3 53.5,81.3 53.8,81.4 54.1,81.4 54.4,81.5 54.7,81.5 55.0,81.6 55.3,81.6 55.6,81.6 55.9,81.6 56.2,81.7 56.5,81.7 56.8,81.7 57.1,81.7 57.4,81.7 57.7,81.7 58.0,81.7 58.3,81.7 58.6,81.7 58.9,81.7 59.2,81.7 59.5,81.7 59.8,81.7 60.1,81.7 60.4,81.7 60.7,81.7 61.0,81.7 61.3,81.7 61.6,81.7 61.9,81.8 62.2,81.8 62.5,81.8 62.8,81.8 63.1,81.8 63.4,81.8 63.7,81.8 64.0,81.8 64.3,81.8 64.6,81.8 64.9,81.8 65.2,81.8 65.5,81.8 65.8,81.8 66.1,81.8 66.4,81.7 66.7,81.7 67.0,81.6 67.3,81.5 67.6,81.5 67.9,81.4 68.2,81.4 68.5,81.5 68.8,81.5 69.1,81.6 69.4,81.7 69.7,81.7 70.0,81.8 70.3,81.8 70.6,81.7 70.9,81.7 71.2,81.7 71.5,81.7 71.8,81.6 72.1,81.6 72.4,81.5 72.7,81.5 73.0,81.4 73.3,81.3 73.6,81.2 73.9,81.0 74.2,80.8 74.5,80.5 74.8,80.1 75.1,79.6 75.4,78.7 75.7,77.6 76.0,76.3 76.3,74.8 76.6,72.6 76.9,69.9 77.2,67.3 77.5,64.9 77.8,62.4 78.1,60.7 78.4,61.1 78.7,62.9 79.0,65.6 79.3,68.8 79.6,67.8 79.9,63.2 80.2,58.8 80.5,54.1 80.8,50.7 81.1,48.5 81.4,47.0 81.7,46.7 82.0,48.1 82.3,50.3 82.6,52.9 82.9,56.7 83.2,60.6 83.5,63.8 83.8,66.8 84.1,69.4 84.4,71.6 84.7,73.5 85.0,75.2 85.3,76.5 85.6,77.5 85.9,78.3 86.2,78.9 86.5,79.5 86.8,79.9 87.1,80.2 87.4,80.5 87.7,80.8 88.0,81.0 88.3,81.2 88.6,81.3 88.9,81.4 89.2,81.5 89.5,81.5 89.8,81.5 90.1,81.6 90.4,81.6 90.7,81.7 91.0,81.7 91.3,81.7 91.6,81.7 91.9,81.7 92.2,81.8 92.5,81.8 92.8,81.8 93.1,81.8 93.4,81.8 93.7,81.8 94.0,81.8 94.3,81.8 94.6,81.8 94.9,81.8 95.2,81.8 95.5,81.8 95.8,81.8 96.1,81.8 96.4,81.8 96.7,81.8 97.0,81.8 97.3,81.8 97.6,81.8 97.9,81.8 98.2,81.8 98.5,81.8 98.8,81.8 99.1,81.8 99.4,81.8 99.7,81.8 100.0,81.8 100.3,81.8 100.6,81.8 100.9,81.8 101.2,81.8 101.5,81.8 101.8,81.8 102.1,81.8 102.4,81.8 102.7,81.8 103.0,81.8 103.3,81.8 103.6,81.8 103.9,81.8 104.2,81.8 104.5,81.8 104.8,81.8 105.1,81.8 105.4,81.8 105.7,81.8 106.0,81.8 106.3,81.8 106.6,81.8 106.9,81.8 107.2,81.8 107.5,81.8 107.8,81.8 108.1,81.8 108.4,81.8 108.7,81.8 109.0,81.8 109.3,81.8 109.6,81.8 109.9,81.8 110.2,81.8 110.5,81.8 110.8,81.8 111.1,81.8 111.4,81.8 111.7,81.8 112.0,81.8 112.3,81.8 112.6,81.8 112.9,81.8 113.2,81.8 113.5,81.8 113.8,81.8 114.1,81.8 114.4,81.8 114.7,81.8 115.0,81.8 115.3,81.8 115.6,81.8 115.9,81.8 116.2,81.8 116.5,81.8 116.8,81.8 117.1,81.8 117.4,81.8 117.7,81.8 118.0,81.8 118.3,81.8 118.6,81.8 118.9,81.8 119.2,81.8 119.5,81.8 119.8,81.8 120.1,81.8 120.4,81.8 120.7,81.8 121.0,81.8 121.3,81.8 121.6,81.8 121.9,81.8 122.2,81.8 122.5,81.8 122.8,81.8 123.1,81.8 123.4,81.8 123.7,81.8 124.0,81.8 124.3,81.8 124.6,81.8 124.9,81.8 125.2,81.8 125.5,81.8 125.8,81.8 126.1,81.8 126.4,81.8 126.7,81.8 127.0,81.8 127.3,81.8 127.6,81.8 127.9,81.8 128.2,81.8 128.5,81.8 128.8,81.8 129.1,81.8 129.4,81.8 129.7,81.8 130.0,81.8 130.3,81.8 130.6,81.8 130.9,81.8 131.2,81.8 131.5,81.8 131.8,81.8 132.1,81.8 132.4,81.8 132.7,81.8 133.0,81.8 133.3,81.8 133.6,81.8 133.9,81.8 134.2,81.8 134.5,81.8 134.8,81.8 135.1,81.8 135.4,81.8 135.7,81.8 136.0,81.8 136.3,81.8 136.6,81.8 136.9,81.8 137.2,81.8 137.5,81.8 137.8,81.8 138.1,81.8 138.4,81.8 138.7,81.8 139.0,81.8 139.3,81.8 139.6,81.8 139.9,81.8 140.2,81.8 140.5,81.8 140.8,81.8 141.1,81.8 141.4,81.8 141.7,81.8 142.0,81.8 142.3,81.8 142.6,81.8 142.9,81.8 143.2,81.8 143.5,81.8 143.8,81.8 144.1,81.8 144.4,81.8 144.7,81.8 145.0,81.8 145.3,81.8 145.6,81.8 145.9,81.8 146.2,81.8 146.5,81.8 146.8,81.8 147.1,81.8 147.4,81.8 147.7,81.8 148.0,81.8 148.3,81.8 148.6,81.8 148.9,81.8 149.2,81.8 149.5,81.8 149.8,81.8 150.1,81.8 150.4,81.8 150.7,81.8 151.0,81.8 151.3,81.8 151.6,81.8 151.9,81.8 152.2,81.8 152.5,81.8 152.8,81.8 153.1,81.8 153.4,81.8 153.7,81.8 154.0,81.8 154.3,81.8 154.6,81.8 154.9,81.8 155.2,81.8 155.5,81.8 155.8,81.8 156.1,81.8 156.4,81.8 156.7,81.8 157.0,81.8 157.3,81.8 157.6,81.8 157.9,81.8 158.2,81.8 158.5,81.8 158.8,81.8 159.1,81.8 159.4,81.8 159.7,81.8 160.0,81.8 160.3,81.8 160.6,81.8 160.9,81.8 161.2,81.8 161.5,81.8 161.8,81.8 162.1,81.8 162.4,81.8 162.7,81.8 163.0,81.8 163.3,81.8 163.6,81.8 163.9,81.8 164.2,81.8 164.5,81.8 164.8,81.8 165.1,81.8 165.4,81.8 165.7,81.8 166.0,81.8 166.3,81.8 166.6,81.8 166.9,81.8 167.2,81.8 167.5,81.8 167.8,81.8 168.1,81.8 168.4,81.8 168.7,81.8 169.0,81.8 169.3,81.8 169.6,81.8 169.9,81.8 170.2,81.8 170.5,81.8 170.8,81.8 171.1,81.8 171.4,81.8 171.7,81.8 172.0,81.8 172.3,81.8 172.6,81.8 172.9,81.8 173.2,81.8 173.5,81.8 173.8,81.8 174.1,81.8 174.4,81.8" fill="none" stroke="#0a20c8" stroke-width="1.7" stroke-linejoin="round"/>
<path d="M50.5,115.7 50.8,115.8 51.1,115.9 51.4,116.0 51.7,116.1 52.0,116.2 52.3,116.4 52.6,116.5 52.9,116.6 53.2,116.7 53.5,116.8 53.8,116.9 54.1,117.1 54.4,117.2 54.7,117.3 55.0,117.4 55.3,117.4 55.6,117.5 55.9,117.6 56.2,117.7 56.5,117.8 56.8,117.9 57.1,117.9 57.4,118.0 57.7,118.1 58.0,118.1 58.3,118.1 58.6,118.2 58.9,118.2 59.2,118.2 59.5,118.3 59.8,118.3 60.1,118.3 60.4,118.3 60.7,118.4 61.0,118.4 61.3,118.4 61.6,118.4 61.9,118.4 62.2,118.4 62.5,118.5 62.8,118.5 63.1,118.5 63.4,118.5 63.7,118.5 64.0,118.5 64.3,118.5 64.6,118.5 64.9,118.5 65.2,118.5 65.5,118.5 65.8,118.5 66.1,118.5 66.4,118.5 66.7,118.5 67.0,118.5 67.3,118.5 67.6,118.5 67.9,118.5 68.2,118.5 68.5,118.5 68.8,118.5 69.1,118.5 69.4,118.5 69.7,118.5 70.0,118.5 70.3,118.5 70.6,118.5 70.9,118.5 71.2,118.5 71.5,118.5 71.8,118.5 72.1,118.5 72.4,118.5 72.7,118.5 73.0,118.5 73.3,118.5 73.6,118.5 73.9,118.5 74.2,118.5 74.5,118.5 74.8,118.5 75.1,118.5 75.4,118.5 75.7,118.4 76.0,118.4 76.3,118.4 76.6,118.4 76.9,118.4 77.2,118.3 77.5,118.3 77.8,118.3 78.1,118.2 78.4,118.2 78.7,118.1 79.0,118.1 79.3,118.0 79.6,118.0 79.9,117.9 80.2,117.9 80.5,117.8 80.8,117.7 81.1,117.5 81.4,117.4 81.7,117.2 82.0,117.0 82.3,116.8 82.6,116.5 82.9,116.1 83.2,115.6 83.5,114.8 83.8,114.0 84.1,112.9 84.4,111.1 84.7,108.6 85.0,105.9 85.3,103.1 85.6,99.4 85.9,95.6 86.2,93.2 86.5,93.8 86.8,96.6 87.1,99.5 87.4,102.3 87.7,101.8 88.0,98.8 88.3,95.7 88.6,92.2 88.9,88.8 89.2,86.4 89.5,85.0 89.8,83.9 90.1,83.5 90.4,84.2 90.7,85.8 91.0,87.9 91.3,90.5 91.6,94.0 91.9,97.5 92.2,100.6 92.5,103.6 92.8,106.3 93.1,108.4 93.4,110.2 93.7,111.8 94.0,113.0 94.3,113.9 94.6,114.7 94.9,115.3 95.2,115.9 95.5,116.2 95.8,116.6 96.1,116.9 96.4,117.1 96.7,117.3 97.0,117.5 97.3,117.7 97.6,117.8 97.9,117.8 98.2,117.9 98.5,118.0 98.8,118.1 99.1,118.1 99.4,118.2 99.7,118.3 100.0,118.3 100.3,118.3 100.6,118.4 100.9,118.4 101.2,118.4 101.5,118.4 101.8,118.4 102.1,118.4 102.4,118.4 102.7,118.5 103.0,118.5 103.3,118.5 103.6,118.5 103.9,118.5 104.2,118.5 104.5,118.5 104.8,118.5 105.1,118.5 105.4,118.5 105.7,118.5 106.0,118.5 106.3,118.5 106.6,118.5 106.9,118.5 107.2,118.6 107.5,118.6 107.8,118.6 108.1,118.6 108.4,118.6 108.7,118.6 109.0,118.6 109.3,118.6 109.6,118.6 109.9,118.6 110.2,118.6 110.5,118.6 110.8,118.6 111.1,118.6 111.4,118.6 111.7,118.6 112.0,118.6 112.3,118.6 112.6,118.6 112.9,118.6 113.2,118.6 113.5,118.6 113.8,118.6 114.1,118.6 114.4,118.6 114.7,118.6 115.0,118.6 115.3,118.6 115.6,118.6 115.9,118.6 116.2,118.6 116.5,118.6 116.8,118.6 117.1,118.6 117.4,118.6 117.7,118.6 118.0,118.6 118.3,118.6 118.6,118.6 118.9,118.6 119.2,118.6 119.5,118.6 119.8,118.6 120.1,118.6 120.4,118.6 120.7,118.6 121.0,118.6 121.3,118.6 121.6,118.6 121.9,118.6 122.2,118.6 122.5,118.6 122.8,118.6 123.1,118.6 123.4,118.6 123.7,118.6 124.0,118.6 124.3,118.6 124.6,118.6 124.9,118.6 125.2,118.6 125.5,118.6 125.8,118.6 126.1,118.6 126.4,118.6 126.7,118.6 127.0,118.6 127.3,118.6 127.6,118.6 127.9,118.6 128.2,118.6 128.5,118.6 128.8,118.6 129.1,118.6 129.4,118.6 129.7,118.6 130.0,118.6 130.3,118.6 130.6,118.6 130.9,118.6 131.2,118.6 131.5,118.6 131.8,118.6 132.1,118.6 132.4,118.6 132.7,118.6 133.0,118.6 133.3,118.6 133.6,118.6 133.9,118.6 134.2,118.6 134.5,118.6 134.8,118.6 135.1,118.6 135.4,118.6 135.7,118.6 136.0,118.6 136.3,118.6 136.6,118.6 136.9,118.6 137.2,118.6 137.5,118.6 137.8,118.6 138.1,118.6 138.4,118.6 138.7,118.6 139.0,118.6 139.3,118.6 139.6,118.6 139.9,118.6 140.2,118.6 140.5,118.6 140.8,118.6 141.1,118.6 141.4,118.6 141.7,118.6 142.0,118.6 142.3,118.6 142.6,118.6 142.9,118.6 143.2,118.6 143.5,118.6 143.8,118.6 144.1,118.6 144.4,118.6 144.7,118.6 145.0,118.6 145.3,118.6 145.6,118.6 145.9,118.6 146.2,118.6 146.5,118.6 146.8,118.6 147.1,118.6 147.4,118.6 147.7,118.6 148.0,118.6 148.3,118.6 148.6,118.6 148.9,118.6 149.2,118.6 149.5,118.6 149.8,118.6 150.1,118.6 150.4,118.6 150.7,118.6 151.0,118.6 151.3,118.6 151.6,118.6 151.9,118.6 152.2,118.6 152.5,118.6 152.8,118.6 153.1,118.6 153.4,118.6 153.7,118.6 154.0,118.6 154.3,118.6 154.6,118.6 154.9,118.6 155.2,118.6 155.5,118.6 155.8,118.6 156.1,118.6 156.4,118.6 156.7,118.6 157.0,118.6 157.3,118.6 157.6,118.6 157.9,118.6 158.2,118.6 158.5,118.6 158.8,118.6 159.1,118.6 159.4,118.6 159.7,118.6 160.0,118.6 160.3,118.6 160.6,118.6 160.9,118.6 161.2,118.6 161.5,118.6 161.8,118.6 162.1,118.6 162.4,118.6 162.7,118.6 163.0,118.6 163.3,118.6 163.6,118.6 163.9,118.6 164.2,118.6 164.5,118.6 164.8,118.6 165.1,118.6 165.4,118.6 165.7,118.6 166.0,118.6 166.3,118.6 166.6,118.6 166.9,118.6 167.2,118.6 167.5,118.6 167.8,118.6 168.1,118.6 168.4,118.6 168.7,118.6 169.0,118.6 169.3,118.6 169.6,118.6 169.9,118.6 170.2,118.6 170.5,118.6 170.8,118.6 171.1,118.6 171.4,118.6 171.7,118.6 172.0,118.6 172.3,118.6 172.6,118.6 172.9,118.6 173.2,118.6 173.5,118.6 173.8,118.6 174.1,118.6 174.4,118.6" fill="none" stroke="#10e0e8" stroke-width="1.7" stroke-linejoin="round"/>
<path d="M50.5,154.8 50.8,154.9 51.1,154.9 51.4,154.9 51.7,155.0 52.0,155.0 52.3,155.1 52.6,155.1 52.9,155.1 53.2,155.1 53.5,155.2 53.8,155.2 54.1,155.2 54.4,155.2 54.7,155.3 55.0,155.3 55.3,155.3 55.6,155.3 55.9,155.3 56.2,155.4 56.5,155.4 56.8,155.4 57.1,155.4 57.4,155.4 57.7,155.4 58.0,155.4 58.3,155.4 58.6,155.4 58.9,155.4 59.2,155.4 59.5,155.4 59.8,155.4 60.1,155.4 60.4,155.4 60.7,155.4 61.0,155.4 61.3,155.4 61.6,155.4 61.9,155.4 62.2,155.4 62.5,155.4 62.8,155.4 63.1,155.4 63.4,155.4 63.7,155.4 64.0,155.4 64.3,155.4 64.6,155.4 64.9,155.4 65.2,155.4 65.5,155.4 65.8,155.4 66.1,155.4 66.4,155.4 66.7,155.4 67.0,155.4 67.3,155.4 67.6,155.4 67.9,155.4 68.2,155.4 68.5,155.4 68.8,155.4 69.1,155.4 69.4,155.4 69.7,155.4 70.0,155.4 70.3,155.4 70.6,155.4 70.9,155.4 71.2,155.4 71.5,155.4 71.8,155.4 72.1,155.4 72.4,155.4 72.7,155.4 73.0,155.4 73.3,155.4 73.6,155.4 73.9,155.4 74.2,155.4 74.5,155.4 74.8,155.4 75.1,155.4 75.4,155.4 75.7,155.4 76.0,155.4 76.3,155.4 76.6,155.4 76.9,155.4 77.2,155.4 77.5,155.4 77.8,155.4 78.1,155.4 78.4,155.4 78.7,155.4 79.0,155.4 79.3,155.4 79.6,155.4 79.9,155.4 80.2,155.4 80.5,155.4 80.8,155.4 81.1,155.4 81.4,155.4 81.7,155.4 82.0,155.4 82.3,155.3 82.6,155.3 82.9,155.3 83.2,155.3 83.5,155.3 83.8,155.3 84.1,155.3 84.4,155.2 84.7,155.2 85.0,155.2 85.3,155.2 85.6,155.2 85.9,155.1 86.2,155.1 86.5,155.0 86.8,154.9 87.1,154.8 87.4,154.6 87.7,154.4 88.0,154.2 88.3,153.9 88.6,153.4 88.9,152.8 89.2,152.1 89.5,151.3 89.8,150.0 90.1,148.1 90.4,146.0 90.7,143.8 91.0,141.6 91.3,139.0 91.6,137.0 91.9,136.5 92.2,136.9 92.5,137.6 92.8,139.8 93.1,140.4 93.4,138.7 93.7,136.2 94.0,133.8 94.3,131.0 94.6,128.3 94.9,126.0 95.2,124.5 95.5,123.1 95.8,121.8 96.1,121.0 96.4,120.7 96.7,121.4 97.0,123.2 97.3,125.5 97.6,127.8 97.9,130.9 98.2,134.2 98.5,137.2 98.8,140.0 99.1,142.7 99.4,145.1 99.7,147.1 100.0,148.8 100.3,150.3 100.6,151.5 100.9,152.2 101.2,152.7 101.5,153.2 101.8,153.6 102.1,153.9 102.4,154.1 102.7,154.3 103.0,154.5 103.3,154.7 103.6,154.8 103.9,155.0 104.2,155.1 104.5,155.2 104.8,155.2 105.1,155.2 105.4,155.3 105.7,155.3 106.0,155.3 106.3,155.3 106.6,155.3 106.9,155.3 107.2,155.4 107.5,155.4 107.8,155.4 108.1,155.4 108.4,155.4 108.7,155.4 109.0,155.4 109.3,155.4 109.6,155.4 109.9,155.4 110.2,155.4 110.5,155.4 110.8,155.4 111.1,155.4 111.4,155.4 111.7,155.5 112.0,155.5 112.3,155.5 112.6,155.5 112.9,155.5 113.2,155.5 113.5,155.5 113.8,155.5 114.1,155.5 114.4,155.5 114.7,155.5 115.0,155.5 115.3,155.5 115.6,155.5 115.9,155.5 116.2,155.5 116.5,155.5 116.8,155.5 117.1,155.5 117.4,155.5 117.7,155.5 118.0,155.5 118.3,155.5 118.6,155.5 118.9,155.5 119.2,155.5 119.5,155.5 119.8,155.5 120.1,155.5 120.4,155.5 120.7,155.5 121.0,155.5 121.3,155.5 121.6,155.5 121.9,155.5 122.2,155.5 122.5,155.5 122.8,155.5 123.1,155.5 123.4,155.5 123.7,155.5 124.0,155.5 124.3,155.5 124.6,155.5 124.9,155.5 125.2,155.5 125.5,155.5 125.8,155.5 126.1,155.5 126.4,155.5 126.7,155.5 127.0,155.5 127.3,155.5 127.6,155.5 127.9,155.5 128.2,155.5 128.5,155.5 128.8,155.5 129.1,155.5 129.4,155.5 129.7,155.5 130.0,155.5 130.3,155.5 130.6,155.5 130.9,155.5 131.2,155.5 131.5,155.5 131.8,155.5 132.1,155.5 132.4,155.5 132.7,155.5 133.0,155.5 133.3,155.5 133.6,155.5 133.9,155.5 134.2,155.5 134.5,155.5 134.8,155.5 135.1,155.5 135.4,155.5 135.7,155.5 136.0,155.5 136.3,155.5 136.6,155.5 136.9,155.5 137.2,155.5 137.5,155.5 137.8,155.5 138.1,155.5 138.4,155.5 138.7,155.5 139.0,155.5 139.3,155.5 139.6,155.5 139.9,155.5 140.2,155.5 140.5,155.5 140.8,155.5 141.1,155.5 141.4,155.5 141.7,155.5 142.0,155.5 142.3,155.5 142.6,155.5 142.9,155.5 143.2,155.5 143.5,155.5 143.8,155.5 144.1,155.5 144.4,155.5 144.7,155.5 145.0,155.5 145.3,155.5 145.6,155.5 145.9,155.5 146.2,155.5 146.5,155.5 146.8,155.5 147.1,155.5 147.4,155.5 147.7,155.5 148.0,155.5 148.3,155.5 148.6,155.5 148.9,155.5 149.2,155.5 149.5,155.5 149.8,155.5 150.1,155.5 150.4,155.5 150.7,155.5 151.0,155.5 151.3,155.5 151.6,155.5 151.9,155.5 152.2,155.5 152.5,155.5 152.8,155.5 153.1,155.5 153.4,155.5 153.7,155.5 154.0,155.5 154.3,155.5 154.6,155.5 154.9,155.5 155.2,155.5 155.5,155.5 155.8,155.5 156.1,155.5 156.4,155.5 156.7,155.5 157.0,155.5 157.3,155.5 157.6,155.5 157.9,155.5 158.2,155.5 158.5,155.5 158.8,155.5 159.1,155.5 159.4,155.5 159.7,155.5 160.0,155.5 160.3,155.5 160.6,155.5 160.9,155.5 161.2,155.5 161.5,155.5 161.8,155.5 162.1,155.5 162.4,155.5 162.7,155.5 163.0,155.5 163.3,155.5 163.6,155.5 163.9,155.5 164.2,155.5 164.5,155.5 164.8,155.5 165.1,155.5 165.4,155.5 165.7,155.5 166.0,155.5 166.3,155.5 166.6,155.5 166.9,155.5 167.2,155.5 167.5,155.5 167.8,155.5 168.1,155.5 168.4,155.5 168.7,155.5 169.0,155.5 169.3,155.5 169.6,155.5 169.9,155.5 170.2,155.5 170.5,155.5 170.8,155.5 171.1,155.5 171.4,155.5 171.7,155.5 172.0,155.5 172.3,155.5 172.6,155.5 172.9,155.5 173.2,155.5 173.5,155.5 173.8,155.5 174.1,155.5 174.4,155.5" fill="none" stroke="#12a012" stroke-width="1.7" stroke-linejoin="round"/>
<path d="M50.5,188.6 50.8,188.9 51.1,189.2 51.4,189.5 51.7,189.7 52.0,189.9 52.3,190.2 52.6,190.4 52.9,190.5 53.2,190.7 53.5,190.9 53.8,191.0 54.1,191.1 54.4,191.3 54.7,191.4 55.0,191.5 55.3,191.6 55.6,191.7 55.9,191.8 56.2,191.8 56.5,191.9 56.8,191.9 57.1,191.9 57.4,192.0 57.7,192.0 58.0,192.0 58.3,192.1 58.6,192.1 58.9,192.1 59.2,192.1 59.5,192.1 59.8,192.1 60.1,192.1 60.4,192.2 60.7,192.2 61.0,192.2 61.3,192.2 61.6,192.2 61.9,192.2 62.2,192.2 62.5,192.2 62.8,192.2 63.1,192.2 63.4,192.2 63.7,192.2 64.0,192.2 64.3,192.2 64.6,192.2 64.9,192.2 65.2,192.2 65.5,192.2 65.8,192.2 66.1,192.2 66.4,192.2 66.7,192.2 67.0,192.2 67.3,192.2 67.6,192.2 67.9,192.2 68.2,192.2 68.5,192.2 68.8,192.2 69.1,192.2 69.4,192.2 69.7,192.2 70.0,192.2 70.3,192.2 70.6,192.2 70.9,192.2 71.2,192.2 71.5,192.2 71.8,192.2 72.1,192.2 72.4,192.2 72.7,192.2 73.0,192.2 73.3,192.2 73.6,192.2 73.9,192.2 74.2,192.2 74.5,192.2 74.8,192.2 75.1,192.2 75.4,192.2 75.7,192.2 76.0,192.2 76.3,192.2 76.6,192.2 76.9,192.2 77.2,192.2 77.5,192.2 77.8,192.2 78.1,192.2 78.4,192.2 78.7,192.2 79.0,192.2 79.3,192.2 79.6,192.2 79.9,192.2 80.2,192.2 80.5,192.2 80.8,192.2 81.1,192.2 81.4,192.2 81.7,192.2 82.0,192.2 82.3,192.2 82.6,192.2 82.9,192.2 83.2,192.2 83.5,192.2 83.8,192.2 84.1,192.2 84.4,192.2 84.7,192.2 85.0,192.2 85.3,192.2 85.6,192.2 85.9,192.2 86.2,192.2 86.5,192.2 86.8,192.2 87.1,192.2 87.4,192.2 87.7,192.2 88.0,192.2 88.3,192.2 88.6,192.2 88.9,192.2 89.2,192.2 89.5,192.2 89.8,192.2 90.1,192.2 90.4,192.2 90.7,192.2 91.0,192.2 91.3,192.2 91.6,192.2 91.9,192.2 92.2,192.2 92.5,192.2 92.8,192.2 93.1,192.2 93.4,192.2 93.7,192.2 94.0,192.2 94.3,192.2 94.6,192.2 94.9,192.2 95.2,192.2 95.5,192.2 95.8,192.2 96.1,192.2 96.4,192.2 96.7,192.2 97.0,192.2 97.3,192.2 97.6,192.1 97.9,192.1 98.2,192.1 98.5,192.1 98.8,192.1 99.1,192.1 99.4,192.1 99.7,192.0 100.0,192.0 100.3,191.9 100.6,191.9 100.9,191.8 101.2,191.8 101.5,191.7 101.8,191.6 102.1,191.6 102.4,191.5 102.7,191.4 103.0,191.2 103.3,191.0 103.6,190.7 103.9,190.4 104.2,189.8 104.5,188.5 104.8,186.5 105.1,184.1 105.4,181.0 105.7,176.3 106.0,171.6 106.3,168.0 106.6,164.6 106.9,162.5 107.2,162.8 107.5,164.5 107.8,166.7 108.1,167.3 108.4,165.3 108.7,163.1 109.0,160.6 109.3,158.6 109.6,157.5 109.9,157.2 110.2,158.3 110.5,160.1 110.8,162.8 111.1,166.7 111.4,170.4 111.7,173.8 112.0,177.0 112.3,179.9 112.6,182.2 112.9,184.4 113.2,186.1 113.5,187.4 113.8,188.2 114.1,188.8 114.4,189.4 114.7,189.9 115.0,190.3 115.3,190.6 115.6,190.8 115.9,191.0 116.2,191.2 116.5,191.3 116.8,191.5 117.1,191.6 117.4,191.7 117.7,191.7 118.0,191.8 118.3,191.8 118.6,191.9 118.9,191.9 119.2,191.9 119.5,192.0 119.8,192.0 120.1,192.0 120.4,192.1 120.7,192.1 121.0,192.1 121.3,192.1 121.6,192.1 121.9,192.2 122.2,192.2 122.5,192.2 122.8,192.2 123.1,192.2 123.4,192.2 123.7,192.2 124.0,192.2 124.3,192.2 124.6,192.2 124.9,192.2 125.2,192.2 125.5,192.2 125.8,192.2 126.1,192.2 126.4,192.2 126.7,192.2 127.0,192.2 127.3,192.2 127.6,192.2 127.9,192.2 128.2,192.2 128.5,192.2 128.8,192.2 129.1,192.2 129.4,192.2 129.7,192.2 130.0,192.2 130.3,192.2 130.6,192.2 130.9,192.2 131.2,192.2 131.5,192.2 131.8,192.2 132.1,192.2 132.4,192.2 132.7,192.2 133.0,192.2 133.3,192.2 133.6,192.2 133.9,192.2 134.2,192.2 134.5,192.2 134.8,192.2 135.1,192.2 135.4,192.2 135.7,192.2 136.0,192.2 136.3,192.2 136.6,192.2 136.9,192.2 137.2,192.2 137.5,192.2 137.8,192.2 138.1,192.2 138.4,192.2 138.7,192.2 139.0,192.2 139.3,192.2 139.6,192.2 139.9,192.2 140.2,192.2 140.5,192.2 140.8,192.2 141.1,192.2 141.4,192.2 141.7,192.2 142.0,192.2 142.3,192.2 142.6,192.2 142.9,192.2 143.2,192.2 143.5,192.2 143.8,192.2 144.1,192.2 144.4,192.2 144.7,192.2 145.0,192.2 145.3,192.2 145.6,192.2 145.9,192.2 146.2,192.2 146.5,192.2 146.8,192.2 147.1,192.2 147.4,192.2 147.7,192.2 148.0,192.2 148.3,192.2 148.6,192.2 148.9,192.2 149.2,192.2 149.5,192.2 149.8,192.2 150.1,192.2 150.4,192.2 150.7,192.2 151.0,192.2 151.3,192.2 151.6,192.2 151.9,192.2 152.2,192.2 152.5,192.2 152.8,192.2 153.1,192.2 153.4,192.2 153.7,192.2 154.0,192.2 154.3,192.2 154.6,192.2 154.9,192.2 155.2,192.2 155.5,192.2 155.8,192.2 156.1,192.2 156.4,192.2 156.7,192.2 157.0,192.2 157.3,192.2 157.6,192.2 157.9,192.2 158.2,192.2 158.5,192.2 158.8,192.2 159.1,192.2 159.4,192.2 159.7,192.2 160.0,192.2 160.3,192.2 160.6,192.2 160.9,192.2 161.2,192.2 161.5,192.2 161.8,192.2 162.1,192.2 162.4,192.2 162.7,192.2 163.0,192.2 163.3,192.2 163.6,192.2 163.9,192.2 164.2,192.2 164.5,192.2 164.8,192.2 165.1,192.2 165.4,192.2 165.7,192.2 166.0,192.2 166.3,192.2 166.6,192.2 166.9,192.2 167.2,192.2 167.5,192.2 167.8,192.2 168.1,192.2 168.4,192.2 168.7,192.2 169.0,192.2 169.3,192.2 169.6,192.2 169.9,192.2 170.2,192.2 170.5,192.2 170.8,192.2 171.1,192.2 171.4,192.2 171.7,192.2 172.0,192.2 172.3,192.2 172.6,192.2 172.9,192.2 173.2,192.2 173.5,192.2 173.8,192.2 174.1,192.2 174.4,192.2" fill="none" stroke="#f8a018" stroke-width="1.7" stroke-linejoin="round"/>
<path d="M50.5,221.3 50.8,221.4 51.1,221.6 51.4,221.8 51.7,222.3 52.0,223.0 52.3,223.8 52.6,224.4 52.9,225.1 53.2,225.7 53.5,226.4 53.8,226.9 54.1,227.3 54.4,227.6 54.7,227.8 55.0,228.1 55.3,228.3 55.6,228.5 55.9,228.7 56.2,228.8 56.5,228.8 56.8,228.9 57.1,228.9 57.4,229.0 57.7,229.0 58.0,229.0 58.3,229.1 58.6,229.1 58.9,229.1 59.2,229.1 59.5,229.1 59.8,229.1 60.1,229.1 60.4,229.1 60.7,229.1 61.0,229.1 61.3,229.1 61.6,229.1 61.9,229.1 62.2,229.1 62.5,229.1 62.8,229.1 63.1,229.1 63.4,229.1 63.7,229.1 64.0,229.1 64.3,229.1 64.6,229.1 64.9,229.1 65.2,229.1 65.5,229.1 65.8,229.1 66.1,229.1 66.4,229.1 66.7,229.1 67.0,229.1 67.3,229.1 67.6,229.1 67.9,229.1 68.2,229.1 68.5,229.1 68.8,229.1 69.1,229.1 69.4,229.1 69.7,229.1 70.0,229.1 70.3,229.1 70.6,229.1 70.9,229.1 71.2,229.1 71.5,229.1 71.8,229.1 72.1,229.1 72.4,229.1 72.7,229.1 73.0,229.1 73.3,229.1 73.6,229.1 73.9,229.1 74.2,229.1 74.5,229.1 74.8,229.1 75.1,229.1 75.4,229.1 75.7,229.1 76.0,229.1 76.3,229.1 76.6,229.1 76.9,229.1 77.2,229.1 77.5,229.1 77.8,229.1 78.1,229.1 78.4,229.1 78.7,229.1 79.0,229.1 79.3,229.1 79.6,229.1 79.9,229.1 80.2,229.1 80.5,229.1 80.8,229.1 81.1,229.1 81.4,229.1 81.7,229.1 82.0,229.1 82.3,229.1 82.6,229.1 82.9,229.1 83.2,229.1 83.5,229.1 83.8,229.1 84.1,229.1 84.4,229.1 84.7,229.1 85.0,229.1 85.3,229.1 85.6,229.1 85.9,229.1 86.2,229.1 86.5,229.1 86.8,229.1 87.1,229.1 87.4,229.1 87.7,229.1 88.0,229.1 88.3,229.1 88.6,229.1 88.9,229.1 89.2,229.1 89.5,229.1 89.8,229.1 90.1,229.1 90.4,229.1 90.7,229.1 91.0,229.1 91.3,229.1 91.6,229.1 91.9,229.1 92.2,229.1 92.5,229.1 92.8,229.1 93.1,229.1 93.4,229.1 93.7,229.1 94.0,229.1 94.3,229.1 94.6,229.1 94.9,229.1 95.2,229.1 95.5,229.1 95.8,229.1 96.1,229.1 96.4,229.1 96.7,229.1 97.0,229.1 97.3,229.1 97.6,229.1 97.9,229.1 98.2,229.1 98.5,229.1 98.8,229.1 99.1,229.1 99.4,229.1 99.7,229.1 100.0,229.1 100.3,229.1 100.6,229.1 100.9,229.1 101.2,229.1 101.5,229.1 101.8,229.1 102.1,229.1 102.4,229.1 102.7,229.1 103.0,229.1 103.3,229.1 103.6,229.0 103.9,229.0 104.2,229.0 104.5,229.0 104.8,229.0 105.1,229.0 105.4,228.9 105.7,228.9 106.0,228.9 106.3,228.9 106.6,228.8 106.9,228.8 107.2,228.8 107.5,228.7 107.8,228.7 108.1,228.6 108.4,228.5 108.7,228.4 109.0,228.3 109.3,228.1 109.6,227.9 109.9,227.6 110.2,226.7 110.5,223.7 110.8,219.7 111.1,214.6 111.4,207.6 111.7,203.2 112.0,200.3 112.3,198.5 112.6,198.7 112.9,199.9 113.2,201.4 113.5,203.2 113.8,205.5 114.1,207.8 114.4,209.6 114.7,211.4 115.0,212.9 115.3,213.8 115.6,213.7 115.9,212.9 116.2,211.8 116.5,210.5 116.8,208.7 117.1,206.5 117.4,204.3 117.7,202.2 118.0,199.9 118.3,197.8 118.6,196.2 118.9,194.9 119.2,194.1 119.5,194.3 119.8,195.8 120.1,197.6 120.4,200.4 120.7,203.9 121.0,207.3 121.3,210.5 121.6,213.9 121.9,216.8 122.2,219.0 122.5,220.9 122.8,222.6 123.1,223.9 123.4,224.8 123.7,225.6 124.0,226.3 124.3,226.8 124.6,227.1 124.9,227.4 125.2,227.6 125.5,227.8 125.8,228.0 126.1,228.2 126.4,228.3 126.7,228.4 127.0,228.4 127.3,228.5 127.6,228.5 127.9,228.6 128.2,228.6 128.5,228.7 128.8,228.7 129.1,228.7 129.4,228.8 129.7,228.8 130.0,228.8 130.3,228.9 130.6,228.9 130.9,228.9 131.2,228.9 131.5,228.9 131.8,229.0 132.1,229.0 132.4,229.0 132.7,229.0 133.0,229.0 133.3,229.0 133.6,229.0 133.9,229.0 134.2,229.0 134.5,229.0 134.8,229.0 135.1,229.0 135.4,229.0 135.7,229.0 136.0,229.0 136.3,229.0 136.6,229.0 136.9,229.0 137.2,229.0 137.5,229.0 137.8,229.0 138.1,229.0 138.4,229.0 138.7,229.0 139.0,229.0 139.3,229.0 139.6,229.0 139.9,229.0 140.2,229.0 140.5,229.0 140.8,229.0 141.1,229.0 141.4,229.0 141.7,229.0 142.0,229.0 142.3,229.0 142.6,229.0 142.9,229.0 143.2,229.0 143.5,229.0 143.8,229.0 144.1,229.0 144.4,229.0 144.7,229.0 145.0,229.0 145.3,229.0 145.6,229.0 145.9,229.0 146.2,229.0 146.5,229.0 146.8,229.0 147.1,229.0 147.4,229.0 147.7,229.0 148.0,229.0 148.3,229.0 148.6,229.0 148.9,229.0 149.2,229.0 149.5,229.0 149.8,229.0 150.1,229.0 150.4,229.0 150.7,229.0 151.0,229.0 151.3,229.0 151.6,229.0 151.9,229.0 152.2,229.0 152.5,229.0 152.8,229.0 153.1,229.0 153.4,229.0 153.7,229.0 154.0,229.0 154.3,229.1 154.6,229.1 154.9,229.1 155.2,229.1 155.5,229.1 155.8,229.1 156.1,229.1 156.4,229.1 156.7,229.1 157.0,229.1 157.3,229.1 157.6,229.1 157.9,229.1 158.2,229.1 158.5,229.1 158.8,229.1 159.1,229.1 159.4,229.1 159.7,229.1 160.0,229.1 160.3,229.1 160.6,229.1 160.9,229.1 161.2,229.1 161.5,229.1 161.8,229.1 162.1,229.1 162.4,229.1 162.7,229.1 163.0,229.1 163.3,229.1 163.6,229.1 163.9,229.1 164.2,229.1 164.5,229.1 164.8,229.1 165.1,229.1 165.4,229.1 165.7,229.1 166.0,229.1 166.3,229.1 166.6,229.1 166.9,229.1 167.2,229.1 167.5,229.1 167.8,229.1 168.1,229.1 168.4,229.1 168.7,229.1 169.0,229.1 169.3,229.1 169.6,229.1 169.9,229.1 170.2,229.1 170.5,229.1 170.8,229.1 171.1,229.1 171.4,229.1 171.7,229.1 172.0,229.1 172.3,229.1 172.6,229.1 172.9,229.1 173.2,229.1 173.5,229.1 173.8,229.1 174.1,229.1 174.4,229.1" fill="none" stroke="#f07a1a" stroke-width="1.7" stroke-linejoin="round"/>
<path d="M50.5,259.9 50.8,259.9 51.1,259.9 51.4,259.9 51.7,259.8 52.0,259.8 52.3,259.8 52.6,259.8 52.9,259.8 53.2,259.7 53.5,259.7 53.8,259.7 54.1,259.7 54.4,259.6 54.7,259.6 55.0,259.6 55.3,259.6 55.6,259.6 55.9,259.6 56.2,259.6 56.5,259.7 56.8,259.8 57.1,260.0 57.4,260.2 57.7,260.5 58.0,260.9 58.3,261.4 58.6,261.9 58.9,262.4 59.2,262.8 59.5,263.2 59.8,263.5 60.1,263.9 60.4,264.2 60.7,264.5 61.0,264.7 61.3,264.9 61.6,265.1 61.9,265.3 62.2,265.5 62.5,265.6 62.8,265.7 63.1,265.8 63.4,265.8 63.7,265.9 64.0,265.9 64.3,265.9 64.6,265.9 64.9,265.9 65.2,266.0 65.5,266.0 65.8,266.0 66.1,266.0 66.4,266.0 66.7,266.0 67.0,266.0 67.3,266.0 67.6,266.0 67.9,266.0 68.2,266.0 68.5,266.0 68.8,266.0 69.1,266.0 69.4,266.0 69.7,266.0 70.0,266.0 70.3,266.0 70.6,266.0 70.9,266.0 71.2,266.0 71.5,266.0 71.8,266.0 72.1,266.0 72.4,266.0 72.7,266.0 73.0,266.0 73.3,266.0 73.6,266.0 73.9,266.0 74.2,266.0 74.5,266.0 74.8,266.0 75.1,266.0 75.4,266.0 75.7,266.0 76.0,266.0 76.3,266.0 76.6,266.0 76.9,266.0 77.2,266.0 77.5,266.0 77.8,266.0 78.1,266.0 78.4,266.0 78.7,266.0 79.0,266.0 79.3,266.0 79.6,266.0 79.9,266.0 80.2,266.0 80.5,266.0 80.8,266.0 81.1,266.0 81.4,266.0 81.7,266.0 82.0,266.0 82.3,266.0 82.6,266.0 82.9,266.0 83.2,266.0 83.5,266.0 83.8,266.0 84.1,266.0 84.4,266.0 84.7,266.0 85.0,266.0 85.3,266.0 85.6,266.0 85.9,266.0 86.2,266.0 86.5,266.0 86.8,266.0 87.1,266.0 87.4,266.0 87.7,266.0 88.0,266.0 88.3,266.0 88.6,266.0 88.9,266.0 89.2,266.0 89.5,266.0 89.8,266.0 90.1,266.0 90.4,266.0 90.7,266.0 91.0,266.0 91.3,266.0 91.6,266.0 91.9,266.0 92.2,266.0 92.5,266.0 92.8,266.0 93.1,266.0 93.4,266.0 93.7,266.0 94.0,266.0 94.3,266.0 94.6,266.0 94.9,266.0 95.2,266.0 95.5,266.0 95.8,266.0 96.1,266.0 96.4,266.0 96.7,266.0 97.0,266.0 97.3,266.0 97.6,266.0 97.9,266.0 98.2,266.0 98.5,266.0 98.8,266.0 99.1,266.0 99.4,266.0 99.7,266.0 100.0,266.0 100.3,266.0 100.6,266.0 100.9,266.0 101.2,266.0 101.5,266.0 101.8,266.0 102.1,266.0 102.4,266.0 102.7,266.0 103.0,266.0 103.3,266.0 103.6,266.0 103.9,266.0 104.2,266.0 104.5,266.0 104.8,266.0 105.1,266.0 105.4,266.0 105.7,266.0 106.0,266.0 106.3,266.0 106.6,266.0 106.9,266.0 107.2,266.0 107.5,266.0 107.8,266.0 108.1,266.0 108.4,266.0 108.7,266.0 109.0,266.0 109.3,266.0 109.6,266.0 109.9,266.0 110.2,266.0 110.5,266.0 110.8,266.0 111.1,266.0 111.4,266.0 111.7,266.0 112.0,266.0 112.3,266.0 112.6,266.0 112.9,266.0 113.2,266.0 113.5,266.0 113.8,266.0 114.1,266.0 114.4,266.0 114.7,266.0 115.0,265.9 115.3,265.9 115.6,265.9 115.9,265.9 116.2,265.9 116.5,265.9 116.8,265.9 117.1,265.9 117.4,265.9 117.7,265.8 118.0,265.8 118.3,265.8 118.6,265.8 118.9,265.8 119.2,265.7 119.5,265.6 119.8,265.6 120.1,265.5 120.4,265.4 120.7,265.2 121.0,265.1 121.3,264.7 121.6,263.8 121.9,262.4 122.2,258.3 122.5,249.6 122.8,239.8 123.1,233.6 123.4,230.7 123.7,231.0 124.0,233.1 124.3,235.4 124.6,238.5 124.9,241.5 125.2,243.6 125.5,245.5 125.8,247.0 126.1,248.1 126.4,248.9 126.7,249.3 127.0,248.6 127.3,247.1 127.6,245.2 127.9,241.9 128.2,238.0 128.5,235.2 128.8,232.7 129.1,231.0 129.4,230.6 129.7,230.5 130.0,231.0 130.3,233.2 130.6,235.7 130.9,239.0 131.2,242.6 131.5,245.9 131.8,249.0 132.1,252.0 132.4,254.5 132.7,256.5 133.0,258.1 133.3,259.5 133.6,260.7 133.9,261.6 134.2,262.2 134.5,262.7 134.8,263.2 135.1,263.6 135.4,263.9 135.7,264.2 136.0,264.4 136.3,264.5 136.6,264.7 136.9,264.8 137.2,265.0 137.5,265.1 137.8,265.2 138.1,265.3 138.4,265.4 138.7,265.4 139.0,265.5 139.3,265.5 139.6,265.5 139.9,265.5 140.2,265.6 140.5,265.6 140.8,265.6 141.1,265.6 141.4,265.7 141.7,265.7 142.0,265.7 142.3,265.7 142.6,265.7 142.9,265.7 143.2,265.8 143.5,265.8 143.8,265.8 144.1,265.8 144.4,265.8 144.7,265.8 145.0,265.8 145.3,265.8 145.6,265.8 145.9,265.8 146.2,265.8 146.5,265.8 146.8,265.8 147.1,265.8 147.4,265.8 147.7,265.8 148.0,265.8 148.3,265.9 148.6,265.9 148.9,265.9 149.2,265.9 149.5,265.9 149.8,265.9 150.1,265.9 150.4,265.9 150.7,265.9 151.0,265.9 151.3,265.9 151.6,265.9 151.9,265.9 152.2,265.9 152.5,265.9 152.8,265.9 153.1,265.9 153.4,265.9 153.7,265.9 154.0,265.9 154.3,265.9 154.6,265.9 154.9,265.9 155.2,265.9 155.5,265.9 155.8,265.9 156.1,265.9 156.4,265.9 156.7,265.9 157.0,265.9 157.3,265.9 157.6,265.9 157.9,265.9 158.2,265.9 158.5,265.9 158.8,265.9 159.1,265.9 159.4,265.9 159.7,265.9 160.0,265.9 160.3,265.9 160.6,265.9 160.9,265.9 161.2,265.9 161.5,265.9 161.8,265.9 162.1,265.9 162.4,265.9 162.7,265.9 163.0,265.9 163.3,265.9 163.6,265.9 163.9,265.9 164.2,265.9 164.5,265.9 164.8,265.9 165.1,265.9 165.4,265.9 165.7,265.9 166.0,265.9 166.3,265.9 166.6,265.9 166.9,265.9 167.2,265.9 167.5,265.9 167.8,265.9 168.1,265.9 168.4,265.9 168.7,265.9 169.0,265.9 169.3,265.9 169.6,265.9 169.9,265.9 170.2,265.9 170.5,265.9 170.8,265.9 171.1,265.9 171.4,265.9 171.7,265.9 172.0,265.9 172.3,265.9 172.6,265.9 172.9,265.9 173.2,265.9 173.5,265.9 173.8,265.9 174.1,265.9 174.4,265.9" fill="none" stroke="#dc0c10" stroke-width="1.7" stroke-linejoin="round"/>
<path d="M50.5,8.3H174.4M50.5,45.1H174.4M50.5,82.0H174.4M50.5,118.8H174.4M50.5,155.7H174.4M50.5,192.5H174.4M50.5,229.4H174.4M50.5,266.2H174.4M50.5,8.3V266.2M174.4,8.3V266.2M56.7,45.1v-4.7M118.6,45.1v-4.7M50.5,26.7h4.5M56.7,82.0v-4.7M87.7,82.0v-4.7M118.6,82.0v-4.7M149.6,82.0v-4.7M50.5,63.6h4.5M56.7,118.8v-4.7M87.7,118.8v-4.7M118.6,118.8v-4.7M149.6,118.8v-4.7M50.5,100.4h4.5M56.7,155.7v-4.7M87.7,155.7v-4.7M118.6,155.7v-4.7M149.6,155.7v-4.7M50.5,137.2h4.5M56.7,192.5v-4.7M87.7,192.5v-4.7M118.6,192.5v-4.7M149.6,192.5v-4.7M50.5,174.1h4.5M56.7,229.4v-4.7M87.7,229.4v-4.7M118.6,229.4v-4.7M149.6,229.4v-4.7M50.5,210.9h4.5M56.7,266.2v-4.7M87.7,266.2v-4.7M118.6,266.2v-4.7M149.6,266.2v-4.7M50.5,247.8h4.5" fill="none" stroke="#000" stroke-width="1.25"/>
<rect x="115.4" y="8.3" width="59.0" height="14.2" fill="#fff" stroke="#000" stroke-width="1.2"/>
<path d="M116.4,15.5h22.6" stroke="#7a10f0" stroke-width="1.7"/>
<text x="141.3" y="19.2">S=0.80</text>
<rect x="115.4" y="45.1" width="59.0" height="14.2" fill="#fff" stroke="#000" stroke-width="1.2"/>
<path d="M116.4,52.3h22.6" stroke="#0a20c8" stroke-width="1.7"/>
<text x="141.3" y="56.0">S=0.85</text>
<rect x="115.4" y="82.0" width="59.0" height="14.2" fill="#fff" stroke="#000" stroke-width="1.2"/>
<path d="M116.4,89.2h22.6" stroke="#10e0e8" stroke-width="1.7"/>
<text x="141.3" y="92.9">S=0.95</text>
<rect x="115.4" y="118.8" width="59.0" height="14.2" fill="#fff" stroke="#000" stroke-width="1.2"/>
<path d="M116.4,126.0h22.6" stroke="#12a012" stroke-width="1.7"/>
<text x="141.3" y="129.7">S=1.00</text>
<rect x="115.4" y="155.7" width="59.0" height="14.2" fill="#fff" stroke="#000" stroke-width="1.2"/>
<path d="M116.4,162.9h22.6" stroke="#f8a018" stroke-width="1.7"/>
<text x="141.3" y="166.6">S=1.05</text>
<rect x="50.5" y="192.5" width="59.3" height="14.2" fill="#fff" stroke="#000" stroke-width="1.2"/>
<path d="M51.5,199.7h22.6" stroke="#f07a1a" stroke-width="1.7"/>
<text x="76.4" y="203.4">S=1.10</text>
<rect x="50.5" y="229.4" width="59.3" height="14.2" fill="#fff" stroke="#000" stroke-width="1.2"/>
<path d="M51.5,236.6h22.6" stroke="#dc0c10" stroke-width="1.7"/>
<text x="76.4" y="240.3">S=1.20</text>
<text x="44.6" y="12.2" text-anchor="end">100</text>
<text x="44.6" y="31.0" text-anchor="end">50</text>
<text x="44.6" y="49.0" text-anchor="end">100</text>
<text x="44.6" y="67.9" text-anchor="end">50</text>
<text x="44.6" y="85.9" text-anchor="end">100</text>
<text x="44.6" y="104.7" text-anchor="end">50</text>
<text x="44.6" y="122.7" text-anchor="end">100</text>
<text x="44.6" y="141.6" text-anchor="end">50</text>
<text x="44.6" y="159.6" text-anchor="end">100</text>
<text x="44.6" y="178.4" text-anchor="end">50</text>
<text x="44.6" y="196.4" text-anchor="end">100</text>
<text x="44.6" y="215.2" text-anchor="end">50</text>
<text x="44.6" y="233.3" text-anchor="end">100</text>
<text x="44.6" y="252.1" text-anchor="end">50</text>
<text x="44.6" y="270.1" text-anchor="end">0</text>
<text x="56.7" y="279.8" text-anchor="middle">400</text>
<text x="87.7" y="279.8" text-anchor="middle">500</text>
<text x="118.6" y="279.8" text-anchor="middle">600</text>
<text x="149.6" y="279.8" text-anchor="middle">700</text>
</g>
<text x="111.9" y="297" text-anchor="middle" font-size="11.3">Wavelength (nm)</text>
<text transform="translate(23.6,136.3) rotate(-90)" text-anchor="middle" font-size="11.3">Reflectance (%)</text>
<text x="-0.6" y="7.5" font-size="11" font-weight="bold">a</text>
<path d="M283.2,263.3 283.2,263.3 283.2,263.3 283.2,263.3 283.1,263.3 283.1,263.3 283.1,263.3 283.1,263.3 283.0,263.3 283.0,263.3 283.0,263.3 283.0,263.3 282.9,263.3 282.9,263.3 282.8,263.3 282.8,263.3 282.7,263.3 282.7,263.3 282.6,263.3 282.6,263.3 282.5,263.2 282.4,263.2 282.3,263.1 282.1,263.0 282.0,262.9 281.8,262.7 281.6,262.6 281.4,262.4 281.2,262.1 280.9,261.9 280.6,261.6 280.3,261.3 279.9,260.9 279.5,260.6 279.1,260.1 278.5,259.6 278.0,259.1 277.4,258.5 276.7,257.8 275.9,257.1 275.2,256.2 274.3,255.2 273.4,254.0 272.4,252.5 271.2,250.6 269.9,248.2 268.4,245.3 266.8,241.8 265.1,237.7 263.2,232.7 261.1,226.7 258.8,219.8 256.3,211.8 253.8,202.5 251.3,192.0 248.8,180.3 246.4,167.5 244.0,153.7 242.0,139.5 240.2,125.0 238.9,110.7 238.0,96.7 237.7,83.6 237.9,71.3 238.8,60.0 240.4,50.1 242.6,41.6 245.5,35.0 248.8,30.3 252.5,27.4 256.5,26.1 260.7,26.3 265.0,27.5 269.4,29.3 273.7,31.6 278.0,34.1 282.2,36.8 286.2,39.6 290.2,42.6 294.1,45.7 298.0,48.9 301.9,52.2 305.8,55.7 309.6,59.3 313.4,62.9 317.3,66.6 321.1,70.4 324.9,74.3 328.7,78.2 332.5,82.1 336.4,86.0 340.2,90.0 344.0,94.0 347.8,98.0 351.5,102.0 355.3,106.0 359.0,110.0 362.7,113.9 366.4,117.8 370.0,121.7 373.6,125.5 377.1,129.2 380.5,132.9 383.9,136.5 387.1,139.9 390.3,143.3 393.4,146.6 396.3,149.8 399.1,152.7 401.7,155.5 404.2,158.1 406.5,160.7 408.8,163.0 410.9,165.2 412.8,167.3 414.5,169.1 416.2,170.9 417.6,172.5 419.0,173.9 420.3,175.3 421.4,176.5 422.4,177.6 423.4,178.6 424.3,179.5 425.0,180.4 425.8,181.2 426.5,181.9 427.1,182.6 427.7,183.2 428.3,183.8 428.8,184.3 429.2,184.8 429.6,185.3 430.0,185.7 430.3,186.0 430.6,186.3 430.9,186.6 431.1,186.8 431.3,187.1 431.5,187.3 431.7,187.4 431.8,187.6 431.9,187.7 432.0,187.8 432.1,187.9 432.2,188.0 432.3,188.1 432.4,188.2 432.4,188.3 432.5,188.4 432.6,188.4 432.7,188.5 432.7,188.6 432.8,188.6 432.8,188.7 432.9,188.7 432.9,188.7 432.9,188.8 432.9,188.8 432.9,188.8 432.9,188.8Z" fill="none" stroke="#1414f0" stroke-width="1.3" stroke-linejoin="round"/>
<path d="M255.2,20.5L256.8,25.9M300.0,44.5L297.7,48.5M338.0,82.5L335.5,86.5M376.7,121.7L373.3,126.7M406.7,155.0L404.3,159.0M423.3,173.3L421.0,177.3M256.7,229.0L261.7,226.7M272.2,260.2L274.9,256.6M236.7,110.8L239.5,110.6" stroke="#000" stroke-width="0.8"/>
<circle cx="263.1" cy="49.2" r="2.7" fill="#000"/>
<circle cx="273.6" cy="42.4" r="2.7" fill="#000"/>
<circle cx="313.5" cy="71.1" r="2.7" fill="#000"/>
<circle cx="249.1" cy="86.3" r="2.7" fill="#000"/>
<circle cx="334.3" cy="90.3" r="2.7" fill="#000"/>
<circle cx="354.3" cy="110.2" r="2.7" fill="#000"/>
<circle cx="250.5" cy="150.3" r="2.7" fill="#000"/>
<circle cx="257.6" cy="199.2" r="2.7" fill="#000"/>
<circle cx="264.3" cy="224.0" r="2.7" fill="#000"/>
<circle cx="271.2" cy="246.7" r="2.7" fill="#000"/>
<circle cx="279.0" cy="250.7" r="2.7" fill="#000"/>
<circle cx="393.3" cy="150.4" r="2.7" fill="#000"/>
<circle cx="414.2" cy="178.8" r="2.7" fill="#000"/>
<path d="M282.1,36.7L271.7,251.5L425.8,181.2" fill="none" stroke="#878787" stroke-width="1.5" stroke-dasharray="9.6 7.05"/>
<path d="M282.1,36.7L425.8,181.2" fill="none" stroke="#878787" stroke-width="1.5" stroke-dasharray="9.9 7.6" stroke-dashoffset="-7.5"/>
<circle cx="425.8" cy="181.2" r="2.8" fill="#f06450"/>
<circle cx="282.1" cy="36.7" r="2.8" fill="#f06450"/>
<circle cx="271.7" cy="251.5" r="2.8" fill="#f06450"/>
<path d="M236.7,7.3H450.4V264.7H236.7ZM290.1,264.7v-4M343.5,264.7v-4M397.0,264.7v-4M236.7,207.5h4M236.7,150.3h4M236.7,93.0h4M236.7,35.8h4" fill="none" stroke="#000" stroke-width="1"/>
<g font-size="9" fill="#000">
<text x="236.7" y="277.9" text-anchor="middle">0.0</text>
<text x="231.7" y="267.8" text-anchor="end">0.0</text>
<text x="290.1" y="277.9" text-anchor="middle">0.2</text>
<text x="231.7" y="210.6" text-anchor="end">0.2</text>
<text x="343.5" y="277.9" text-anchor="middle">0.4</text>
<text x="231.7" y="153.4" text-anchor="end">0.4</text>
<text x="397.0" y="277.9" text-anchor="middle">0.6</text>
<text x="231.7" y="96.1" text-anchor="end">0.6</text>
<text x="450.4" y="277.9" text-anchor="middle">0.8</text>
<text x="231.7" y="38.9" text-anchor="end">0.8</text>
<text x="343.8" y="293.8" text-anchor="middle" font-size="9.5">x</text>
<text transform="translate(213.2,135.8) rotate(-90)" text-anchor="middle" font-size="9.5">y</text>
</g>
<g font-size="9.1" fill="#2a2aff" text-anchor="middle">
<text x="253.8" y="17.2">520</text>
<text x="305.8" y="41.8">540</text>
<text x="344.3" y="79.6">560</text>
<text x="382.3" y="119.1">580</text>
<text x="413.3" y="152.4">600</text>
<text x="430.0" y="170.8">620</text>
<text x="249.3" y="234.8">480</text>
<text x="266.0" y="262.4">460</text>
<text x="227.5" y="114.6">500</text>
</g>
<rect x="344.8" y="7.3" width="105.6" height="15.5" fill="#fff" stroke="#000" stroke-width="1"/>
<path d="M347.5,16.3h8M360,16.3h6" stroke="#858585" stroke-width="1.2"/>
<circle cx="357.2" cy="16.3" r="2.3" fill="#f06450"/>
<text x="368.8" y="19.5" font-size="9">UHDTV(Rec.2020)</text>
<text x="187.3" y="7.7" font-size="11" font-weight="bold">b</text>
<g clip-path="url(#cp0)">
<rect x="498.7" y="10.7" width="37.9" height="65.1" fill="url(#gp)"/>
<ellipse cx="498.7" cy="10.7" rx="11.3" ry="18.0" fill="none" stroke="#2c2c80" stroke-opacity="0.45" stroke-width="3" filter="url(#bl)"/>
<ellipse cx="498.7" cy="10.7" rx="11.3" ry="18.0" fill="url(#ge)" stroke="#40408a" stroke-width="0.9"/>
<ellipse cx="536.6" cy="10.7" rx="11.3" ry="18.0" fill="none" stroke="#2c2c80" stroke-opacity="0.45" stroke-width="3" filter="url(#bl)"/>
<ellipse cx="536.6" cy="10.7" rx="11.3" ry="18.0" fill="url(#ge)" stroke="#40408a" stroke-width="0.9"/>
<ellipse cx="498.7" cy="75.8" rx="11.3" ry="17.6" fill="none" stroke="#2c2c80" stroke-opacity="0.45" stroke-width="3" filter="url(#bl)"/>
<ellipse cx="498.7" cy="75.8" rx="11.3" ry="17.6" fill="url(#ge)" stroke="#40408a" stroke-width="0.9"/>
<ellipse cx="536.6" cy="75.8" rx="11.3" ry="17.6" fill="none" stroke="#2c2c80" stroke-opacity="0.45" stroke-width="3" filter="url(#bl)"/>
<ellipse cx="536.6" cy="75.8" rx="11.3" ry="17.6" fill="url(#ge)" stroke="#40408a" stroke-width="0.9"/>
<ellipse cx="517.6" cy="43.2" rx="11.3" ry="18.5" fill="none" stroke="#2c2c80" stroke-opacity="0.45" stroke-width="3" filter="url(#bl)"/>
<ellipse cx="517.6" cy="43.2" rx="11.3" ry="18.5" fill="url(#ge)" stroke="#40408a" stroke-width="0.9"/>
</g>
<rect x="498.7" y="75.8" width="37.9" height="11.6" fill="#efefef"/>
<rect x="498.7" y="10.7" width="37.9" height="76.7" fill="none" stroke="#efefef" stroke-width="1.2" stroke-dasharray="4.5 2.3"/>
<g clip-path="url(#cp1)">
<rect x="540.5" y="10.7" width="38.4" height="65.1" fill="url(#gp)"/>
<ellipse cx="540.5" cy="10.7" rx="11.3" ry="18.0" fill="none" stroke="#2c2c80" stroke-opacity="0.45" stroke-width="3" filter="url(#bl)"/>
<ellipse cx="540.5" cy="10.7" rx="11.3" ry="18.0" fill="url(#ge)" stroke="#40408a" stroke-width="0.9"/>
<ellipse cx="578.9" cy="10.7" rx="11.3" ry="18.0" fill="none" stroke="#2c2c80" stroke-opacity="0.45" stroke-width="3" filter="url(#bl)"/>
<ellipse cx="578.9" cy="10.7" rx="11.3" ry="18.0" fill="url(#ge)" stroke="#40408a" stroke-width="0.9"/>
<ellipse cx="540.5" cy="75.8" rx="11.3" ry="17.6" fill="none" stroke="#2c2c80" stroke-opacity="0.45" stroke-width="3" filter="url(#bl)"/>
<ellipse cx="540.5" cy="75.8" rx="11.3" ry="17.6" fill="url(#ge)" stroke="#40408a" stroke-width="0.9"/>
<ellipse cx="578.9" cy="75.8" rx="11.3" ry="17.6" fill="none" stroke="#2c2c80" stroke-opacity="0.45" stroke-width="3" filter="url(#bl)"/>
<ellipse cx="578.9" cy="75.8" rx="11.3" ry="17.6" fill="url(#ge)" stroke="#40408a" stroke-width="0.9"/>
<ellipse cx="559.7" cy="43.2" rx="11.4" ry="13.5" fill="none" stroke="#2c2c80" stroke-opacity="0.45" stroke-width="3" filter="url(#bl)"/>
<ellipse cx="559.7" cy="43.2" rx="11.4" ry="13.5" fill="url(#ge)" stroke="#40408a" stroke-width="0.9"/>
</g>
<rect x="540.5" y="75.8" width="38.4" height="11.6" fill="#9e9e9e"/>
<rect x="540.5" y="10.7" width="38.4" height="76.7" fill="none" stroke="#cfcfcf" stroke-width="1.2" stroke-dasharray="4.5 2.3"/>
<g clip-path="url(#cp2)">
<rect x="582.6" y="10.7" width="38.7" height="65.1" fill="url(#gp)"/>
<ellipse cx="582.6" cy="10.7" rx="11.3" ry="18.0" fill="none" stroke="#2c2c80" stroke-opacity="0.45" stroke-width="3" filter="url(#bl)"/>
<ellipse cx="582.6" cy="10.7" rx="11.3" ry="18.0" fill="url(#ge)" stroke="#40408a" stroke-width="0.9"/>
<ellipse cx="621.3" cy="10.7" rx="11.3" ry="18.0" fill="none" stroke="#2c2c80" stroke-opacity="0.45" stroke-width="3" filter="url(#bl)"/>
<ellipse cx="621.3" cy="10.7" rx="11.3" ry="18.0" fill="url(#ge)" stroke="#40408a" stroke-width="0.9"/>
<ellipse cx="582.6" cy="75.8" rx="11.3" ry="17.6" fill="none" stroke="#2c2c80" stroke-opacity="0.45" stroke-width="3" filter="url(#bl)"/>
<ellipse cx="582.6" cy="75.8" rx="11.3" ry="17.6" fill="url(#ge)" stroke="#40408a" stroke-width="0.9"/>
<ellipse cx="621.3" cy="75.8" rx="11.3" ry="17.6" fill="none" stroke="#2c2c80" stroke-opacity="0.45" stroke-width="3" filter="url(#bl)"/>
<ellipse cx="621.3" cy="75.8" rx="11.3" ry="17.6" fill="url(#ge)" stroke="#40408a" stroke-width="0.9"/>
<ellipse cx="602.0" cy="43.2" rx="11.4" ry="11.2" fill="none" stroke="#2c2c80" stroke-opacity="0.45" stroke-width="3" filter="url(#bl)"/>
<ellipse cx="602.0" cy="43.2" rx="11.4" ry="11.2" fill="url(#ge)" stroke="#40408a" stroke-width="0.9"/>
</g>
<rect x="582.6" y="75.8" width="38.7" height="11.6" fill="#595757"/>
<rect x="582.6" y="10.7" width="38.7" height="76.7" fill="none" stroke="#595757" stroke-width="1.2" stroke-dasharray="4.5 2.3"/>
<g clip-path="url(#cp3)">
<rect x="625.0" y="10.7" width="38.7" height="65.1" fill="url(#gp)"/>
<ellipse cx="625.0" cy="10.7" rx="11.3" ry="18.0" fill="none" stroke="#2c2c80" stroke-opacity="0.45" stroke-width="3" filter="url(#bl)"/>
<ellipse cx="625.0" cy="10.7" rx="11.3" ry="18.0" fill="url(#ge)" stroke="#40408a" stroke-width="0.9"/>
<ellipse cx="663.7" cy="10.7" rx="11.3" ry="18.0" fill="none" stroke="#2c2c80" stroke-opacity="0.45" stroke-width="3" filter="url(#bl)"/>
<ellipse cx="663.7" cy="10.7" rx="11.3" ry="18.0" fill="url(#ge)" stroke="#40408a" stroke-width="0.9"/>
<ellipse cx="625.0" cy="75.8" rx="11.3" ry="17.6" fill="none" stroke="#2c2c80" stroke-opacity="0.45" stroke-width="3" filter="url(#bl)"/>
<ellipse cx="625.0" cy="75.8" rx="11.3" ry="17.6" fill="url(#ge)" stroke="#40408a" stroke-width="0.9"/>
<ellipse cx="663.7" cy="75.8" rx="11.3" ry="17.6" fill="none" stroke="#2c2c80" stroke-opacity="0.45" stroke-width="3" filter="url(#bl)"/>
<ellipse cx="663.7" cy="75.8" rx="11.3" ry="17.6" fill="url(#ge)" stroke="#40408a" stroke-width="0.9"/>
<ellipse cx="644.4" cy="44.0" rx="11.6" ry="9.4" fill="none" stroke="#2c2c80" stroke-opacity="0.45" stroke-width="3" filter="url(#bl)"/>
<ellipse cx="644.4" cy="44.0" rx="11.6" ry="9.4" fill="url(#ge)" stroke="#40408a" stroke-width="0.9"/>
</g>
<rect x="625.0" y="75.8" width="38.7" height="11.6" fill="#231815"/>
<rect x="625.0" y="10.7" width="38.7" height="76.7" fill="none" stroke="#231815" stroke-width="1.2" stroke-dasharray="4.5 2.3"/>
<path d="M517.4,29V58" stroke="#2a1410" stroke-width="1.2"/>
<path d="M517.4,26.8l-1.8,6h3.6zM517.4,60.2l-1.8,-6h3.6z" fill="#2a1410"/>
<text x="520.4" y="46.8" font-size="11.3" fill="#111">a</text>
<ellipse cx="644.2" cy="43.2" rx="12.1" ry="17.3" fill="none" stroke="#fff" stroke-width="1" stroke-dasharray="3.2 2.2"/>
<path d="M644.2,17V44.3" stroke="#f39800" stroke-width="1"/>
<path d="M644.2,26l-1.9,-5.5h3.8zM644.2,35l-1.9,5.5h3.8z" fill="#f39800"/>
<text x="646.6" y="34.6" font-size="11" fill="#f39800">Δr</text>
<path d="M498.5,87.8H670" stroke="#231815" stroke-width="0.6" stroke-opacity="0.7"/>
<path d="M677.3,87.8l-8.5,-2.3v4.6z" fill="#231815"/>
<text x="587" y="103" text-anchor="middle" font-size="11.2">Δr / brightness</text>
<text x="471.2" y="7.8" font-size="11" font-weight="bold">c</text>
<rect x="519.6" y="139.6" width="124.6" height="124.7" fill="none" stroke="#000" stroke-width="1"/>
<path d="M519.9,140.2h5M519.9,181.2h5M519.9,222.7h5M519.9,263.7h5M581.9,264.0v-5" stroke="#e8e8e8" stroke-width="1.1"/>
<g font-size="10" fill="#000">
<text x="514.6" y="143.2" text-anchor="end">700</text>
<text x="514.6" y="184.8" text-anchor="end">600</text>
<text x="514.6" y="226.3" text-anchor="end">500</text>
<text x="514.6" y="267.9" text-anchor="end">400</text>
<text x="519.6" y="277.8" text-anchor="middle">0</text>
<text x="581.9" y="277.8" text-anchor="middle">50</text>
<text x="644.2" y="277.8" text-anchor="middle">100</text>
<rect x="650.6" y="140.2" width="11.2" height="41.4" fill="url(#cr)"/>
<rect x="650.6" y="181.6" width="11.2" height="41.4" fill="url(#cg)"/>
<rect x="650.6" y="222.9" width="11.2" height="41.4" fill="url(#cb)"/>
<rect x="650.6" y="140.2" width="11.2" height="124.1" fill="none" stroke="#000" stroke-width="0.9"/>
<text x="664" y="164.6">0.5</text>
<text x="664" y="185.3">0.0</text>
<text x="664" y="205.9">0.5</text>
<text x="664" y="226.6">0.0</text>
<text x="664" y="247.3">0.5</text>
<text x="664" y="268.0">0.0</text>
<path d="M661.8,160.9h-3.5M661.8,181.6h-3.5M661.8,202.2h-3.5M661.8,222.9h-3.5M661.8,243.6h-3.5M661.8,264.3h-3.5" stroke="#000" stroke-width="0.9"/>
</g>
<text x="626.5" y="128.3" font-size="11.2">Reflectance</text>
<text x="582" y="295.4" text-anchor="middle" font-size="11.3">Δr (nm)</text>
<text transform="translate(492.6,201.5) rotate(-90)" text-anchor="middle" font-size="11.4">Wavelength (nm)</text>
<text x="470.8" y="139.8" font-size="11" font-weight="bold">d</text>
</svg>
</body></html>
